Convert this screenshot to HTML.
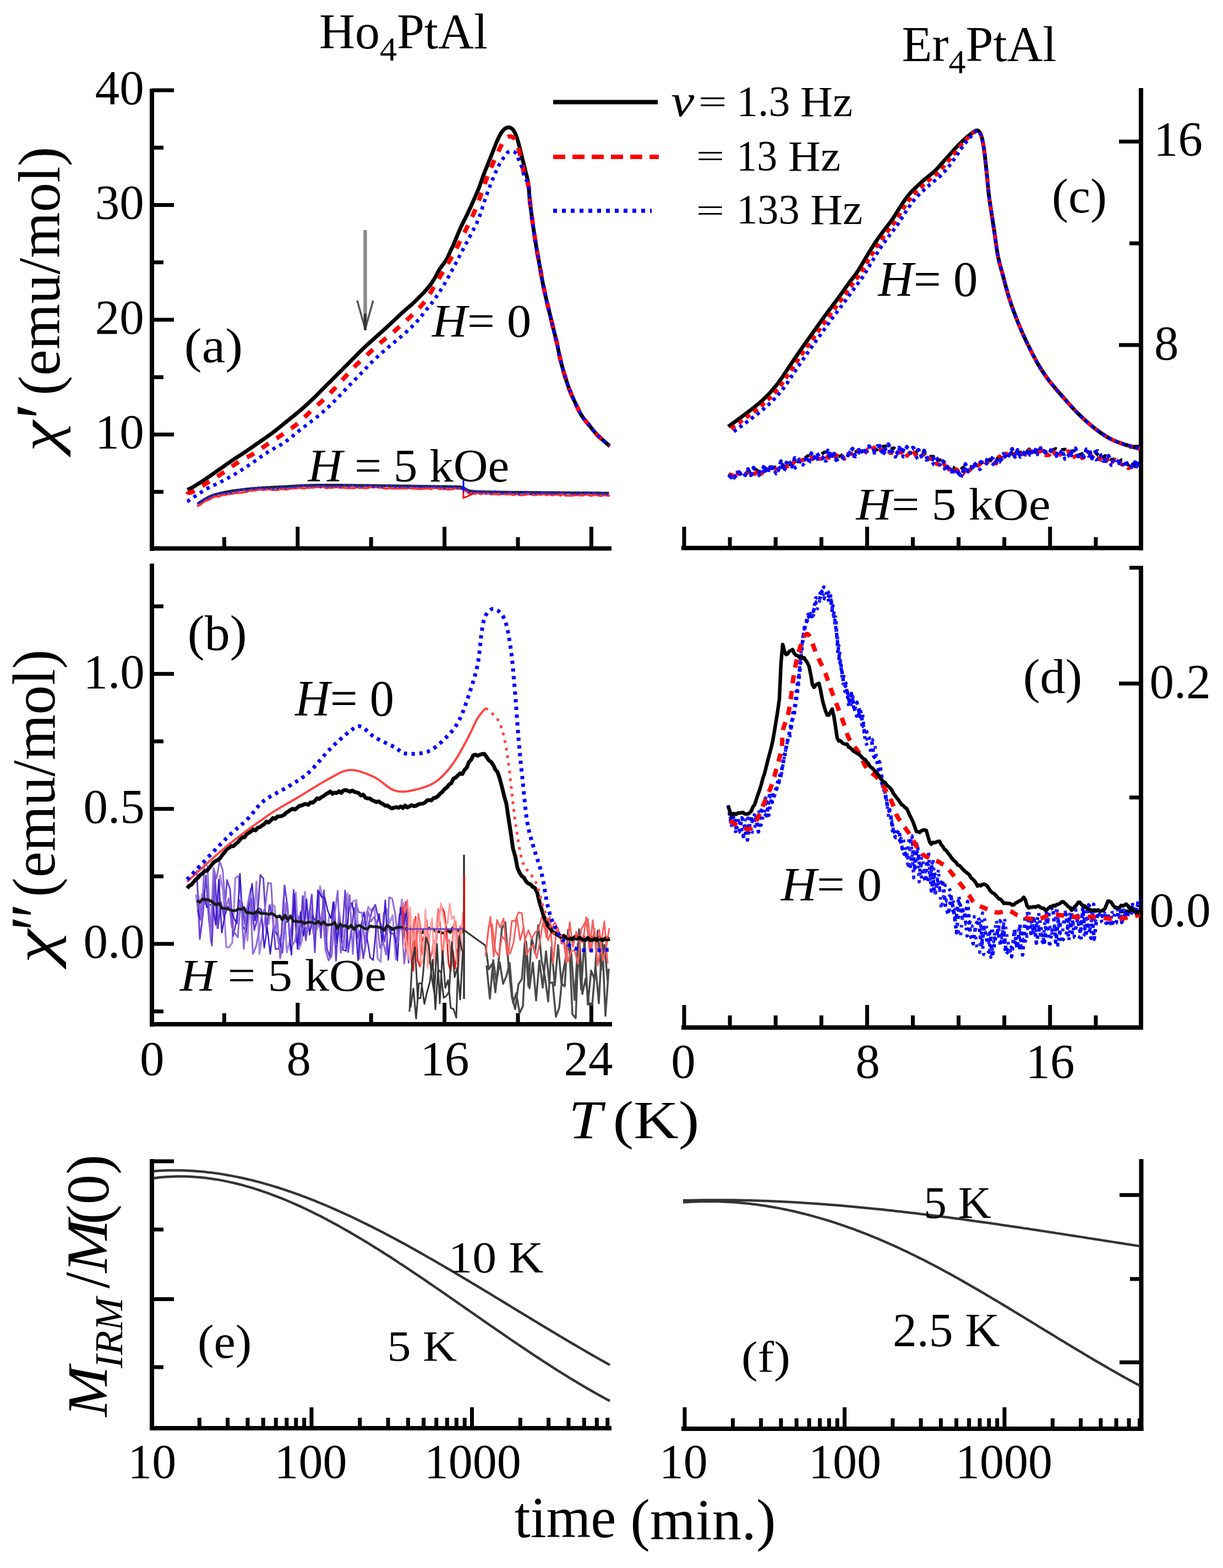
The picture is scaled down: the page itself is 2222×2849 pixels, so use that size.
<!DOCTYPE html>
<html><head><meta charset="utf-8"><style>html,body{margin:0;padding:0;background:#fff;}svg{display:block;}</style></head>
<body><svg xmlns="http://www.w3.org/2000/svg" width="2222" height="2849" viewBox="0 0 2222 2849" font-family="Liberation Serif, Times New Roman, serif"><rect x="272.0" y="161.0" width="8.0" height="840.0" fill="#000"/>
<rect x="272.0" y="992.5" width="839.0" height="8.0" fill="#000"/>
<rect x="276.0" y="786.0" width="40.0" height="7.0" fill="#000"/>
<rect x="276.0" y="577.5" width="40.0" height="7.0" fill="#000"/>
<rect x="276.0" y="369.0" width="40.0" height="7.0" fill="#000"/>
<rect x="276.0" y="160.5" width="40.0" height="7.0" fill="#000"/>
<rect x="276.0" y="890.2" width="21.0" height="7.0" fill="#000"/>
<rect x="276.0" y="681.8" width="21.0" height="7.0" fill="#000"/>
<rect x="276.0" y="473.2" width="21.0" height="7.0" fill="#000"/>
<rect x="276.0" y="264.8" width="21.0" height="7.0" fill="#000"/>
<rect x="537.3" y="957.0" width="7.0" height="39.0" fill="#000"/>
<rect x="804.1" y="957.0" width="7.0" height="39.0" fill="#000"/>
<rect x="1070.9" y="957.0" width="7.0" height="39.0" fill="#000"/>
<rect x="403.9" y="976.0" width="7.0" height="20.0" fill="#000"/>
<rect x="670.7" y="976.0" width="7.0" height="20.0" fill="#000"/>
<rect x="937.5" y="976.0" width="7.0" height="20.0" fill="#000"/>
<rect x="272.0" y="1024.0" width="8.0" height="841.5" fill="#000"/>
<rect x="272.0" y="1857.0" width="840.0" height="8.0" fill="#000"/>
<rect x="276.0" y="1711.5" width="40.0" height="7.0" fill="#000"/>
<rect x="276.0" y="1466.2" width="40.0" height="7.0" fill="#000"/>
<rect x="276.0" y="1220.9" width="40.0" height="7.0" fill="#000"/>
<rect x="276.0" y="1834.2" width="21.0" height="7.0" fill="#000"/>
<rect x="276.0" y="1588.8" width="21.0" height="7.0" fill="#000"/>
<rect x="276.0" y="1343.5" width="21.0" height="7.0" fill="#000"/>
<rect x="276.0" y="1098.2" width="21.0" height="7.0" fill="#000"/>
<rect x="537.3" y="1822.0" width="7.0" height="39.0" fill="#000"/>
<rect x="804.1" y="1822.0" width="7.0" height="39.0" fill="#000"/>
<rect x="1070.9" y="1822.0" width="7.0" height="39.0" fill="#000"/>
<rect x="403.9" y="1841.0" width="7.0" height="20.0" fill="#000"/>
<rect x="670.7" y="1841.0" width="7.0" height="20.0" fill="#000"/>
<rect x="937.5" y="1841.0" width="7.0" height="20.0" fill="#000"/>
<rect x="2069.0" y="160.0" width="8.0" height="840.0" fill="#000"/>
<rect x="1238.0" y="991.7" width="839.0" height="8.0" fill="#000"/>
<rect x="2033.0" y="623.4" width="40.0" height="7.0" fill="#000"/>
<rect x="2033.0" y="253.7" width="40.0" height="7.0" fill="#000"/>
<rect x="2052.0" y="808.3" width="21.0" height="7.0" fill="#000"/>
<rect x="2052.0" y="438.6" width="21.0" height="7.0" fill="#000"/>
<rect x="1239.5" y="957.0" width="7.0" height="39.0" fill="#000"/>
<rect x="1571.9" y="957.0" width="7.0" height="39.0" fill="#000"/>
<rect x="1904.3" y="957.0" width="7.0" height="39.0" fill="#000"/>
<rect x="1322.6" y="976.0" width="7.0" height="20.0" fill="#000"/>
<rect x="1405.7" y="976.0" width="7.0" height="20.0" fill="#000"/>
<rect x="1488.8" y="976.0" width="7.0" height="20.0" fill="#000"/>
<rect x="1655.0" y="976.0" width="7.0" height="20.0" fill="#000"/>
<rect x="1738.1" y="976.0" width="7.0" height="20.0" fill="#000"/>
<rect x="1821.2" y="976.0" width="7.0" height="20.0" fill="#000"/>
<rect x="1987.4" y="976.0" width="7.0" height="20.0" fill="#000"/>
<rect x="2069.0" y="1028.0" width="8.0" height="843.0" fill="#000"/>
<rect x="1238.0" y="1863.0" width="839.0" height="8.0" fill="#000"/>
<rect x="2052.0" y="1028.0" width="21.0" height="7.0" fill="#000"/>
<rect x="2033.0" y="1652.5" width="40.0" height="7.0" fill="#000"/>
<rect x="2033.0" y="1238.5" width="40.0" height="7.0" fill="#000"/>
<rect x="2052.0" y="1445.5" width="21.0" height="7.0" fill="#000"/>
<rect x="1239.5" y="1826.0" width="7.0" height="41.0" fill="#000"/>
<rect x="1571.9" y="1826.0" width="7.0" height="41.0" fill="#000"/>
<rect x="1904.3" y="1826.0" width="7.0" height="41.0" fill="#000"/>
<rect x="1322.6" y="1845.0" width="7.0" height="22.0" fill="#000"/>
<rect x="1405.7" y="1845.0" width="7.0" height="22.0" fill="#000"/>
<rect x="1488.8" y="1845.0" width="7.0" height="22.0" fill="#000"/>
<rect x="1655.0" y="1845.0" width="7.0" height="22.0" fill="#000"/>
<rect x="1738.1" y="1845.0" width="7.0" height="22.0" fill="#000"/>
<rect x="1821.2" y="1845.0" width="7.0" height="22.0" fill="#000"/>
<rect x="1987.4" y="1845.0" width="7.0" height="22.0" fill="#000"/>
<rect x="272.0" y="2106.0" width="8.0" height="493.0" fill="#000"/>
<rect x="272.0" y="2591.0" width="839.0" height="8.0" fill="#000"/>
<rect x="276.0" y="2106.5" width="40.0" height="7.0" fill="#000"/>
<rect x="276.0" y="2357.0" width="40.0" height="7.0" fill="#000"/>
<rect x="276.0" y="2230.5" width="21.0" height="7.0" fill="#000"/>
<rect x="276.0" y="2480.5" width="21.0" height="7.0" fill="#000"/>
<rect x="358.8" y="2576.0" width="7.0" height="19.0" fill="#000"/>
<rect x="410.1" y="2576.0" width="7.0" height="19.0" fill="#000"/>
<rect x="446.5" y="2576.0" width="7.0" height="19.0" fill="#000"/>
<rect x="474.7" y="2576.0" width="7.0" height="19.0" fill="#000"/>
<rect x="497.8" y="2576.0" width="7.0" height="19.0" fill="#000"/>
<rect x="517.3" y="2576.0" width="7.0" height="19.0" fill="#000"/>
<rect x="534.3" y="2576.0" width="7.0" height="19.0" fill="#000"/>
<rect x="549.2" y="2576.0" width="7.0" height="19.0" fill="#000"/>
<rect x="562.5" y="2557.0" width="7.0" height="38.0" fill="#000"/>
<rect x="650.3" y="2576.0" width="7.0" height="19.0" fill="#000"/>
<rect x="701.6" y="2576.0" width="7.0" height="19.0" fill="#000"/>
<rect x="738.0" y="2576.0" width="7.0" height="19.0" fill="#000"/>
<rect x="766.2" y="2576.0" width="7.0" height="19.0" fill="#000"/>
<rect x="789.3" y="2576.0" width="7.0" height="19.0" fill="#000"/>
<rect x="808.8" y="2576.0" width="7.0" height="19.0" fill="#000"/>
<rect x="825.8" y="2576.0" width="7.0" height="19.0" fill="#000"/>
<rect x="840.7" y="2576.0" width="7.0" height="19.0" fill="#000"/>
<rect x="854.0" y="2557.0" width="7.0" height="38.0" fill="#000"/>
<rect x="941.8" y="2576.0" width="7.0" height="19.0" fill="#000"/>
<rect x="993.1" y="2576.0" width="7.0" height="19.0" fill="#000"/>
<rect x="1029.5" y="2576.0" width="7.0" height="19.0" fill="#000"/>
<rect x="1057.7" y="2576.0" width="7.0" height="19.0" fill="#000"/>
<rect x="1080.8" y="2576.0" width="7.0" height="19.0" fill="#000"/>
<rect x="1100.3" y="2576.0" width="7.0" height="19.0" fill="#000"/>
<rect x="2069.5" y="2106.0" width="8.0" height="494.0" fill="#000"/>
<rect x="1238.0" y="2592.0" width="839.5" height="8.0" fill="#000"/>
<rect x="2034.0" y="2167.8" width="39.0" height="7.0" fill="#000"/>
<rect x="2034.0" y="2471.8" width="39.0" height="7.0" fill="#000"/>
<rect x="2053.0" y="2320.4" width="20.0" height="7.0" fill="#000"/>
<rect x="1240.5" y="2557.0" width="7.0" height="39.0" fill="#000"/>
<rect x="1327.9" y="2577.0" width="7.0" height="19.0" fill="#000"/>
<rect x="1379.1" y="2577.0" width="7.0" height="19.0" fill="#000"/>
<rect x="1415.4" y="2577.0" width="7.0" height="19.0" fill="#000"/>
<rect x="1443.6" y="2577.0" width="7.0" height="19.0" fill="#000"/>
<rect x="1466.6" y="2577.0" width="7.0" height="19.0" fill="#000"/>
<rect x="1486.0" y="2577.0" width="7.0" height="19.0" fill="#000"/>
<rect x="1502.8" y="2577.0" width="7.0" height="19.0" fill="#000"/>
<rect x="1517.7" y="2577.0" width="7.0" height="19.0" fill="#000"/>
<rect x="1531.0" y="2557.0" width="7.0" height="39.0" fill="#000"/>
<rect x="1618.4" y="2577.0" width="7.0" height="19.0" fill="#000"/>
<rect x="1669.6" y="2577.0" width="7.0" height="19.0" fill="#000"/>
<rect x="1705.9" y="2577.0" width="7.0" height="19.0" fill="#000"/>
<rect x="1734.1" y="2577.0" width="7.0" height="19.0" fill="#000"/>
<rect x="1757.1" y="2577.0" width="7.0" height="19.0" fill="#000"/>
<rect x="1776.5" y="2577.0" width="7.0" height="19.0" fill="#000"/>
<rect x="1793.3" y="2577.0" width="7.0" height="19.0" fill="#000"/>
<rect x="1808.2" y="2577.0" width="7.0" height="19.0" fill="#000"/>
<rect x="1821.5" y="2557.0" width="7.0" height="39.0" fill="#000"/>
<rect x="1908.9" y="2577.0" width="7.0" height="19.0" fill="#000"/>
<rect x="1960.1" y="2577.0" width="7.0" height="19.0" fill="#000"/>
<rect x="1996.4" y="2577.0" width="7.0" height="19.0" fill="#000"/>
<rect x="2024.6" y="2577.0" width="7.0" height="19.0" fill="#000"/>
<rect x="2047.6" y="2577.0" width="7.0" height="19.0" fill="#000"/>
<rect x="2067.0" y="2577.0" width="7.0" height="19.0" fill="#000"/>
<path d="M340.6,890.0 L342.4,889.1 L344.2,888.3 L346.0,887.4 L347.8,886.4 L349.5,885.5 L351.3,884.5 L353.0,883.5 L354.7,882.5 L356.4,881.4 L358.1,880.4 L359.8,879.3 L361.5,878.2 L363.2,877.2 L364.8,876.1 L366.5,875.0 L368.2,873.9 L369.9,872.8 L371.5,871.7 L373.2,870.5 L374.8,869.4 L376.5,868.3 L378.2,867.2 L379.8,866.1 L381.5,864.9 L383.1,863.8 L384.8,862.7 L386.4,861.5 L388.0,860.4 L389.7,859.2 L391.3,858.1 L392.9,856.9 L394.6,855.8 L396.2,854.6 L397.8,853.5 L399.5,852.3 L401.1,851.2 L402.8,850.0 L404.4,848.9 L406.0,847.7 L407.6,846.5 L409.3,845.4 L410.9,844.2 L412.5,843.1 L414.2,841.9 L415.8,840.8 L417.5,839.6 L419.1,838.5 L420.7,837.4 L422.4,836.2 L424.1,835.1 L425.7,834.0 L427.4,832.9 L429.1,831.8 L430.7,830.7 L432.4,829.6 L434.1,828.5 L435.8,827.5 L437.5,826.4 L439.1,825.3 L440.8,824.2 L442.5,823.1 L444.2,822.0 L445.8,820.9 L447.5,819.8 L449.1,818.7 L450.8,817.5 L452.4,816.4 L454.1,815.3 L455.7,814.1 L457.4,813.0 L459.0,811.8 L460.6,810.7 L462.3,809.5 L463.9,808.4 L465.5,807.2 L467.2,806.0 L468.8,804.9 L470.4,803.7 L472.1,802.6 L473.7,801.5 L475.4,800.3 L477.0,799.2 L478.7,798.1 L480.3,796.9 L482.0,795.8 L483.6,794.7 L485.3,793.5 L486.9,792.4 L488.5,791.2 L490.1,790.1 L491.8,788.9 L493.4,787.7 L495.0,786.5 L496.6,785.3 L498.2,784.1 L499.7,782.9 L501.3,781.6 L502.9,780.4 L504.4,779.1 L506.0,777.9 L507.6,776.6 L509.1,775.4 L510.7,774.1 L512.2,772.8 L513.8,771.6 L515.3,770.3 L516.9,769.0 L518.4,767.8 L520.0,766.5 L521.5,765.3 L523.1,764.0 L524.7,762.8 L526.2,761.5 L527.8,760.3 L529.3,759.0 L530.9,757.8 L532.5,756.5 L534.0,755.3 L535.6,754.0 L537.1,752.7 L538.6,751.4 L540.2,750.2 L541.7,748.9 L543.2,747.6 L544.8,746.3 L546.3,745.0 L547.8,743.7 L549.3,742.4 L550.8,741.0 L552.3,739.7 L553.8,738.4 L555.3,737.0 L556.8,735.7 L558.2,734.4 L559.7,733.0 L561.2,731.6 L562.6,730.3 L564.1,728.9 L565.6,727.5 L567.0,726.2 L568.4,724.8 L569.9,723.4 L571.3,722.0 L572.7,720.6 L574.2,719.2 L575.6,717.8 L577.0,716.4 L578.4,714.9 L579.8,713.5 L581.2,712.1 L582.6,710.7 L584.0,709.2 L585.4,707.8 L586.8,706.4 L588.2,705.0 L589.7,703.6 L591.1,702.1 L592.5,700.7 L593.9,699.3 L595.3,697.9 L596.7,696.5 L598.1,695.1 L599.6,693.7 L601.0,692.3 L602.4,690.9 L603.8,689.4 L605.2,688.0 L606.7,686.6 L608.1,685.2 L609.5,683.8 L610.9,682.4 L612.3,681.0 L613.7,679.6 L615.1,678.1 L616.6,676.7 L618.0,675.3 L619.4,673.9 L620.8,672.5 L622.2,671.1 L623.6,669.6 L625.0,668.2 L626.4,666.8 L627.9,665.4 L629.3,664.0 L630.7,662.6 L632.1,661.1 L633.5,659.7 L634.9,658.3 L636.3,656.9 L637.7,655.5 L639.1,654.0 L640.5,652.6 L641.9,651.2 L643.4,649.8 L644.8,648.4 L646.2,646.9 L647.6,645.5 L649.0,644.1 L650.4,642.7 L651.8,641.3 L653.2,639.8 L654.6,638.4 L656.1,637.0 L657.5,635.6 L658.9,634.2 L660.4,632.9 L661.8,631.5 L663.3,630.1 L664.7,628.7 L666.2,627.4 L667.7,626.0 L669.2,624.7 L670.7,623.4 L672.1,622.0 L673.6,620.7 L675.1,619.4 L676.6,618.0 L678.1,616.7 L679.6,615.4 L681.1,614.0 L682.6,612.7 L684.1,611.4 L685.6,610.0 L687.1,608.7 L688.5,607.4 L690.0,606.0 L691.5,604.7 L693.0,603.3 L694.5,602.0 L696.0,600.7 L697.4,599.3 L698.9,598.0 L700.4,596.6 L701.9,595.3 L703.3,593.9 L704.8,592.6 L706.3,591.2 L707.8,589.8 L709.2,588.5 L710.7,587.1 L712.1,585.8 L713.6,584.4 L715.1,583.0 L716.5,581.7 L718.0,580.3 L719.4,578.9 L720.9,577.5 L722.3,576.1 L723.8,574.8 L725.2,573.4 L726.7,572.0 L728.1,570.6 L729.6,569.3 L731.1,567.9 L732.6,566.6 L734.0,565.3 L735.6,563.9 L737.1,562.6 L738.6,561.3 L740.1,560.1 L741.7,558.8 L743.2,557.5 L744.7,556.2 L746.2,554.9 L747.7,553.5 L749.2,552.2 L750.6,550.8 L752.1,549.4 L753.5,548.1 L754.9,546.7 L756.4,545.2 L757.8,543.8 L759.2,542.4 L760.6,541.0 L762.0,539.5 L763.4,538.1 L764.8,536.7 L766.2,535.3 L767.6,533.8 L769.0,532.4 L770.4,531.0 L771.8,529.5 L773.1,528.1 L774.5,526.6 L775.8,525.1 L777.0,523.5 L778.3,522.0 L779.5,520.4 L780.7,518.8 L781.9,517.2 L783.1,515.6 L784.3,514.0 L785.4,512.3 L786.5,510.7 L787.6,509.0 L788.7,507.3 L789.7,505.6 L790.7,503.9 L791.6,502.1 L792.6,500.3 L793.5,498.5 L794.4,496.8 L795.3,495.0 L796.2,493.2 L797.2,491.5 L798.3,489.8 L799.4,488.1 L800.5,486.5 L801.7,484.9 L802.9,483.3 L804.1,481.7 L805.3,480.1 L806.5,478.5 L807.6,476.9 L808.8,475.2 L809.9,473.6 L811.0,471.9 L812.0,470.2 L812.9,468.4 L813.8,466.6 L814.6,464.8 L815.4,463.0 L816.2,461.2 L817.0,459.3 L817.8,457.5 L818.6,455.7 L819.5,453.9 L820.3,452.1 L821.2,450.3 L822.1,448.5 L823.0,446.7 L823.8,444.8 L824.6,443.0 L825.4,441.2 L826.1,439.3 L826.9,437.5 L827.6,435.6 L828.4,433.8 L829.1,431.9 L829.9,430.1 L830.6,428.2 L831.4,426.4 L832.2,424.5 L833.0,422.7 L833.8,420.8 L834.5,419.0 L835.4,417.2 L836.2,415.4 L837.0,413.5 L837.8,411.7 L838.7,409.9 L839.6,408.1 L840.4,406.3 L841.3,404.5 L842.2,402.7 L843.1,401.0 L844.0,399.2 L845.0,397.4 L845.8,395.6 L846.7,393.8 L847.6,392.0 L848.5,390.2 L849.4,388.4 L850.2,386.6 L851.1,384.8 L851.9,383.0 L852.7,381.2 L853.6,379.4 L854.4,377.5 L855.2,375.7 L856.1,373.9 L856.9,372.1 L857.7,370.2 L858.5,368.4 L859.3,366.6 L860.1,364.8 L861.0,362.9 L861.8,361.1 L862.6,359.3 L863.4,357.4 L864.2,355.6 L865.0,353.8 L865.8,351.9 L866.6,350.1 L867.3,348.3 L868.1,346.4 L868.9,344.6 L869.6,342.7 L870.4,340.9 L871.1,339.0 L871.8,337.1 L872.4,335.2 L873.1,333.3 L873.8,331.5 L874.4,329.6 L875.1,327.7 L875.7,325.8 L876.4,323.9 L877.0,322.0 L877.7,320.1 L878.4,318.2 L879.1,316.4 L879.8,314.5 L880.6,312.6 L881.3,310.8 L882.0,308.9 L882.8,307.1 L883.5,305.2 L884.3,303.4 L885.0,301.5 L885.8,299.7 L886.5,297.8 L887.3,295.9 L888.0,294.1 L888.8,292.2 L889.5,290.4 L890.2,288.5 L891.0,286.7 L891.7,284.8 L892.5,283.0 L893.2,281.1 L894.0,279.2 L894.7,277.4 L895.4,275.5 L896.2,273.7 L896.9,271.8 L897.6,269.9 L898.4,268.1 L899.1,266.2 L899.8,264.3 L900.5,262.5 L901.3,260.6 L902.0,258.8 L902.8,256.9 L903.6,255.1 L904.4,253.3 L905.3,251.5 L906.1,249.7 L907.0,247.9 L907.9,246.1 L908.9,244.3 L909.9,242.6 L911.0,240.9 L912.1,239.3 L913.3,237.7 L914.7,236.3 L916.1,234.9 L917.7,233.7 L919.4,232.6 L921.2,231.8 L923.0,231.4 L924.9,231.4 L926.8,231.9 L928.6,232.7 L930.1,233.8 L931.6,235.2 L932.8,236.7 L933.9,238.4 L934.9,240.1 L935.8,241.9 L936.6,243.7 L937.4,245.6 L938.1,247.4 L938.8,249.3 L939.5,251.2 L940.1,253.1 L940.6,255.0 L941.2,256.9 L941.7,258.9 L942.2,260.8 L942.7,262.8 L943.2,264.7 L943.7,266.6 L944.2,268.6 L944.7,270.5 L945.2,272.4 L945.6,274.4 L946.1,276.3 L946.6,278.3 L947.1,280.2 L947.6,282.1 L948.0,284.1 L948.5,286.0 L949.0,288.0 L949.5,289.9 L950.0,291.8 L950.5,293.8 L951.0,295.7 L951.5,297.7 L952.0,299.6 L952.4,301.5 L952.9,303.5 L953.4,305.4 L953.9,307.4 L954.4,309.3 L954.8,311.3 L955.3,313.2 L955.8,315.1 L956.3,317.1 L956.8,319.0 L957.3,320.9 L957.8,322.9 L958.2,324.8 L958.6,326.8 L959.0,328.8 L959.4,330.7 L959.7,332.7 L959.9,334.7 L960.2,336.7 L960.4,338.7 L960.6,340.6 L960.8,342.6 L961.0,344.6 L961.1,346.6 L961.3,348.6 L961.4,350.6 L961.5,352.6 L961.7,354.6 L961.9,356.6 L962.0,358.6 L962.2,360.6 L962.4,362.6 L962.6,364.6 L962.8,366.5 L963.1,368.5 L963.3,370.5 L963.5,372.5 L963.8,374.5 L964.0,376.5 L964.3,378.5 L964.5,380.4 L964.8,382.4 L965.0,384.4 L965.3,386.4 L965.6,388.4 L965.8,390.4 L966.1,392.3 L966.3,394.3 L966.6,396.3 L966.9,398.3 L967.1,400.3 L967.4,402.2 L967.7,404.2 L967.9,406.2 L968.2,408.2 L968.5,410.2 L968.8,412.2 L969.1,414.1 L969.3,416.1 L969.6,418.1 L969.9,420.1 L970.2,422.1 L970.5,424.0 L970.8,426.0 L971.1,428.0 L971.4,430.0 L971.7,431.9 L972.0,433.9 L972.3,435.9 L972.6,437.9 L972.9,439.8 L973.3,441.8 L973.6,443.8 L973.9,445.8 L974.2,447.7 L974.6,449.7 L974.9,451.7 L975.2,453.7 L975.6,455.6 L975.9,457.6 L976.3,459.6 L976.6,461.5 L977.0,463.5 L977.3,465.5 L977.7,467.4 L978.0,469.4 L978.4,471.4 L978.8,473.3 L979.1,475.3 L979.5,477.3 L979.8,479.2 L980.2,481.2 L980.6,483.2 L980.9,485.1 L981.3,487.1 L981.6,489.1 L981.9,491.1 L982.3,493.0 L982.6,495.0 L983.0,497.0 L983.3,498.9 L983.7,500.9 L984.0,502.9 L984.3,504.8 L984.7,506.8 L985.1,508.8 L985.4,510.7 L985.8,512.7 L986.2,514.7 L986.6,516.6 L987.0,518.6 L987.4,520.6 L987.8,522.5 L988.2,524.5 L988.6,526.4 L989.0,528.4 L989.5,530.3 L989.9,532.3 L990.3,534.2 L990.8,536.2 L991.2,538.1 L991.7,540.1 L992.1,542.0 L992.6,544.0 L993.0,545.9 L993.5,547.9 L993.9,549.8 L994.4,551.8 L994.9,553.7 L995.3,555.7 L995.8,557.6 L996.3,559.6 L996.8,561.5 L997.2,563.4 L997.7,565.4 L998.2,567.3 L998.7,569.3 L999.1,571.2 L999.6,573.1 L1000.1,575.1 L1000.6,577.0 L1001.0,579.0 L1001.5,580.9 L1001.9,582.9 L1002.4,584.8 L1002.9,586.8 L1003.3,588.7 L1003.8,590.7 L1004.3,592.6 L1004.7,594.5 L1005.2,596.5 L1005.7,598.4 L1006.1,600.4 L1006.6,602.3 L1007.1,604.3 L1007.6,606.2 L1008.1,608.1 L1008.6,610.1 L1009.1,612.0 L1009.5,614.0 L1010.0,615.9 L1010.5,617.8 L1011.0,619.8 L1011.4,621.7 L1011.9,623.7 L1012.3,625.6 L1012.7,627.6 L1013.1,629.5 L1013.5,631.5 L1013.9,633.5 L1014.3,635.4 L1014.7,637.4 L1015.1,639.4 L1015.5,641.3 L1015.9,643.3 L1016.3,645.2 L1016.7,647.2 L1017.2,649.1 L1017.6,651.1 L1018.1,653.0 L1018.6,655.0 L1019.0,656.9 L1019.5,658.8 L1020.0,660.8 L1020.5,662.7 L1021.0,664.7 L1021.6,666.6 L1022.1,668.5 L1022.6,670.4 L1023.2,672.4 L1023.7,674.3 L1024.3,676.2 L1024.8,678.1 L1025.4,680.0 L1026.0,682.0 L1026.6,683.9 L1027.1,685.8 L1027.7,687.7 L1028.4,689.6 L1029.0,691.5 L1029.6,693.4 L1030.2,695.3 L1030.8,697.2 L1031.5,699.1 L1032.1,701.0 L1032.8,702.9 L1033.5,704.8 L1034.2,706.6 L1034.9,708.5 L1035.6,710.4 L1036.3,712.2 L1037.1,714.1 L1037.9,715.9 L1038.6,717.8 L1039.4,719.6 L1040.3,721.4 L1041.1,723.2 L1041.9,725.1 L1042.7,726.9 L1043.6,728.7 L1044.4,730.5 L1045.3,732.3 L1046.1,734.1 L1047.0,735.9 L1047.8,737.7 L1048.7,739.6 L1049.6,741.4 L1050.4,743.2 L1051.3,745.0 L1052.2,746.7 L1053.1,748.5 L1054.0,750.3 L1055.0,752.0 L1056.0,753.8 L1057.1,755.5 L1058.2,757.1 L1059.3,758.8 L1060.5,760.4 L1061.7,762.0 L1062.9,763.5 L1064.2,765.1 L1065.5,766.6 L1066.8,768.1 L1068.0,769.7 L1069.3,771.2 L1070.6,772.8 L1071.8,774.3 L1073.1,775.9 L1074.3,777.5 L1075.5,779.0 L1076.8,780.6 L1078.0,782.2 L1079.3,783.7 L1080.6,785.3 L1081.9,786.8 L1083.2,788.3 L1084.6,789.7 L1086.0,791.1 L1087.4,792.5 L1088.9,793.9 L1090.3,795.2 L1091.8,796.6 L1093.3,797.9 L1094.8,799.2 L1096.3,800.6 L1097.8,801.9 L1099.3,803.2 L1100.8,804.5 L1102.3,805.8 L1103.8,807.1 L1105.3,808.3 L1106.8,809.4 L1108.0,810.0" fill="none" stroke="#000" stroke-width="7" stroke-linejoin="round" />
<path d="M340.0,893.0 L341.2,894.6 L342.8,895.2 L344.6,895.2 L346.4,894.9 L348.1,894.3 L349.9,893.6 L351.6,892.8 L353.4,891.9 L355.1,890.9 L356.8,889.9 L358.5,888.8 L360.2,887.8 L361.9,886.7 L363.6,885.6 L365.3,884.5 L366.9,883.4 L368.6,882.3 L370.3,881.2 L372.0,880.2 L373.7,879.1 L375.3,878.0 L377.0,876.9 L378.7,875.9 L380.4,874.8 L382.1,873.8 L383.8,872.7 L385.5,871.6 L387.2,870.6 L388.9,869.5 L390.6,868.5 L392.3,867.4 L394.0,866.3 L395.7,865.3 L397.4,864.2 L399.0,863.1 L400.7,862.0 L402.4,860.9 L404.0,859.8 L405.7,858.7 L407.3,857.5 L409.0,856.4 L410.6,855.2 L412.2,854.0 L413.8,852.9 L415.5,851.7 L417.1,850.5 L418.7,849.3 L420.3,848.2 L422.0,847.0 L423.6,845.9 L425.2,844.7 L426.9,843.6 L428.5,842.5 L430.2,841.4 L431.9,840.3 L433.6,839.3 L435.3,838.2 L437.0,837.2 L438.8,836.3 L440.5,835.3 L442.3,834.4 L444.1,833.4 L445.8,832.5 L447.6,831.6 L449.4,830.6 L451.2,829.7 L452.9,828.8 L454.7,827.8 L456.4,826.8 L458.2,825.8 L459.9,824.8 L461.6,823.8 L463.3,822.7 L465.0,821.6 L466.6,820.5 L468.3,819.4 L469.9,818.3 L471.6,817.2 L473.2,816.0 L474.9,814.9 L476.5,813.7 L478.1,812.6 L479.8,811.4 L481.4,810.3 L483.1,809.1 L484.7,808.0 L486.4,806.9 L488.0,805.8 L489.7,804.7 L491.4,803.6 L493.0,802.5 L494.7,801.4 L496.4,800.3 L498.1,799.2 L499.7,798.1 L501.4,797.0 L503.1,796.0 L504.8,794.9 L506.5,793.8 L508.1,792.7 L509.8,791.6 L511.5,790.5 L513.2,789.4 L514.8,788.3 L516.5,787.2 L518.1,786.0 L519.8,784.9 L521.4,783.8 L523.1,782.7 L524.7,781.5 L526.4,780.4 L528.0,779.2 L529.7,778.1 L531.3,776.9 L532.9,775.7 L534.5,774.5 L536.1,773.3 L537.7,772.1 L539.2,770.8 L540.8,769.6 L542.3,768.3 L543.8,767.0 L545.3,765.7 L546.8,764.3 L548.2,763.0 L549.7,761.6 L551.1,760.2 L552.6,758.8 L554.0,757.4 L555.4,756.0 L556.8,754.6 L558.3,753.2 L559.7,751.8 L561.1,750.4 L562.6,749.0 L564.0,747.6 L565.5,746.2 L566.9,744.9 L568.4,743.5 L569.9,742.2 L571.4,740.9 L572.9,739.5 L574.4,738.2 L575.9,736.9 L577.4,735.6 L578.9,734.3 L580.4,733.0 L581.9,731.6 L583.4,730.3 L584.9,729.0 L586.4,727.6 L587.9,726.3 L589.3,724.9 L590.8,723.5 L592.2,722.1 L593.6,720.7 L595.0,719.3 L596.5,717.9 L597.8,716.5 L599.2,715.0 L600.6,713.6 L602.0,712.2 L603.4,710.7 L604.7,709.2 L606.1,707.8 L607.5,706.3 L608.8,704.9 L610.2,703.4 L611.6,701.9 L612.9,700.4 L614.3,699.0 L615.6,697.5 L617.0,696.0 L618.3,694.5 L619.6,693.0 L621.0,691.6 L622.3,690.1 L623.6,688.6 L624.9,687.1 L626.3,685.6 L627.6,684.1 L628.9,682.6 L630.2,681.1 L631.6,679.6 L632.9,678.1 L634.2,676.6 L635.6,675.1 L636.9,673.6 L638.3,672.2 L639.7,670.7 L641.1,669.3 L642.5,667.9 L643.9,666.4 L645.3,665.0 L646.7,663.6 L648.2,662.2 L649.6,660.9 L651.1,659.5 L652.5,658.1 L654.0,656.7 L655.4,655.4 L656.9,654.0 L658.4,652.7 L659.8,651.3 L661.3,649.9 L662.8,648.6 L664.2,647.2 L665.7,645.9 L667.2,644.5 L668.7,643.2 L670.1,641.8 L671.6,640.5 L673.1,639.1 L674.6,637.8 L676.1,636.4 L677.5,635.1 L679.0,633.8 L680.5,632.4 L682.0,631.1 L683.5,629.8 L685.0,628.4 L686.5,627.1 L688.0,625.8 L689.5,624.4 L691.0,623.1 L692.5,621.8 L694.0,620.5 L695.5,619.2 L697.0,617.9 L698.5,616.6 L700.1,615.3 L701.6,614.0 L703.1,612.7 L704.7,611.4 L706.2,610.2 L707.7,608.9 L709.3,607.6 L710.8,606.3 L712.3,605.0 L713.9,603.8 L715.4,602.5 L716.9,601.2 L718.4,599.9 L720.0,598.6 L721.5,597.2 L723.0,595.9 L724.5,594.6 L726.0,593.3 L727.5,592.0 L729.0,590.7 L730.5,589.3 L732.0,588.0 L733.5,586.7 L735.0,585.4 L736.5,584.0 L738.0,582.7 L739.4,581.3 L740.9,580.0 L742.4,578.6 L743.8,577.2 L745.3,575.9 L746.7,574.5 L748.2,573.1 L749.6,571.7 L751.1,570.3 L752.5,568.9 L753.9,567.5 L755.3,566.1 L756.8,564.7 L758.2,563.3 L759.6,561.9 L760.9,560.4 L762.3,559.0 L763.7,557.5 L765.0,556.0 L766.3,554.5 L767.6,553.0 L768.9,551.5 L770.1,549.9 L771.4,548.3 L772.5,546.7 L773.7,545.1 L774.8,543.4 L776.0,541.8 L777.0,540.1 L778.1,538.4 L779.2,536.7 L780.2,535.0 L781.2,533.3 L782.3,531.6 L783.3,529.8 L784.3,528.1 L785.3,526.4 L786.3,524.7 L787.3,522.9 L788.3,521.2 L789.3,519.5 L790.4,517.8 L791.4,516.1 L792.4,514.3 L793.5,512.6 L794.5,510.9 L795.5,509.2 L796.6,507.5 L797.6,505.8 L798.6,504.1 L799.7,502.4 L800.7,500.6 L801.7,498.9 L802.8,497.2 L803.8,495.5 L804.8,493.8 L805.8,492.1 L806.9,490.4 L807.9,488.6 L808.9,486.9 L809.9,485.2 L811.0,483.5 L812.0,481.8 L813.0,480.1 L814.1,478.3 L815.1,476.6 L816.1,474.9 L817.1,473.2 L818.2,471.5 L819.2,469.8 L820.2,468.0 L821.2,466.3 L822.2,464.6 L823.2,462.8 L824.2,461.1 L825.1,459.3 L826.1,457.6 L827.0,455.8 L828.0,454.0 L828.9,452.3 L829.8,450.5 L830.7,448.7 L831.6,446.9 L832.5,445.1 L833.4,443.3 L834.2,441.5 L835.1,439.7 L836.0,437.9 L836.9,436.1 L837.8,434.4 L838.6,432.6 L839.5,430.8 L840.4,429.0 L841.3,427.2 L842.2,425.4 L843.1,423.6 L844.1,421.8 L845.0,420.1 L845.9,418.3 L846.8,416.5 L847.7,414.7 L848.6,412.9 L849.5,411.2 L850.4,409.4 L851.3,407.6 L852.2,405.8 L853.1,404.0 L853.9,402.2 L854.8,400.4 L855.7,398.6 L856.5,396.8 L857.3,394.9 L858.2,393.1 L859.0,391.3 L859.8,389.5 L860.6,387.6 L861.4,385.8 L862.2,384.0 L862.9,382.1 L863.7,380.3 L864.5,378.4 L865.2,376.6 L866.0,374.7 L866.7,372.9 L867.4,371.0 L868.1,369.1 L868.9,367.3 L869.6,365.4 L870.3,363.5 L870.9,361.6 L871.6,359.7 L872.3,357.9 L872.9,356.0 L873.6,354.1 L874.2,352.2 L874.9,350.3 L875.5,348.4 L876.2,346.5 L876.8,344.6 L877.5,342.7 L878.1,340.8 L878.8,339.0 L879.5,337.1 L880.2,335.2 L880.9,333.3 L881.6,331.4 L882.3,329.6 L883.0,327.7 L883.7,325.8 L884.4,324.0 L885.2,322.1 L885.9,320.3 L886.7,318.4 L887.4,316.6 L888.2,314.7 L888.9,312.8 L889.7,311.0 L890.4,309.1 L891.2,307.3 L892.0,305.5 L892.7,303.6 L893.5,301.8 L894.3,299.9 L895.1,298.1 L895.9,296.3 L896.7,294.4 L897.5,292.6 L898.3,290.8 L899.1,288.9 L899.9,287.1 L900.7,285.3 L901.5,283.5 L902.4,281.6 L903.2,279.8 L904.0,278.0 L904.9,276.2 L905.7,274.4 L906.6,272.6 L907.5,270.8 L908.4,269.0 L909.2,267.2 L910.1,265.4 L911.0,263.6 L912.0,261.8 L912.9,260.1 L913.9,258.3 L914.9,256.6 L916.0,254.9 L917.1,253.3 L918.4,251.8 L919.8,250.4 L921.4,249.3 L923.1,248.5 L925.0,248.0 L927.0,248.0 L928.9,248.3 L930.7,249.0 L932.5,249.9 L934.0,251.1 L935.3,252.5 L936.5,254.1 L937.4,255.9 L938.3,257.7 L939.0,259.5 L939.6,261.4 L940.2,263.4 L940.7,265.3 L941.3,267.2 L941.8,269.1 L942.3,271.1 L942.8,273.0 L943.4,274.9 L943.9,276.9 L944.3,278.8 L944.8,280.7 L945.3,282.7 L945.7,284.6 L946.2,286.6 L946.6,288.5 L947.1,290.5 L947.5,292.4 L947.9,294.4 L948.4,296.3 L948.8,298.3 L949.2,300.3 L949.6,302.2 L949.9,304.2 L950.3,306.2 L950.6,308.1 L951.0,310.1 L951.4,312.1 L951.7,314.0 L952.1,316.0 L952.4,318.0 L952.8,319.9 L953.2,321.9 L953.6,323.9 L954.0,325.8 L954.5,327.7 L955.2,329.4 L956.1,330.8 L957.4,331.6 L958.6,332.3 L959.5,333.5 L959.6,335.7 L960.1,337.4 L960.4,339.2 L960.7,341.2 L960.9,343.1 L961.0,345.1 L961.2,347.1 L961.3,349.1 L961.4,351.1 L961.6,353.1 L961.7,355.1 L961.9,357.1 L962.1,359.1 L962.3,361.0 L962.5,363.0 L962.7,365.0 L962.9,367.0 L963.1,369.0 L963.4,371.0 L963.6,373.0 L963.8,375.0 L964.1,376.9 L964.3,378.9 L964.6,380.9 L964.8,382.9 L965.1,384.9 L965.4,386.9 L965.6,388.8 L965.9,390.8 L966.1,392.8 L966.4,394.8 L966.7,396.8 L966.9,398.8 L967.2,400.7 L967.5,402.7 L967.7,404.7 L968.0,406.7 L968.3,408.7 L968.6,410.6 L968.8,412.6 L969.1,414.6 L969.4,416.6 L969.7,418.6 L970.0,420.5 L970.3,422.5 L970.6,424.5 L970.9,426.5 L971.2,428.5 L971.5,430.4 L971.8,432.4 L972.1,434.4 L972.4,436.4 L972.7,438.3 L973.0,440.3 L973.3,442.3 L973.7,444.3 L974.0,446.2 L974.3,448.2 L974.6,450.2 L975.0,452.2 L975.3,454.1 L975.6,456.1 L976.0,458.1 L976.3,460.0 L976.7,462.0 L977.0,464.0 L977.4,465.9 L977.8,467.9 L978.1,469.9 L978.5,471.8 L978.8,473.8 L979.2,475.8 L979.6,477.7 L979.9,479.7 L980.3,481.7 L980.6,483.6 L981.0,485.6 L981.3,487.6 L981.7,489.6 L982.0,491.5 L982.4,493.5 L982.7,495.5 L983.0,497.4 L983.4,499.4 L983.7,501.4 L984.1,503.3 L984.4,505.3 L984.8,507.3 L985.1,509.2 L985.5,511.2 L985.9,513.2 L986.3,515.1 L986.7,517.1 L987.1,519.1 L987.5,521.0 L987.9,523.0 L988.3,524.9 L988.7,526.9 L989.1,528.8 L989.6,530.8 L990.0,532.7 L990.4,534.7 L990.9,536.7 L991.3,538.6 L991.8,540.6 L992.2,542.5 L992.7,544.4 L993.1,546.4 L993.6,548.3 L994.0,550.3 L994.5,552.2 L995.0,554.2 L995.4,556.1 L995.9,558.1 L996.4,560.0 L996.9,562.0 L997.3,563.9 L997.8,565.8 L998.3,567.8 L998.8,569.7 L999.2,571.7 L999.7,573.6 L1000.2,575.6 L1000.7,577.5 L1001.1,579.4 L1001.6,581.4 L1002.1,583.3 L1002.5,585.3 L1003.0,587.2 L1003.4,589.2 L1003.9,591.1 L1004.4,593.1 L1004.8,595.0 L1005.3,597.0 L1005.8,598.9 L1006.2,600.8 L1006.7,602.8 L1007.2,604.7 L1007.7,606.7 L1008.2,608.6 L1008.7,610.5 L1009.2,612.5 L1009.7,614.4 L1010.1,616.4 L1010.6,618.3 L1011.1,620.2 L1011.6,622.2 L1012.0,624.1 L1012.4,626.1 L1012.8,628.0 L1013.2,630.0 L1013.6,632.0 L1014.0,633.9 L1014.4,635.9 L1014.8,637.9 L1015.2,639.8 L1015.6,641.8 L1016.0,643.7 L1016.4,645.7 L1016.8,647.6 L1017.3,649.6 L1017.7,651.5 L1018.2,653.5 L1018.7,655.4 L1019.2,657.4 L1019.7,659.3 L1020.1,661.2 L1020.7,663.2 L1021.2,665.1 L1021.7,667.0 L1022.2,669.0 L1022.8,670.9 L1023.3,672.8 L1023.8,674.7 L1024.4,676.7 L1025.0,678.6 L1025.5,680.5 L1026.1,682.4 L1026.7,684.3 L1027.3,686.2 L1027.9,688.1 L1028.5,690.0 L1029.1,692.0 L1029.7,693.9 L1030.4,695.8 L1031.0,697.6 L1031.6,699.5 L1032.3,701.4 L1033.0,703.3 L1033.6,705.2 L1034.3,707.1 L1035.0,708.9 L1035.8,710.8 L1036.5,712.7 L1037.3,714.5 L1038.0,716.4 L1038.8,718.2 L1039.6,720.0 L1040.5,721.9 L1041.3,723.7 L1042.1,725.5 L1042.9,727.3 L1043.8,729.1 L1044.6,730.9 L1045.5,732.7 L1046.3,734.6 L1047.2,736.4 L1048.0,738.2 L1048.9,740.0 L1049.8,741.8 L1050.6,743.6 L1051.5,745.4 L1052.4,747.2 L1053.3,748.9 L1054.3,750.7 L1055.2,752.4 L1056.3,754.2 L1057.3,755.9 L1058.4,757.5 L1059.6,759.1 L1060.8,760.8 L1062.0,762.3 L1063.2,763.9 L1064.5,765.4 L1065.8,767.0 L1067.1,768.5 L1068.3,770.0 L1069.6,771.6 L1070.9,773.1 L1072.1,774.7 L1073.4,776.3 L1074.6,777.8 L1075.8,779.4 L1077.1,781.0 L1078.3,782.5 L1079.6,784.1 L1080.9,785.6 L1082.2,787.1 L1083.5,788.6 L1084.9,790.0 L1086.3,791.5 L1087.8,792.9 L1089.2,794.2 L1090.7,795.6 L1092.2,796.9 L1093.7,798.2 L1095.2,799.5 L1096.7,800.9 L1098.2,802.2 L1099.7,803.5 L1101.1,804.8 L1102.6,806.1 L1104.1,807.3 L1105.6,808.5 L1107.0,809.6 L1108.0,810.0" fill="none" stroke="#f00" stroke-width="8" stroke-dasharray="15 17" stroke-linejoin="round" />
<path d="M340.0,911.0 L340.9,910.7 L342.5,909.7 L344.0,908.7 L345.6,907.6 L347.3,906.5 L348.9,905.4 L350.6,904.3 L352.2,903.2 L353.8,902.1 L355.5,900.9 L357.2,899.8 L358.8,898.7 L360.5,897.6 L362.1,896.5 L363.8,895.4 L365.5,894.3 L367.2,893.2 L368.9,892.1 L370.6,891.1 L372.3,890.1 L374.0,889.1 L375.8,888.1 L377.5,887.2 L379.3,886.2 L381.1,885.3 L382.9,884.4 L384.7,883.5 L386.5,882.7 L388.3,881.8 L390.1,880.9 L391.9,880.1 L393.7,879.2 L395.5,878.3 L397.3,877.4 L399.1,876.5 L400.8,875.6 L402.6,874.7 L404.4,873.8 L406.2,872.9 L407.9,871.9 L409.7,871.0 L411.5,870.1 L413.2,869.1 L415.0,868.2 L416.7,867.2 L418.5,866.2 L420.2,865.3 L422.0,864.3 L423.7,863.3 L425.4,862.3 L427.2,861.3 L428.9,860.3 L430.6,859.2 L432.3,858.2 L434.0,857.1 L435.7,856.1 L437.4,855.0 L439.1,853.9 L440.8,852.8 L442.4,851.8 L444.1,850.7 L445.8,849.6 L447.4,848.5 L449.1,847.3 L450.8,846.2 L452.4,845.1 L454.1,844.0 L455.7,842.9 L457.4,841.7 L459.0,840.6 L460.7,839.5 L462.3,838.3 L464.0,837.2 L465.6,836.0 L467.2,834.8 L468.8,833.7 L470.5,832.5 L472.1,831.3 L473.7,830.2 L475.3,829.0 L477.0,827.9 L478.6,826.7 L480.3,825.6 L481.9,824.5 L483.6,823.4 L485.3,822.3 L487.0,821.2 L488.7,820.2 L490.4,819.2 L492.1,818.2 L493.9,817.2 L495.6,816.2 L497.4,815.3 L499.1,814.3 L500.9,813.4 L502.7,812.4 L504.4,811.5 L506.2,810.5 L507.9,809.5 L509.6,808.5 L511.3,807.5 L513.0,806.4 L514.7,805.3 L516.4,804.2 L518.0,803.1 L519.6,801.9 L521.2,800.7 L522.8,799.5 L524.4,798.3 L526.0,797.0 L527.5,795.8 L529.1,794.5 L530.6,793.3 L532.2,792.0 L533.7,790.7 L535.3,789.4 L536.8,788.2 L538.3,786.9 L539.9,785.6 L541.4,784.4 L543.0,783.1 L544.5,781.8 L546.1,780.6 L547.7,779.4 L549.3,778.1 L550.9,776.9 L552.4,775.7 L554.0,774.5 L555.6,773.3 L557.2,772.1 L558.8,770.8 L560.4,769.6 L562.0,768.4 L563.6,767.2 L565.1,766.0 L566.7,764.7 L568.3,763.5 L569.9,762.3 L571.5,761.1 L573.0,759.8 L574.6,758.6 L576.2,757.4 L577.7,756.1 L579.3,754.8 L580.8,753.6 L582.4,752.3 L583.9,751.0 L585.4,749.7 L586.9,748.4 L588.4,747.0 L589.9,745.7 L591.4,744.4 L592.8,743.0 L594.3,741.6 L595.8,740.3 L597.2,738.9 L598.7,737.5 L600.1,736.1 L601.5,734.7 L603.0,733.3 L604.4,731.9 L605.8,730.5 L607.2,729.1 L608.7,727.7 L610.1,726.3 L611.5,724.9 L612.9,723.4 L614.2,722.0 L615.6,720.5 L617.0,719.1 L618.4,717.6 L619.7,716.2 L621.1,714.7 L622.5,713.2 L623.8,711.8 L625.2,710.3 L626.5,708.8 L627.9,707.4 L629.3,705.9 L630.6,704.5 L632.0,703.0 L633.4,701.6 L634.8,700.1 L636.2,698.7 L637.6,697.3 L639.0,695.8 L640.4,694.4 L641.8,693.0 L643.2,691.5 L644.6,690.1 L646.0,688.7 L647.4,687.2 L648.8,685.8 L650.2,684.4 L651.6,683.0 L653.0,681.5 L654.3,680.1 L655.7,678.7 L657.1,677.2 L658.5,675.8 L659.9,674.3 L661.3,672.9 L662.7,671.4 L664.0,670.0 L665.4,668.5 L666.8,667.1 L668.2,665.6 L669.6,664.2 L670.9,662.8 L672.3,661.3 L673.7,659.9 L675.1,658.5 L676.5,657.0 L678.0,655.6 L679.4,654.2 L680.8,652.9 L682.3,651.5 L683.7,650.1 L685.2,648.7 L686.7,647.4 L688.2,646.0 L689.6,644.7 L691.1,643.4 L692.6,642.1 L694.1,640.7 L695.7,639.4 L697.2,638.1 L698.7,636.8 L700.2,635.5 L701.7,634.2 L703.2,632.9 L704.7,631.6 L706.3,630.3 L707.8,629.0 L709.3,627.7 L710.9,626.4 L712.4,625.2 L713.9,623.9 L715.5,622.6 L717.0,621.3 L718.6,620.1 L720.1,618.8 L721.6,617.5 L723.2,616.2 L724.7,614.9 L726.2,613.6 L727.7,612.3 L729.3,611.0 L730.8,609.7 L732.3,608.4 L733.8,607.1 L735.2,605.7 L736.7,604.4 L738.2,603.0 L739.7,601.7 L741.2,600.3 L742.6,599.0 L744.1,597.6 L745.5,596.2 L747.0,594.9 L748.4,593.5 L749.9,592.1 L751.3,590.7 L752.7,589.2 L754.1,587.8 L755.5,586.4 L756.8,584.9 L758.1,583.4 L759.5,581.9 L760.8,580.4 L762.0,578.8 L763.3,577.3 L764.5,575.7 L765.7,574.1 L767.0,572.5 L768.2,571.0 L769.4,569.4 L770.6,567.8 L771.9,566.2 L773.1,564.7 L774.4,563.1 L775.6,561.6 L776.9,560.0 L778.2,558.5 L779.4,556.9 L780.7,555.4 L781.9,553.8 L783.2,552.2 L784.4,550.7 L785.6,549.1 L786.8,547.5 L788.0,545.9 L789.2,544.2 L790.4,542.6 L791.5,541.0 L792.6,539.3 L793.8,537.7 L794.9,536.0 L796.0,534.4 L797.1,532.7 L798.2,531.0 L799.3,529.3 L800.3,527.6 L801.4,525.9 L802.5,524.3 L803.5,522.6 L804.6,520.8 L805.6,519.1 L806.6,517.4 L807.6,515.7 L808.7,514.0 L809.7,512.2 L810.7,510.5 L811.6,508.8 L812.6,507.0 L813.6,505.3 L814.5,503.5 L815.5,501.8 L816.5,500.0 L817.4,498.3 L818.4,496.5 L819.3,494.7 L820.3,493.0 L821.2,491.2 L822.1,489.4 L823.1,487.7 L824.0,485.9 L825.0,484.2 L825.9,482.4 L826.9,480.6 L827.8,478.8 L828.7,477.1 L829.6,475.3 L830.6,473.5 L831.5,471.8 L832.4,470.0 L833.4,468.2 L834.3,466.4 L835.2,464.7 L836.1,462.9 L837.1,461.1 L838.0,459.4 L838.9,457.6 L839.9,455.8 L840.8,454.1 L841.7,452.3 L842.7,450.5 L843.6,448.8 L844.6,447.0 L845.5,445.2 L846.4,443.5 L847.4,441.7 L848.3,439.9 L849.2,438.2 L850.2,436.4 L851.1,434.6 L852.0,432.8 L853.0,431.1 L853.9,429.3 L854.8,427.5 L855.7,425.8 L856.7,424.0 L857.6,422.2 L858.5,420.4 L859.5,418.7 L860.4,416.9 L861.3,415.1 L862.2,413.4 L863.1,411.6 L864.0,409.8 L864.9,408.0 L865.8,406.2 L866.6,404.4 L867.4,402.5 L868.2,400.7 L869.0,398.9 L869.7,397.0 L870.4,395.1 L871.1,393.3 L871.8,391.4 L872.5,389.5 L873.1,387.6 L873.7,385.7 L874.3,383.8 L874.9,381.9 L875.5,380.0 L876.1,378.1 L876.7,376.2 L877.3,374.3 L877.9,372.4 L878.6,370.4 L879.2,368.5 L879.8,366.7 L880.5,364.8 L881.1,362.9 L881.8,361.0 L882.4,359.1 L883.1,357.2 L883.8,355.3 L884.5,353.4 L885.1,351.6 L885.8,349.7 L886.5,347.8 L887.2,345.9 L887.9,344.1 L888.6,342.2 L889.3,340.3 L890.1,338.5 L890.8,336.6 L891.5,334.7 L892.2,332.9 L893.0,331.0 L893.7,329.2 L894.5,327.3 L895.2,325.4 L896.0,323.6 L896.7,321.7 L897.5,319.9 L898.3,318.0 L899.0,316.2 L899.8,314.4 L900.6,312.5 L901.4,310.7 L902.2,308.9 L903.1,307.1 L903.9,305.2 L904.8,303.4 L905.7,301.7 L906.6,299.9 L907.6,298.2 L908.6,296.4 L909.7,294.7 L910.8,293.0 L911.9,291.4 L913.0,289.7 L914.1,288.0 L915.1,286.4 L916.2,284.7 L917.3,283.0 L918.3,281.3 L919.5,279.7 L920.8,278.2 L922.3,276.9 L923.9,275.8 L925.7,275.1 L927.6,274.7 L929.6,274.7 L931.5,274.9 L933.4,275.5 L935.1,276.4 L936.6,277.7 L937.8,279.2 L938.8,280.9 L939.7,282.7 L940.4,284.5 L941.1,286.4 L941.8,288.3 L942.4,290.2 L943.1,292.0 L943.8,293.9 L944.6,295.8 L945.4,297.6 L946.2,299.4 L947.0,301.2 L947.8,303.1 L948.5,304.9 L949.2,306.8 L949.7,308.7 L950.2,310.7 L950.6,312.6 L951.0,314.6 L951.3,316.6 L951.7,318.5 L952.1,320.5 L952.6,322.4 L953.4,324.2 L954.5,325.8 L955.8,327.2 L957.2,328.7 L958.3,330.2 L959.2,332.0 L959.8,333.8 L959.9,335.9 L960.3,337.8 L960.6,339.8 L960.8,341.7 L961.0,343.7 L961.2,345.7 L961.3,347.7 L961.4,349.7 L961.5,351.7 L961.7,353.7 L961.8,355.7 L962.0,357.7 L962.1,359.7 L962.3,361.7 L962.5,363.7 L962.7,365.7 L963.0,367.6 L963.2,369.6 L963.4,371.6 L963.7,373.6 L963.9,375.6 L964.2,377.6 L964.4,379.6 L964.7,381.5 L964.9,383.5 L965.2,385.5 L965.4,387.5 L965.7,389.5 L966.0,391.5 L966.2,393.4 L966.5,395.4 L966.7,397.4 L967.0,399.4 L967.3,401.4 L967.6,403.3 L967.8,405.3 L968.1,407.3 L968.4,409.3 L968.7,411.3 L968.9,413.3 L969.2,415.2 L969.5,417.2 L969.8,419.2 L970.1,421.2 L970.4,423.1 L970.7,425.1 L971.0,427.1 L971.3,429.1 L971.6,431.1 L971.9,433.0 L972.2,435.0 L972.5,437.0 L972.8,439.0 L973.1,440.9 L973.4,442.9 L973.8,444.9 L974.1,446.9 L974.4,448.8 L974.7,450.8 L975.1,452.8 L975.4,454.7 L975.8,456.7 L976.1,458.7 L976.4,460.7 L976.8,462.6 L977.2,464.6 L977.5,466.6 L977.9,468.5 L978.2,470.5 L978.6,472.5 L979.0,474.4 L979.3,476.4 L979.7,478.4 L980.0,480.3 L980.4,482.3 L980.7,484.3 L981.1,486.2 L981.4,488.2 L981.8,490.2 L982.1,492.1 L982.5,494.1 L982.8,496.1 L983.2,498.1 L983.5,500.0 L983.8,502.0 L984.2,504.0 L984.5,505.9 L984.9,507.9 L985.3,509.9 L985.6,511.8 L986.0,513.8 L986.4,515.8 L986.8,517.7 L987.2,519.7 L987.6,521.6 L988.0,523.6 L988.4,525.6 L988.9,527.5 L989.3,529.5 L989.7,531.4 L990.1,533.4 L990.6,535.3 L991.0,537.3 L991.5,539.2 L991.9,541.2 L992.4,543.1 L992.8,545.1 L993.3,547.0 L993.7,549.0 L994.2,550.9 L994.7,552.9 L995.1,554.8 L995.6,556.7 L996.1,558.7 L996.5,560.6 L997.0,562.6 L997.5,564.5 L998.0,566.5 L998.4,568.4 L998.9,570.3 L999.4,572.3 L999.9,574.2 L1000.3,576.2 L1000.8,578.1 L1001.3,580.1 L1001.7,582.0 L1002.2,583.9 L1002.7,585.9 L1003.1,587.8 L1003.6,589.8 L1004.0,591.7 L1004.5,593.7 L1005.0,595.6 L1005.4,597.6 L1005.9,599.5 L1006.4,601.5 L1006.9,603.4 L1007.4,605.3 L1007.8,607.3 L1008.3,609.2 L1008.8,611.2 L1009.3,613.1 L1009.8,615.0 L1010.3,617.0 L1010.8,618.9 L1011.2,620.9 L1011.7,622.8 L1012.1,624.8 L1012.6,626.7 L1013.0,628.7 L1013.4,630.6 L1013.7,632.6 L1014.1,634.6 L1014.5,636.5 L1014.9,638.5 L1015.3,640.4 L1015.7,642.4 L1016.1,644.4 L1016.5,646.3 L1017.0,648.3 L1017.4,650.2 L1017.9,652.2 L1018.4,654.1 L1018.8,656.0 L1019.3,658.0 L1019.8,659.9 L1020.3,661.9 L1020.8,663.8 L1021.3,665.7 L1021.9,667.7 L1022.4,669.6 L1022.9,671.5 L1023.5,673.4 L1024.0,675.4 L1024.6,677.3 L1025.1,679.2 L1025.7,681.1 L1026.3,683.0 L1026.9,684.9 L1027.5,686.8 L1028.1,688.7 L1028.7,690.7 L1029.3,692.6 L1029.9,694.5 L1030.6,696.4 L1031.2,698.2 L1031.9,700.1 L1032.5,702.0 L1033.2,703.9 L1033.9,705.8 L1034.6,707.7 L1035.3,709.5 L1036.0,711.4 L1036.8,713.3 L1037.5,715.1 L1038.3,716.9 L1039.1,718.8 L1039.9,720.6 L1040.7,722.4 L1041.5,724.3 L1042.4,726.1 L1043.2,727.9 L1044.1,729.7 L1044.9,731.5 L1045.8,733.3 L1046.6,735.1 L1047.5,736.9 L1048.3,738.7 L1049.2,740.6 L1050.0,742.4 L1050.9,744.2 L1051.8,746.0 L1052.7,747.7 L1053.6,749.5 L1054.6,751.3 L1055.6,753.0 L1056.6,754.7 L1057.7,756.4 L1058.8,758.0 L1059.9,759.7 L1061.1,761.3 L1062.4,762.8 L1063.6,764.4 L1064.9,765.9 L1066.2,767.5 L1067.5,769.0 L1068.7,770.5 L1070.0,772.1 L1071.3,773.6 L1072.5,775.2 L1073.8,776.8 L1075.0,778.3 L1076.2,779.9 L1077.5,781.5 L1078.7,783.0 L1080.0,784.6 L1081.3,786.1 L1082.6,787.6 L1084.0,789.1 L1085.3,790.5 L1086.8,791.9 L1088.2,793.3 L1089.7,794.6 L1091.2,796.0 L1092.7,797.3 L1094.2,798.6 L1095.7,800.0 L1097.1,801.3 L1098.6,802.6 L1100.1,803.9 L1101.6,805.2 L1103.1,806.5 L1104.6,807.7 L1106.0,808.8 L1107.4,809.7 L1108.0,810.0" fill="none" stroke="#00f" stroke-width="6.5" stroke-dasharray="6 8" stroke-linejoin="round" />
<path d="M360.0,914.7 L360.9,914.1 L362.1,913.3 L363.4,912.4 L364.9,911.5 L366.5,910.5 L368.1,909.5 L369.8,908.4 L371.5,907.4 L373.2,906.4 L374.9,905.4 L376.7,904.4 L378.4,903.5 L380.2,902.6 L382.1,901.8 L383.9,901.1 L385.8,900.4 L387.6,899.7 L389.5,899.1 L391.5,898.5 L393.4,898.0 L395.3,897.4 L397.2,896.9 L399.2,896.5 L401.1,896.0 L403.1,895.5 L405.0,895.1 L407.0,894.7 L408.9,894.3 L410.9,893.9 L412.9,893.5 L414.8,893.1 L416.8,892.8 L418.8,892.4 L420.7,892.1 L422.7,891.8 L424.7,891.5 L426.7,891.2 L428.6,891.0 L430.6,890.7 L432.6,890.4 L434.6,890.2 L436.6,890.0 L438.6,889.7 L440.6,889.5 L442.5,889.3 L444.5,889.1 L446.5,888.8 L448.5,888.6 L450.5,888.4 L452.5,888.2 L454.5,888.0 L456.5,887.8 L458.5,887.6 L460.4,887.4 L462.4,887.2 L464.4,887.1 L466.4,886.9 L468.4,886.8 L470.4,886.6 L472.4,886.5 L474.4,886.4 L476.4,886.2 L478.4,886.1 L480.4,886.0 L482.4,885.9 L484.4,885.8 L486.4,885.7 L488.4,885.6 L490.4,885.5 L492.4,885.4 L494.4,885.3 L496.4,885.2 L498.4,885.1 L500.4,885.0 L502.4,884.9 L504.4,884.8 L506.4,884.7 L508.4,884.6 L510.4,884.5 L512.4,884.4 L514.4,884.3 L516.3,884.2 L518.3,884.1 L520.3,884.0 L522.3,883.9 L524.3,883.7 L526.3,883.6 L528.3,883.5 L530.3,883.4 L532.3,883.3 L534.3,883.2 L536.3,883.0 L538.3,882.9 L540.3,882.8 L542.3,882.7 L544.3,882.6 L546.3,882.5 L548.3,882.4 L550.3,882.3 L552.3,882.2 L554.3,882.1 L556.3,882.0 L558.3,882.0 L560.3,881.9 L562.3,881.9 L564.3,881.8 L566.3,881.7 L568.3,881.7 L570.3,881.7 L572.3,881.6 L574.3,881.6 L576.3,881.6 L578.3,881.5 L580.3,881.5 L582.3,881.5 L584.3,881.5 L586.3,881.5 L588.3,881.5 L590.3,881.5 L592.3,881.5 L594.3,881.5 L596.3,881.5 L598.3,881.5 L600.3,881.5 L602.3,881.5 L604.3,881.5 L606.3,881.5 L608.3,881.5 L610.3,881.6 L612.3,881.6 L614.3,881.6 L616.3,881.6 L618.3,881.6 L620.3,881.6 L622.3,881.6 L624.3,881.7 L626.3,881.7 L628.3,881.7 L630.3,881.7 L632.3,881.7 L634.3,881.8 L636.3,881.8 L638.3,881.8 L640.3,881.8 L642.3,881.8 L644.3,881.9 L646.3,881.9 L648.3,881.9 L650.3,881.9 L652.3,881.9 L654.3,882.0 L656.3,882.0 L658.3,882.0 L660.3,882.0 L662.3,882.0 L664.3,882.1 L666.3,882.1 L668.3,882.1 L670.3,882.1 L672.3,882.2 L674.3,882.2 L676.3,882.2 L678.3,882.2 L680.3,882.3 L682.3,882.3 L684.3,882.3 L686.3,882.3 L688.3,882.4 L690.3,882.4 L692.3,882.4 L694.3,882.4 L696.3,882.5 L698.3,882.5 L700.3,882.5 L702.3,882.5 L704.3,882.6 L706.3,882.6 L708.3,882.6 L710.3,882.6 L712.3,882.7 L714.3,882.7 L716.3,882.7 L718.3,882.7 L720.3,882.8 L722.3,882.8 L724.3,882.8 L726.3,882.9 L728.3,882.9 L730.3,882.9 L732.3,882.9 L734.3,883.0 L736.3,883.0 L738.3,883.0 L740.3,883.1 L742.3,883.1 L744.3,883.1 L746.3,883.1 L748.3,883.2 L750.3,883.2 L752.3,883.2 L754.3,883.3 L756.3,883.3 L758.3,883.3 L760.3,883.4 L762.3,883.4 L764.3,883.4 L766.3,883.4 L768.3,883.5 L770.3,883.5 L772.3,883.5 L774.3,883.6 L776.3,883.6 L778.3,883.6 L780.3,883.7 L782.3,883.7 L784.3,883.7 L786.3,883.8 L788.3,883.8 L790.3,883.8 L792.3,883.9 L794.3,883.9 L796.3,883.9 L798.3,884.0 L800.3,884.0 L802.3,884.0 L804.3,884.0 L806.3,884.1 L808.3,884.1 L810.3,884.1 L812.3,884.1 L814.3,884.1 L816.3,884.1 L818.3,884.1 L820.3,884.2 L822.3,884.2 L824.3,884.2 L826.3,884.2 L828.3,884.2 L830.3,884.3 L832.2,884.4 L834.2,884.5 L836.1,884.8 L838.0,885.1 L839.7,885.5 L841.4,886.1 L843.0,886.9 L844.4,887.7 L845.9,888.6 L847.3,889.5 L848.8,890.3 L850.4,891.1 L852.2,891.6 L854.0,892.1 L855.8,892.4 L857.8,892.6 L859.8,892.8 L861.7,893.0 L863.7,893.1 L865.7,893.2 L867.7,893.3 L869.7,893.4 L871.7,893.4 L873.7,893.5 L875.7,893.5 L877.7,893.6 L879.7,893.6 L881.7,893.7 L883.7,893.7 L885.7,893.7 L887.7,893.8 L889.7,893.8 L891.7,893.8 L893.7,893.9 L895.7,893.9 L897.7,894.0 L899.7,894.0 L901.7,894.0 L903.7,894.1 L905.7,894.1 L907.7,894.1 L909.7,894.2 L911.7,894.2 L913.7,894.2 L915.7,894.2 L917.7,894.3 L919.7,894.3 L921.7,894.3 L923.7,894.3 L925.7,894.4 L927.7,894.4 L929.7,894.4 L931.7,894.4 L933.7,894.4 L935.7,894.5 L937.7,894.5 L939.7,894.5 L941.7,894.5 L943.7,894.5 L945.7,894.6 L947.7,894.6 L949.7,894.6 L951.7,894.6 L953.7,894.6 L955.7,894.6 L957.7,894.7 L959.7,894.7 L961.7,894.7 L963.7,894.7 L965.7,894.7 L967.7,894.7 L969.7,894.7 L971.7,894.8 L973.7,894.8 L975.7,894.8 L977.7,894.8 L979.7,894.8 L981.7,894.8 L983.7,894.9 L985.7,894.9 L987.7,894.9 L989.7,894.9 L991.7,894.9 L993.7,894.9 L995.7,895.0 L997.7,895.0 L999.7,895.0 L1001.7,895.0 L1003.7,895.0 L1005.7,895.1 L1007.7,895.1 L1009.7,895.1 L1011.7,895.1 L1013.7,895.1 L1015.7,895.1 L1017.7,895.2 L1019.7,895.2 L1021.7,895.2 L1023.7,895.2 L1025.7,895.2 L1027.7,895.3 L1029.7,895.3 L1031.7,895.3 L1033.7,895.3 L1035.7,895.3 L1037.7,895.4 L1039.7,895.4 L1041.7,895.4 L1043.7,895.4 L1045.7,895.4 L1047.7,895.4 L1049.7,895.5 L1051.7,895.5 L1053.7,895.5 L1055.7,895.5 L1057.7,895.5 L1059.7,895.6 L1061.7,895.6 L1063.7,895.6 L1065.7,895.6 L1067.7,895.6 L1069.7,895.6 L1071.7,895.7 L1073.7,895.7 L1075.7,895.7 L1077.7,895.7 L1079.7,895.7 L1081.7,895.8 L1083.7,895.8 L1085.7,895.8 L1087.7,895.8 L1089.7,895.8 L1091.7,895.9 L1093.7,895.9 L1095.7,895.9 L1097.6,895.9 L1099.5,895.9 L1101.3,895.9 L1102.9,896.0 L1104.3,896.0 L1105.5,896.0 L1106.4,896.0" fill="none" stroke="#222" stroke-width="5" stroke-linejoin="round" />
<path d="M358.0,920.0 L363.0,917.7 L368.0,913.7 L373.0,910.2 L378.0,908.7 L383.0,905.9 L388.0,903.1 L393.0,902.0 L398.0,902.2 L403.0,899.2 L408.0,899.6 L413.0,897.8 L418.0,897.5 L423.0,896.7 L428.0,896.0 L433.0,895.6 L438.0,895.2 L443.0,894.2 L448.0,893.7 L453.0,891.3 L458.0,891.7 L463.0,891.1 L468.0,890.0 L473.0,889.3 L478.0,890.3 L483.0,889.5 L488.0,888.5 L493.0,889.9 L498.0,890.1 L503.0,890.4 L508.0,889.1 L513.0,888.4 L518.0,889.4 L523.0,888.9 L528.0,887.3 L533.0,887.6 L538.0,887.2 L543.0,885.9 L548.0,886.7 L553.0,887.7 L558.0,885.9 L563.0,886.2 L568.0,886.0 L573.0,885.2 L578.0,884.7 L583.0,885.5 L588.0,884.5 L593.0,887.0 L598.0,886.0 L603.0,886.2 L608.0,885.6 L613.0,885.0 L618.0,886.2 L623.0,885.7 L628.0,886.6 L633.0,886.7 L638.0,886.7 L643.0,887.0 L648.0,885.4 L653.0,886.5 L658.0,886.2 L663.0,886.9 L668.0,886.5 L673.0,885.1 L678.0,885.4 L683.0,885.0 L688.0,885.9 L693.0,885.8 L698.0,887.2 L703.0,887.9 L708.0,886.6 L713.0,887.5 L718.0,887.7 L723.0,887.6 L728.0,887.2 L733.0,887.5 L738.0,887.8 L743.0,886.0 L748.0,887.7 L753.0,887.6 L758.0,888.2 L763.0,888.5 L768.0,887.9 L773.0,887.7 L778.0,886.8 L783.0,888.8 L788.0,886.5 L793.0,886.7 L798.0,888.2 L803.0,888.5 L808.0,888.2 L813.0,889.3 L818.0,889.3 L823.0,888.5 L828.0,887.4 L833.0,887.9 L838.0,888.0 L843.0,888.9 L848.0,893.0 L853.0,897.0 L858.0,894.8 L863.0,897.5 L868.0,895.5 L873.0,897.8 L878.0,896.0 L883.0,897.2 L888.0,896.3 L893.0,898.3 L898.0,897.6 L903.0,898.0 L908.0,898.6 L913.0,897.1 L918.0,898.1 L923.0,898.3 L928.0,897.8 L933.0,899.6 L938.0,897.2 L943.0,899.2 L948.0,899.7 L953.0,899.1 L958.0,898.3 L963.0,897.6 L968.0,899.2 L973.0,899.5 L978.0,898.2 L983.0,898.8 L988.0,897.7 L993.0,899.6 L998.0,898.2 L1003.0,899.9 L1008.0,899.0 L1013.0,898.3 L1018.0,900.5 L1023.0,897.8 L1028.0,900.6 L1033.0,900.6 L1038.0,900.4 L1043.0,899.9 L1048.0,899.2 L1053.0,900.0 L1058.0,900.2 L1063.0,898.8 L1068.0,898.6 L1073.0,900.8 L1078.0,899.7 L1083.0,899.0 L1088.0,900.4 L1093.0,900.9 L1098.0,899.6 L1103.0,900.4 L1108.0,900.8" fill="none" stroke="#f33" stroke-width="4" stroke-linejoin="round" />
<path d="M358.0,915.2 L363.0,913.7 L368.0,910.2 L373.0,906.1 L378.0,904.7 L383.0,901.9 L388.0,898.7 L393.0,897.4 L398.0,896.8 L403.0,896.0 L408.0,895.4 L413.0,896.1 L418.0,895.4 L423.0,893.6 L428.0,892.4 L433.0,891.7 L438.0,889.7 L443.0,889.0 L448.0,891.0 L453.0,889.0 L458.0,886.8 L463.0,888.5 L468.0,886.6 L473.0,886.2 L478.0,887.6 L483.0,887.1 L488.0,886.9 L493.0,887.5 L498.0,888.0 L503.0,887.2 L508.0,887.4 L513.0,884.3 L518.0,886.5 L523.0,886.4 L528.0,885.3 L533.0,885.0 L538.0,884.9 L543.0,883.2 L548.0,881.7 L553.0,881.8 L558.0,883.4 L563.0,883.6 L568.0,882.7 L573.0,883.0 L578.0,881.4 L583.0,884.7 L588.0,881.5 L593.0,883.9 L598.0,883.6 L603.0,883.6 L608.0,884.0 L613.0,882.8 L618.0,884.2 L623.0,881.4 L628.0,881.1 L633.0,883.6 L638.0,881.6 L643.0,882.0 L648.0,883.7 L653.0,883.6 L658.0,884.4 L663.0,882.2 L668.0,883.2 L673.0,881.7 L678.0,885.1 L683.0,884.2 L688.0,883.8 L693.0,884.5 L698.0,883.6 L703.0,882.8 L708.0,882.1 L713.0,882.1 L718.0,885.1 L723.0,884.0 L728.0,885.0 L733.0,884.1 L738.0,884.2 L743.0,885.8 L748.0,882.7 L753.0,884.7 L758.0,883.4 L763.0,885.6 L768.0,882.6 L773.0,885.5 L778.0,883.3 L783.0,884.1 L788.0,884.5 L793.0,885.5 L798.0,883.3 L803.0,886.7 L808.0,886.7 L813.0,886.5 L818.0,883.9 L823.0,884.8 L828.0,885.7 L833.0,886.9 L838.0,887.6 L843.0,887.5 L848.0,891.8 L853.0,894.2 L858.0,894.5 L863.0,892.2 L868.0,893.7 L873.0,893.3 L878.0,895.3 L883.0,894.2 L888.0,894.4 L893.0,896.3 L898.0,893.0 L903.0,894.2 L908.0,893.8 L913.0,896.7 L918.0,896.9 L923.0,893.6 L928.0,894.8 L933.0,894.6 L938.0,897.2 L943.0,897.4 L948.0,897.4 L953.0,894.0 L958.0,893.8 L963.0,897.6 L968.0,896.4 L973.0,896.6 L978.0,895.8 L983.0,897.0 L988.0,895.2 L993.0,897.3 L998.0,894.9 L1003.0,897.2 L1008.0,896.6 L1013.0,896.4 L1018.0,894.5 L1023.0,895.2 L1028.0,897.4 L1033.0,894.4 L1038.0,896.9 L1043.0,896.9 L1048.0,897.4 L1053.0,894.8 L1058.0,896.3 L1063.0,896.7 L1068.0,895.3 L1073.0,894.8 L1078.0,895.8 L1083.0,896.6 L1088.0,897.9 L1093.0,896.7 L1098.0,897.7 L1103.0,897.9 L1108.0,898.0" fill="none" stroke="#22f" stroke-width="4" stroke-dasharray="5 3" stroke-linejoin="round" />
<path d="M842.0,873.0 L842.0,895.0" fill="none" stroke="#00f" stroke-width="3" stroke-linejoin="round" />
<path d="M842.0,893.0 L842.0,905.0 L860.0,897.0" fill="none" stroke="#f00" stroke-width="3" stroke-linejoin="round" />
<path d="M1323.2,775.1 L1324.8,773.9 L1326.4,772.8 L1328.1,771.6 L1329.7,770.4 L1331.3,769.2 L1332.9,768.1 L1334.5,766.9 L1336.1,765.7 L1337.8,764.5 L1339.4,763.3 L1341.0,762.1 L1342.6,760.9 L1344.2,759.8 L1345.8,758.6 L1347.4,757.4 L1349.0,756.2 L1350.6,755.0 L1352.2,753.8 L1353.8,752.6 L1355.4,751.4 L1357.0,750.2 L1358.6,749.0 L1360.2,747.8 L1361.8,746.6 L1363.4,745.4 L1365.0,744.2 L1366.6,742.9 L1368.1,741.7 L1369.7,740.5 L1371.3,739.2 L1372.8,738.0 L1374.4,736.7 L1375.9,735.4 L1377.5,734.1 L1379.0,732.9 L1380.5,731.5 L1382.0,730.2 L1383.5,728.9 L1385.0,727.6 L1386.5,726.2 L1387.9,724.8 L1389.4,723.4 L1390.8,722.0 L1392.2,720.6 L1393.6,719.2 L1395.0,717.8 L1396.4,716.3 L1397.7,714.9 L1399.1,713.4 L1400.5,711.9 L1401.8,710.4 L1403.1,709.0 L1404.4,707.4 L1405.7,705.9 L1407.0,704.4 L1408.3,702.9 L1409.6,701.3 L1410.8,699.7 L1412.0,698.2 L1413.3,696.6 L1414.5,695.0 L1415.6,693.4 L1416.8,691.8 L1418.0,690.1 L1419.1,688.5 L1420.3,686.8 L1421.4,685.2 L1422.5,683.5 L1423.6,681.9 L1424.7,680.2 L1425.8,678.5 L1426.9,676.9 L1428.0,675.2 L1429.1,673.5 L1430.2,671.9 L1431.3,670.2 L1432.4,668.5 L1433.6,666.9 L1434.7,665.2 L1435.8,663.5 L1436.9,661.9 L1438.0,660.2 L1439.2,658.6 L1440.3,656.9 L1441.4,655.3 L1442.5,653.6 L1443.6,652.0 L1444.8,650.3 L1445.9,648.6 L1447.0,647.0 L1448.1,645.3 L1449.3,643.7 L1450.4,642.0 L1451.5,640.4 L1452.6,638.7 L1453.8,637.1 L1454.9,635.4 L1456.1,633.8 L1457.2,632.2 L1458.3,630.5 L1459.5,628.9 L1460.6,627.2 L1461.8,625.6 L1463.0,624.0 L1464.1,622.3 L1465.3,620.7 L1466.4,619.1 L1467.6,617.5 L1468.8,615.8 L1469.9,614.2 L1471.1,612.6 L1472.2,611.0 L1473.4,609.3 L1474.6,607.7 L1475.7,606.1 L1476.9,604.4 L1478.1,602.8 L1479.2,601.2 L1480.4,599.6 L1481.5,597.9 L1482.7,596.3 L1483.9,594.7 L1485.0,593.0 L1486.2,591.4 L1487.3,589.8 L1488.5,588.1 L1489.6,586.5 L1490.8,584.9 L1492.0,583.3 L1493.1,581.6 L1494.3,580.0 L1495.5,578.4 L1496.6,576.8 L1497.8,575.1 L1499.0,573.5 L1500.2,571.9 L1501.3,570.3 L1502.5,568.7 L1503.7,567.1 L1504.9,565.5 L1506.1,563.9 L1507.3,562.3 L1508.5,560.7 L1509.8,559.1 L1511.0,557.5 L1512.2,555.9 L1513.4,554.3 L1514.6,552.7 L1515.8,551.1 L1517.0,549.5 L1518.2,548.0 L1519.4,546.4 L1520.6,544.7 L1521.8,543.1 L1523.0,541.5 L1524.2,539.9 L1525.3,538.3 L1526.5,536.7 L1527.7,535.0 L1528.8,533.4 L1530.0,531.8 L1531.2,530.2 L1532.3,528.5 L1533.5,526.9 L1534.6,525.3 L1535.8,523.6 L1536.9,522.0 L1538.1,520.4 L1539.2,518.7 L1540.4,517.1 L1541.6,515.5 L1542.7,513.8 L1543.9,512.2 L1545.1,510.6 L1546.3,509.0 L1547.5,507.5 L1548.8,505.9 L1550.0,504.3 L1551.2,502.7 L1552.5,501.2 L1553.7,499.6 L1554.9,498.0 L1556.0,496.3 L1557.2,494.7 L1558.3,493.0 L1559.3,491.3 L1560.4,489.6 L1561.4,487.9 L1562.5,486.2 L1563.5,484.5 L1564.5,482.8 L1565.6,481.1 L1566.6,479.4 L1567.6,477.6 L1568.6,475.9 L1569.6,474.2 L1570.6,472.5 L1571.7,470.7 L1572.7,469.0 L1573.7,467.3 L1574.7,465.6 L1575.8,463.9 L1576.8,462.2 L1577.8,460.5 L1578.9,458.8 L1579.9,457.0 L1581.0,455.3 L1582.0,453.6 L1583.1,451.9 L1584.1,450.2 L1585.2,448.5 L1586.3,446.9 L1587.3,445.2 L1588.4,443.5 L1589.5,441.8 L1590.6,440.1 L1591.7,438.5 L1592.9,436.8 L1594.0,435.2 L1595.1,433.5 L1596.3,431.9 L1597.5,430.3 L1598.6,428.7 L1599.8,427.0 L1601.0,425.4 L1602.2,423.8 L1603.4,422.2 L1604.6,420.6 L1605.8,419.0 L1607.0,417.4 L1608.2,415.8 L1609.4,414.2 L1610.6,412.7 L1611.8,411.1 L1613.1,409.5 L1614.3,407.9 L1615.5,406.3 L1616.7,404.8 L1617.9,403.2 L1619.1,401.5 L1620.3,399.9 L1621.4,398.3 L1622.5,396.6 L1623.6,394.9 L1624.7,393.3 L1625.8,391.6 L1626.9,389.9 L1627.9,388.2 L1628.9,386.5 L1630.0,384.8 L1631.0,383.1 L1632.1,381.4 L1633.1,379.7 L1634.2,378.0 L1635.3,376.3 L1636.4,374.6 L1637.5,372.9 L1638.6,371.3 L1639.7,369.6 L1640.8,368.0 L1642.0,366.3 L1643.1,364.7 L1644.2,363.0 L1645.4,361.4 L1646.6,359.8 L1647.8,358.2 L1649.0,356.6 L1650.2,355.0 L1651.5,353.5 L1652.8,352.0 L1654.1,350.5 L1655.4,349.0 L1656.8,347.5 L1658.2,346.1 L1659.6,344.7 L1661.1,343.3 L1662.5,341.9 L1664.0,340.5 L1665.4,339.2 L1666.9,337.8 L1668.3,336.4 L1669.8,335.1 L1671.3,333.7 L1672.8,332.4 L1674.2,331.0 L1675.7,329.7 L1677.2,328.4 L1678.7,327.0 L1680.2,325.7 L1681.8,324.4 L1683.3,323.2 L1684.9,321.9 L1686.4,320.7 L1688.0,319.4 L1689.6,318.2 L1691.1,317.0 L1692.7,315.7 L1694.2,314.5 L1695.8,313.1 L1697.2,311.8 L1698.7,310.4 L1700.1,309.0 L1701.5,307.6 L1702.9,306.1 L1704.2,304.7 L1705.5,303.2 L1706.9,301.7 L1708.2,300.2 L1709.5,298.7 L1710.8,297.2 L1712.2,295.7 L1713.5,294.2 L1714.8,292.7 L1716.2,291.2 L1717.5,289.7 L1718.9,288.3 L1720.2,286.8 L1721.6,285.3 L1722.9,283.8 L1724.2,282.3 L1725.6,280.9 L1726.9,279.4 L1728.3,277.9 L1729.6,276.4 L1731.0,274.9 L1732.3,273.4 L1733.6,271.9 L1735.0,270.4 L1736.3,269.0 L1737.6,267.5 L1739.0,266.0 L1740.4,264.6 L1741.7,263.1 L1743.1,261.7 L1744.6,260.3 L1746.0,258.9 L1747.4,257.5 L1748.9,256.1 L1750.4,254.8 L1751.9,253.4 L1753.4,252.1 L1754.9,250.8 L1756.4,249.5 L1757.9,248.2 L1759.5,246.9 L1761.0,245.6 L1762.5,244.4 L1764.1,243.2 L1765.7,242.0 L1767.3,240.8 L1769.0,239.7 L1770.6,238.6 L1772.4,237.6 L1774.1,237.0 L1775.8,237.0 L1777.4,237.7 L1778.8,238.9 L1780.0,240.5 L1781.0,242.2 L1781.8,244.0 L1782.6,245.9 L1783.2,247.8 L1783.8,249.7 L1784.3,251.6 L1784.7,253.6 L1785.1,255.5 L1785.5,257.5 L1785.9,259.4 L1786.2,261.4 L1786.6,263.4 L1786.9,265.4 L1787.2,267.3 L1787.5,269.3 L1787.8,271.3 L1788.1,273.3 L1788.4,275.2 L1788.6,277.2 L1788.9,279.2 L1789.1,281.2 L1789.4,283.2 L1789.6,285.2 L1789.8,287.2 L1790.0,289.1 L1790.2,291.1 L1790.5,293.1 L1790.7,295.1 L1790.9,297.1 L1791.1,299.1 L1791.3,301.1 L1791.5,303.1 L1791.7,305.1 L1791.9,307.0 L1792.1,309.0 L1792.3,311.0 L1792.5,313.0 L1792.7,315.0 L1792.9,317.0 L1793.1,319.0 L1793.3,321.0 L1793.5,323.0 L1793.7,325.0 L1793.9,327.0 L1794.1,328.9 L1794.3,330.9 L1794.5,332.9 L1794.7,334.9 L1794.9,336.9 L1795.1,338.9 L1795.2,340.9 L1795.4,342.9 L1795.6,344.9 L1795.8,346.9 L1796.0,348.8 L1796.2,350.8 L1796.5,352.8 L1796.7,354.8 L1796.9,356.8 L1797.2,358.8 L1797.4,360.8 L1797.7,362.7 L1798.0,364.7 L1798.3,366.7 L1798.6,368.7 L1798.9,370.7 L1799.2,372.6 L1799.5,374.6 L1799.8,376.6 L1800.1,378.6 L1800.4,380.5 L1800.7,382.5 L1801.0,384.5 L1801.3,386.5 L1801.6,388.5 L1801.9,390.4 L1802.2,392.4 L1802.5,394.4 L1802.8,396.4 L1803.1,398.3 L1803.4,400.3 L1803.7,402.3 L1804.0,404.3 L1804.3,406.2 L1804.6,408.2 L1804.9,410.2 L1805.2,412.2 L1805.5,414.2 L1805.8,416.1 L1806.1,418.1 L1806.4,420.1 L1806.7,422.1 L1807.0,424.0 L1807.3,426.0 L1807.6,428.0 L1807.9,430.0 L1808.1,432.0 L1808.4,433.9 L1808.7,435.9 L1809.0,437.9 L1809.2,439.9 L1809.5,441.9 L1809.8,443.8 L1810.1,445.8 L1810.4,447.8 L1810.6,449.8 L1810.9,451.8 L1811.2,453.7 L1811.5,455.7 L1811.8,457.7 L1812.2,459.7 L1812.5,461.6 L1812.9,463.6 L1813.2,465.6 L1813.6,467.5 L1814.0,469.5 L1814.4,471.5 L1814.9,473.4 L1815.3,475.4 L1815.8,477.3 L1816.3,479.2 L1816.8,481.2 L1817.3,483.1 L1817.8,485.0 L1818.4,486.9 L1818.9,488.9 L1819.5,490.8 L1820.0,492.7 L1820.6,494.6 L1821.1,496.6 L1821.6,498.5 L1822.2,500.4 L1822.7,502.4 L1823.2,504.3 L1823.7,506.2 L1824.2,508.2 L1824.7,510.1 L1825.2,512.0 L1825.7,514.0 L1826.2,515.9 L1826.7,517.8 L1827.2,519.8 L1827.7,521.7 L1828.3,523.6 L1828.8,525.6 L1829.3,527.5 L1829.9,529.4 L1830.4,531.3 L1831.0,533.3 L1831.5,535.2 L1832.1,537.1 L1832.7,539.0 L1833.3,540.9 L1833.9,542.8 L1834.5,544.7 L1835.1,546.6 L1835.8,548.5 L1836.4,550.4 L1837.0,552.3 L1837.7,554.2 L1838.3,556.1 L1839.0,558.0 L1839.7,559.9 L1840.3,561.8 L1841.0,563.6 L1841.7,565.5 L1842.4,567.4 L1843.1,569.3 L1843.8,571.1 L1844.5,573.0 L1845.2,574.9 L1845.9,576.8 L1846.6,578.6 L1847.4,580.5 L1848.1,582.3 L1848.8,584.2 L1849.6,586.1 L1850.4,587.9 L1851.1,589.8 L1851.9,591.6 L1852.7,593.4 L1853.4,595.3 L1854.2,597.1 L1855.0,599.0 L1855.8,600.8 L1856.6,602.6 L1857.4,604.5 L1858.2,606.3 L1859.0,608.1 L1859.9,609.9 L1860.7,611.8 L1861.5,613.6 L1862.4,615.4 L1863.2,617.2 L1864.1,619.0 L1864.9,620.8 L1865.8,622.6 L1866.6,624.4 L1867.5,626.2 L1868.4,628.0 L1869.3,629.8 L1870.2,631.6 L1871.1,633.4 L1872.0,635.2 L1872.9,637.0 L1873.8,638.8 L1874.7,640.5 L1875.6,642.3 L1876.5,644.1 L1877.4,645.9 L1878.3,647.7 L1879.3,649.4 L1880.2,651.2 L1881.1,652.9 L1882.1,654.7 L1883.1,656.5 L1884.0,658.2 L1885.0,659.9 L1886.0,661.7 L1887.0,663.4 L1888.1,665.1 L1889.1,666.8 L1890.1,668.5 L1891.2,670.2 L1892.3,671.9 L1893.4,673.6 L1894.5,675.3 L1895.6,676.9 L1896.7,678.6 L1897.8,680.2 L1898.9,681.9 L1900.1,683.5 L1901.3,685.1 L1902.4,686.8 L1903.6,688.4 L1904.8,690.0 L1906.0,691.6 L1907.2,693.2 L1908.5,694.7 L1909.7,696.3 L1911.0,697.9 L1912.2,699.4 L1913.5,701.0 L1914.8,702.5 L1916.1,704.0 L1917.4,705.6 L1918.7,707.1 L1920.0,708.6 L1921.3,710.1 L1922.6,711.6 L1923.9,713.1 L1925.2,714.6 L1926.6,716.1 L1927.9,717.6 L1929.2,719.1 L1930.6,720.6 L1931.9,722.1 L1933.2,723.6 L1934.5,725.1 L1935.9,726.6 L1937.2,728.1 L1938.5,729.6 L1939.8,731.1 L1941.2,732.6 L1942.5,734.1 L1943.8,735.5 L1945.2,737.0 L1946.5,738.5 L1947.8,740.0 L1949.2,741.5 L1950.5,742.9 L1951.9,744.4 L1953.3,745.9 L1954.7,747.3 L1956.1,748.7 L1957.5,750.2 L1958.9,751.6 L1960.3,753.0 L1961.7,754.4 L1963.2,755.7 L1964.6,757.1 L1966.1,758.5 L1967.6,759.9 L1969.0,761.2 L1970.5,762.6 L1972.0,763.9 L1973.5,765.3 L1975.0,766.6 L1976.5,767.9 L1978.0,769.2 L1979.5,770.5 L1981.0,771.8 L1982.5,773.1 L1984.1,774.4 L1985.6,775.7 L1987.2,776.9 L1988.7,778.2 L1990.3,779.4 L1991.9,780.6 L1993.5,781.8 L1995.1,783.0 L1996.7,784.2 L1998.4,785.3 L2000.0,786.5 L2001.6,787.6 L2003.3,788.7 L2005.0,789.8 L2006.6,790.9 L2008.3,792.0 L2010.0,793.1 L2011.7,794.1 L2013.5,795.1 L2015.2,796.1 L2017.0,797.0 L2018.7,797.9 L2020.5,798.8 L2022.3,799.7 L2024.1,800.5 L2026.0,801.4 L2027.8,802.1 L2029.7,802.9 L2031.5,803.6 L2033.4,804.3 L2035.3,805.0 L2037.2,805.6 L2039.1,806.3 L2041.0,806.9 L2042.9,807.5 L2044.8,808.1 L2046.7,808.6 L2048.6,809.2 L2050.5,809.8 L2052.5,810.3 L2054.4,810.9 L2056.3,811.4 L2058.2,811.9 L2060.2,812.5 L2062.1,813.0 L2064.0,813.5 L2065.9,814.0 L2067.8,814.6 L2069.6,815.1 L2071.0,815.5" fill="none" stroke="#000" stroke-width="7" stroke-linejoin="round" />
<path d="M1328.2,779.1 L1329.8,777.9 L1331.4,776.8 L1333.1,775.6 L1334.7,774.4 L1336.3,773.2 L1337.9,772.1 L1339.5,770.9 L1341.1,769.7 L1342.8,768.5 L1344.4,767.3 L1346.0,766.1 L1347.6,764.9 L1349.2,763.8 L1350.8,762.6 L1352.4,761.4 L1354.0,760.2 L1355.6,759.0 L1357.2,757.8 L1358.8,756.6 L1360.4,755.4 L1362.0,754.2 L1363.6,753.0 L1365.2,751.8 L1366.8,750.6 L1368.4,749.4 L1370.0,748.2 L1371.6,746.9 L1373.1,745.7 L1374.7,744.5 L1376.3,743.2 L1377.8,742.0 L1379.4,740.7 L1380.9,739.4 L1382.5,738.1 L1384.0,736.9 L1385.5,735.5 L1387.0,734.2 L1388.5,732.9 L1390.0,731.6 L1391.5,730.2 L1392.9,728.8 L1394.4,727.4 L1395.8,726.0 L1397.2,724.6 L1398.6,723.2 L1400.0,721.8 L1401.4,720.3 L1402.7,718.9 L1404.1,717.4 L1405.5,715.9 L1406.8,714.4 L1408.1,713.0 L1409.4,711.4 L1410.7,709.9 L1412.0,708.4 L1413.3,706.9 L1414.6,705.3 L1415.8,703.7 L1417.0,702.2 L1418.3,700.6 L1419.5,699.0 L1420.6,697.4 L1421.8,695.8 L1423.0,694.1 L1424.1,692.5 L1425.3,690.8 L1426.4,689.2 L1427.5,687.5 L1428.6,685.9 L1429.7,684.2 L1430.8,682.5 L1431.9,680.9 L1433.0,679.2 L1434.1,677.5 L1435.2,675.9 L1436.3,674.2 L1437.4,672.5 L1438.6,670.9 L1439.7,669.2 L1440.8,667.5 L1441.9,665.9 L1443.0,664.2 L1444.2,662.6 L1445.3,660.9 L1446.4,659.3 L1447.5,657.6 L1448.6,656.0 L1449.8,654.3 L1450.9,652.6 L1452.0,651.0 L1453.1,649.3 L1454.3,647.7 L1455.4,646.0 L1456.5,644.4 L1457.6,642.7 L1458.8,641.1 L1459.9,639.4 L1461.1,637.8 L1462.2,636.2 L1463.3,634.5 L1464.5,632.9 L1465.6,631.2 L1466.8,629.6 L1468.0,628.0 L1469.1,626.3 L1470.3,624.7 L1471.4,623.1 L1472.6,621.5 L1473.8,619.8 L1474.9,618.2 L1476.1,616.6 L1477.2,615.0 L1478.4,613.3 L1479.6,611.7 L1480.7,610.1 L1481.9,608.4 L1483.1,606.8 L1484.2,605.2 L1485.4,603.6 L1486.5,601.9 L1487.7,600.3 L1488.9,598.7 L1490.0,597.0 L1491.2,595.4 L1492.3,593.8 L1493.5,592.1 L1494.6,590.5 L1495.8,588.9 L1497.0,587.3 L1498.1,585.6 L1499.3,584.0 L1500.5,582.4 L1501.6,580.8 L1502.8,579.1 L1504.0,577.5 L1505.2,575.9 L1506.3,574.3 L1507.5,572.7 L1508.7,571.1 L1509.9,569.5 L1511.1,567.9 L1512.3,566.3 L1513.5,564.7 L1514.8,563.1 L1516.0,561.5 L1517.2,559.9 L1518.4,558.3 L1519.6,556.7 L1520.8,555.1 L1522.0,553.5 L1523.2,552.0 L1524.4,550.4 L1525.6,548.7 L1526.8,547.1 L1528.0,545.5 L1529.2,543.9 L1530.3,542.3 L1531.5,540.7 L1532.7,539.0 L1533.8,537.4 L1535.0,535.8 L1536.2,534.2 L1537.3,532.5 L1538.5,530.9 L1539.6,529.3 L1540.8,527.6 L1541.9,526.0 L1543.1,524.4 L1544.2,522.7 L1545.4,521.1 L1546.6,519.5 L1547.7,517.8 L1548.9,516.2 L1550.1,514.6 L1551.3,513.0 L1552.5,511.5 L1553.8,509.9 L1555.0,508.3 L1556.2,506.7 L1557.5,505.2 L1558.7,503.6 L1559.9,502.0 L1561.0,500.3 L1562.2,498.7 L1563.3,497.0 L1564.3,495.3 L1565.4,493.6 L1566.4,491.9 L1567.5,490.2 L1568.5,488.5 L1569.5,486.8 L1570.6,485.1 L1571.6,483.4 L1572.6,481.6 L1573.6,479.9 L1574.6,478.2 L1575.6,476.5 L1576.7,474.7 L1577.7,473.0 L1578.7,471.3 L1579.7,469.6 L1580.8,467.9 L1581.8,466.2 L1582.8,464.5 L1583.9,462.8 L1584.9,461.0 L1586.0,459.3 L1587.0,457.6 L1588.1,455.9 L1589.1,454.2 L1590.2,452.5 L1591.3,450.9 L1592.3,449.2 L1593.4,447.5 L1594.5,445.8 L1595.6,444.1 L1596.7,442.5 L1597.9,440.8 L1599.0,439.2 L1600.1,437.5 L1601.3,435.9 L1602.5,434.3 L1603.6,432.7 L1604.8,431.0 L1606.0,429.4 L1607.2,427.8 L1608.4,426.2 L1609.6,424.6 L1610.8,423.0 L1612.0,421.4 L1613.2,419.8 L1614.4,418.2 L1615.6,416.7 L1616.8,415.1 L1618.1,413.5 L1619.3,411.9 L1620.5,410.3 L1621.7,408.8 L1622.9,407.2 L1624.1,405.5 L1625.3,403.9 L1626.4,402.3 L1627.5,400.6 L1628.6,398.9 L1629.7,397.3 L1630.8,395.6 L1631.9,393.9 L1632.9,392.2 L1633.9,390.5 L1635.0,388.8 L1636.0,387.1 L1637.1,385.4 L1638.1,383.7 L1639.2,382.0 L1640.3,380.3 L1641.4,378.6 L1642.5,376.9 L1643.6,375.3 L1644.7,373.6 L1645.8,372.0 L1647.0,370.3 L1648.1,368.7 L1649.2,367.0 L1650.4,365.4 L1651.6,363.8 L1652.8,362.2 L1654.0,360.6 L1655.2,359.0 L1656.5,357.5 L1657.8,356.0 L1659.1,354.5 L1660.4,353.0 L1661.8,351.5 L1663.2,350.1 L1664.6,348.7 L1666.1,347.3 L1667.5,345.9 L1669.0,344.5 L1670.4,343.2 L1671.9,341.8 L1673.3,340.4 L1674.8,339.1 L1676.3,337.7 L1677.8,336.4 L1679.2,335.0 L1680.7,333.7 L1682.2,332.4 L1683.7,331.0 L1685.2,329.7 L1686.8,328.4 L1688.3,327.2 L1689.9,325.9 L1691.4,324.7 L1693.0,323.4 L1694.6,322.2 L1696.1,321.0 L1697.7,319.7 L1699.2,318.5 L1700.8,317.1 L1702.2,315.8 L1703.7,314.4 L1705.1,313.0 L1706.5,311.6 L1707.9,310.2 L1709.2,308.7 L1710.6,307.2 L1711.9,305.7 L1713.2,304.2 L1714.5,302.7 L1715.8,301.2 L1717.1,299.7 L1718.4,298.1 L1719.7,296.6 L1721.0,295.1 L1722.3,293.5 L1723.6,292.0 L1724.8,290.5 L1726.1,288.9 L1727.4,287.3 L1728.6,285.8 L1729.9,284.2 L1731.1,282.7 L1732.4,281.1 L1733.6,279.5 L1734.8,278.0 L1736.1,276.4 L1737.3,274.8 L1738.5,273.2 L1739.7,271.6 L1741.0,270.1 L1742.2,268.5 L1743.5,266.9 L1744.7,265.4 L1746.0,263.9 L1747.3,262.4 L1748.6,260.9 L1750.0,259.4 L1751.3,257.9 L1752.7,256.4 L1754.1,255.0 L1755.5,253.5 L1756.9,252.1 L1758.3,250.7 L1759.7,249.3 L1761.1,247.9 L1762.6,246.5 L1764.0,245.1 L1765.5,243.8 L1767.0,242.4 L1768.5,241.1 L1770.0,239.9 L1771.6,238.7 L1773.3,237.7 L1774.9,237.1 L1776.6,237.3 L1778.1,238.2 L1779.3,239.6 L1780.4,241.2 L1781.4,243.0 L1782.2,244.8 L1782.9,246.7 L1783.5,248.6 L1784.0,250.5 L1784.5,252.5 L1784.9,254.4 L1785.3,256.4 L1785.7,258.3 L1786.0,260.3 L1786.4,262.3 L1786.7,264.3 L1787.0,266.2 L1787.4,268.2 L1787.7,270.2 L1788.0,272.2 L1788.2,274.1 L1788.5,276.1 L1788.8,278.1 L1789.0,280.1 L1789.2,282.1 L1789.5,284.1 L1789.7,286.1 L1789.9,288.0 L1790.1,290.0 L1790.3,292.0 L1790.6,294.0 L1790.8,296.0 L1791.0,298.0 L1791.2,300.0 L1791.4,302.0 L1791.6,303.9 L1791.8,305.9 L1792.0,307.9 L1792.2,309.9 L1792.4,311.9 L1792.6,313.9 L1792.8,315.9 L1793.0,317.9 L1793.2,319.9 L1793.4,321.9 L1793.6,323.8 L1793.8,325.8 L1794.0,327.8 L1794.2,329.8 L1794.4,331.8 L1794.6,333.8 L1794.8,335.8 L1794.9,337.8 L1795.1,339.8 L1795.3,341.8 L1795.5,343.8 L1795.7,345.7 L1795.9,347.7 L1796.1,349.7 L1796.3,351.7 L1796.6,353.7 L1796.8,355.7 L1797.0,357.7 L1797.3,359.7 L1797.6,361.6 L1797.8,363.6 L1798.1,365.6 L1798.4,367.6 L1798.7,369.6 L1799.0,371.5 L1799.3,373.5 L1799.6,375.5 L1799.9,377.5 L1800.2,379.4 L1800.5,381.4 L1800.8,383.4 L1801.1,385.4 L1801.4,387.4 L1801.7,389.3 L1802.0,391.3 L1802.3,393.3 L1802.6,395.3 L1802.9,397.2 L1803.2,399.2 L1803.5,401.2 L1803.8,403.2 L1804.1,405.1 L1804.4,407.1 L1804.7,409.1 L1805.0,411.1 L1805.3,413.1 L1805.6,415.0 L1805.9,417.0 L1806.2,419.0 L1806.5,421.0 L1806.8,422.9 L1807.1,424.9 L1807.4,426.9 L1807.7,428.9 L1808.0,430.9 L1808.3,432.8 L1808.5,434.8 L1808.8,436.8 L1809.1,438.8 L1809.4,440.8 L1809.6,442.7 L1809.9,444.7 L1810.2,446.7 L1810.5,448.7 L1810.8,450.7 L1811.1,452.6 L1811.4,454.6 L1811.7,456.6 L1812.0,458.6 L1812.3,460.5 L1812.7,462.5 L1813.0,464.5 L1813.4,466.4 L1813.8,468.4 L1814.2,470.4 L1814.6,472.3 L1815.1,474.3 L1815.5,476.2 L1816.0,478.1 L1816.5,480.1 L1817.0,482.0 L1817.5,483.9 L1818.1,485.9 L1818.6,487.8 L1819.2,489.7 L1819.7,491.6 L1820.3,493.6 L1820.8,495.5 L1821.3,497.4 L1821.9,499.3 L1822.4,501.3 L1822.9,503.2 L1823.4,505.1 L1823.9,507.1 L1824.4,509.0 L1824.9,511.0 L1825.4,512.9 L1825.9,514.8 L1826.4,516.8 L1826.9,518.7 L1827.4,520.6 L1828.0,522.6 L1828.5,524.5 L1829.0,526.4 L1829.6,528.3 L1830.1,530.3 L1830.7,532.2 L1831.2,534.1 L1831.8,536.0 L1832.4,537.9 L1833.0,539.8 L1833.6,541.8 L1834.2,543.7 L1834.8,545.6 L1835.4,547.5 L1836.1,549.4 L1836.7,551.3 L1837.3,553.2 L1838.0,555.0 L1838.6,556.9 L1839.3,558.8 L1840.0,560.7 L1840.6,562.6 L1841.3,564.5 L1842.0,566.4 L1842.7,568.2 L1843.4,570.1 L1844.1,572.0 L1844.8,573.8 L1845.5,575.7 L1846.2,577.6 L1847.0,579.4 L1847.7,581.3 L1848.4,583.2 L1849.2,585.0 L1849.9,586.9 L1850.7,588.7 L1851.5,590.6 L1852.2,592.4 L1853.0,594.3 L1853.8,596.1 L1854.6,597.9 L1855.4,599.8 L1856.2,601.6 L1857.0,603.4 L1857.8,605.3 L1858.6,607.1 L1859.4,608.9 L1860.2,610.7 L1861.1,612.6 L1861.9,614.4 L1862.7,616.2 L1863.6,618.0 L1864.4,619.8 L1865.3,621.6 L1866.2,623.4 L1867.0,625.2 L1867.9,627.0 L1868.8,628.8 L1869.7,630.6 L1870.6,632.4 L1871.5,634.2 L1872.4,636.0 L1873.3,637.8 L1874.2,639.5 L1875.1,641.3 L1876.0,643.1 L1876.9,644.9 L1877.8,646.7 L1878.7,648.4 L1879.7,650.2 L1880.6,652.0 L1881.6,653.7 L1882.5,655.5 L1883.5,657.2 L1884.5,659.0 L1885.5,660.7 L1886.5,662.4 L1887.5,664.2 L1888.5,665.9 L1889.6,667.6 L1890.6,669.3 L1891.7,671.0 L1892.8,672.7 L1893.8,674.3 L1894.9,676.0 L1896.0,677.7 L1897.2,679.3 L1898.3,681.0 L1899.5,682.6 L1900.6,684.2 L1901.8,685.9 L1903.0,687.5 L1904.2,689.1 L1905.4,690.7 L1906.6,692.3 L1907.8,693.9 L1909.0,695.4 L1910.3,697.0 L1911.5,698.5 L1912.8,700.1 L1914.1,701.6 L1915.3,703.2 L1916.6,704.7 L1917.9,706.2 L1919.2,707.7 L1920.5,709.2 L1921.9,710.8 L1923.2,712.3 L1924.5,713.8 L1925.8,715.3 L1927.2,716.8 L1928.5,718.3 L1929.8,719.7 L1931.1,721.2 L1932.5,722.7 L1933.8,724.2 L1935.1,725.7 L1936.5,727.2 L1937.8,728.7 L1939.1,730.2 L1940.4,731.7 L1941.8,733.2 L1943.1,734.7 L1944.4,736.2 L1945.7,737.7 L1947.1,739.2 L1948.4,740.7 L1949.8,742.1 L1951.1,743.6 L1952.5,745.0 L1953.9,746.5 L1955.3,747.9 L1956.7,749.4 L1958.1,750.8 L1959.5,752.2 L1960.9,753.6 L1962.4,755.0 L1963.8,756.4 L1965.3,757.7 L1966.7,759.1 L1968.2,760.5 L1969.7,761.8 L1971.2,763.2 L1972.6,764.5 L1974.1,765.8 L1975.6,767.2 L1977.1,768.5 L1978.6,769.8 L1980.1,771.1 L1981.7,772.4 L1983.2,773.7 L1984.7,775.0 L1986.3,776.2 L1987.9,777.5 L1989.4,778.7 L1991.0,779.9 L1992.6,781.1 L1994.2,782.3 L1995.8,783.5 L1997.5,784.7 L1999.1,785.8 L2000.7,787.0 L2002.4,788.1 L2004.0,789.2 L2005.7,790.3 L2007.4,791.4 L2009.1,792.5 L2010.8,793.5 L2012.5,794.5 L2014.2,795.5 L2016.0,796.5 L2017.8,797.4 L2019.5,798.3 L2021.3,799.2 L2023.1,800.1 L2024.9,800.9 L2026.8,801.7 L2028.6,802.5 L2030.5,803.2 L2032.3,803.9 L2034.2,804.6 L2036.1,805.3 L2038.0,805.9 L2039.9,806.5 L2041.8,807.1 L2043.7,807.7 L2045.6,808.3 L2047.5,808.9 L2049.5,809.4 L2051.4,810.0 L2053.3,810.5 L2055.2,811.1 L2057.2,811.6 L2059.1,812.2 L2061.0,812.7 L2062.9,813.2 L2064.8,813.7 L2066.7,814.3 L2068.5,814.8 L2070.1,815.2 L2071.0,815.5" fill="none" stroke="#f00" stroke-width="7" stroke-dasharray="9 8" stroke-linejoin="round" />
<path d="M1333.2,784.1 L1334.8,782.9 L1336.4,781.8 L1338.1,780.6 L1339.7,779.4 L1341.3,778.2 L1342.9,777.1 L1344.5,775.9 L1346.1,774.7 L1347.8,773.5 L1349.4,772.3 L1351.0,771.1 L1352.6,769.9 L1354.2,768.8 L1355.8,767.6 L1357.4,766.4 L1359.0,765.2 L1360.6,764.0 L1362.2,762.8 L1363.8,761.6 L1365.4,760.4 L1367.0,759.2 L1368.6,758.0 L1370.2,756.8 L1371.8,755.6 L1373.4,754.4 L1375.0,753.2 L1376.6,751.9 L1378.1,750.7 L1379.7,749.5 L1381.3,748.2 L1382.8,747.0 L1384.4,745.7 L1385.9,744.4 L1387.5,743.1 L1389.0,741.9 L1390.5,740.5 L1392.0,739.2 L1393.5,737.9 L1395.0,736.6 L1396.5,735.2 L1397.9,733.8 L1399.4,732.4 L1400.8,731.0 L1402.2,729.6 L1403.6,728.2 L1405.0,726.8 L1406.4,725.3 L1407.7,723.9 L1409.1,722.4 L1410.5,720.9 L1411.8,719.4 L1413.1,718.0 L1414.4,716.4 L1415.7,714.9 L1417.0,713.4 L1418.3,711.9 L1419.6,710.3 L1420.8,708.7 L1422.0,707.2 L1423.3,705.6 L1424.5,704.0 L1425.6,702.4 L1426.8,700.8 L1428.0,699.1 L1429.1,697.5 L1430.3,695.8 L1431.4,694.2 L1432.5,692.5 L1433.6,690.9 L1434.7,689.2 L1435.8,687.5 L1436.9,685.9 L1438.0,684.2 L1439.1,682.5 L1440.2,680.9 L1441.3,679.2 L1442.4,677.5 L1443.6,675.9 L1444.7,674.2 L1445.8,672.5 L1446.9,670.9 L1448.0,669.2 L1449.2,667.6 L1450.3,665.9 L1451.4,664.3 L1452.5,662.6 L1453.6,661.0 L1454.8,659.3 L1455.9,657.6 L1457.0,656.0 L1458.1,654.3 L1459.3,652.7 L1460.4,651.0 L1461.5,649.4 L1462.6,647.7 L1463.8,646.1 L1464.9,644.4 L1466.1,642.8 L1467.2,641.2 L1468.3,639.5 L1469.5,637.9 L1470.6,636.2 L1471.8,634.6 L1473.0,633.0 L1474.1,631.3 L1475.3,629.7 L1476.4,628.1 L1477.6,626.5 L1478.8,624.8 L1479.9,623.2 L1481.1,621.6 L1482.2,620.0 L1483.4,618.3 L1484.6,616.7 L1485.7,615.1 L1486.9,613.4 L1488.1,611.8 L1489.2,610.2 L1490.4,608.6 L1491.5,606.9 L1492.7,605.3 L1493.9,603.7 L1495.0,602.0 L1496.2,600.4 L1497.3,598.8 L1498.5,597.1 L1499.6,595.5 L1500.8,593.9 L1502.0,592.3 L1503.1,590.6 L1504.3,589.0 L1505.5,587.4 L1506.6,585.8 L1507.8,584.1 L1509.0,582.5 L1510.2,580.9 L1511.3,579.3 L1512.5,577.7 L1513.7,576.1 L1514.9,574.5 L1516.1,572.9 L1517.3,571.3 L1518.5,569.7 L1519.8,568.1 L1521.0,566.5 L1522.2,564.9 L1523.4,563.3 L1524.6,561.7 L1525.8,560.1 L1527.0,558.5 L1528.2,557.0 L1529.4,555.4 L1530.6,553.7 L1531.8,552.1 L1533.0,550.5 L1534.2,548.9 L1535.3,547.3 L1536.5,545.7 L1537.7,544.0 L1538.8,542.4 L1540.0,540.8 L1541.2,539.2 L1542.3,537.5 L1543.5,535.9 L1544.6,534.3 L1545.8,532.6 L1546.9,531.0 L1548.1,529.4 L1549.2,527.7 L1550.4,526.1 L1551.6,524.5 L1552.7,522.8 L1553.9,521.2 L1555.1,519.6 L1556.3,518.0 L1557.5,516.5 L1558.8,514.9 L1560.0,513.3 L1561.2,511.7 L1562.5,510.2 L1563.7,508.6 L1564.9,507.0 L1566.0,505.3 L1567.2,503.7 L1568.3,502.0 L1569.3,500.3 L1570.4,498.6 L1571.4,496.9 L1572.5,495.2 L1573.5,493.5 L1574.5,491.8 L1575.6,490.1 L1576.6,488.4 L1577.6,486.6 L1578.6,484.9 L1579.6,483.2 L1580.6,481.5 L1581.7,479.7 L1582.7,478.0 L1583.7,476.3 L1584.7,474.6 L1585.8,472.9 L1586.8,471.2 L1587.8,469.5 L1588.9,467.8 L1589.9,466.0 L1591.0,464.3 L1592.0,462.6 L1593.1,460.9 L1594.1,459.2 L1595.2,457.5 L1596.3,455.9 L1597.3,454.2 L1598.4,452.5 L1599.5,450.8 L1600.6,449.1 L1601.7,447.5 L1602.9,445.8 L1604.0,444.2 L1605.1,442.5 L1606.3,440.9 L1607.5,439.3 L1608.6,437.7 L1609.8,436.0 L1611.0,434.4 L1612.2,432.8 L1613.4,431.2 L1614.6,429.6 L1615.8,428.0 L1617.0,426.4 L1618.2,424.8 L1619.4,423.2 L1620.6,421.7 L1621.8,420.1 L1623.1,418.5 L1624.3,416.9 L1625.5,415.3 L1626.7,413.8 L1627.9,412.2 L1629.1,410.5 L1630.3,408.9 L1631.4,407.3 L1632.5,405.6 L1633.6,403.9 L1634.7,402.3 L1635.8,400.6 L1636.9,398.9 L1637.9,397.2 L1638.9,395.5 L1640.0,393.8 L1641.0,392.1 L1642.1,390.4 L1643.1,388.7 L1644.2,387.0 L1645.3,385.3 L1646.4,383.6 L1647.5,381.9 L1648.6,380.3 L1649.7,378.6 L1650.8,377.0 L1652.0,375.3 L1653.1,373.7 L1654.2,372.0 L1655.4,370.4 L1656.6,368.8 L1657.8,367.2 L1659.0,365.6 L1660.2,364.0 L1661.5,362.5 L1662.8,361.0 L1664.1,359.5 L1665.4,358.0 L1666.8,356.5 L1668.2,355.1 L1669.6,353.7 L1671.1,352.3 L1672.5,350.9 L1674.0,349.5 L1675.4,348.2 L1676.9,346.8 L1678.3,345.4 L1679.8,344.1 L1681.3,342.7 L1682.8,341.4 L1684.2,340.0 L1685.7,338.7 L1687.2,337.4 L1688.7,336.0 L1690.2,334.7 L1691.8,333.4 L1693.3,332.2 L1694.9,330.9 L1696.4,329.7 L1698.0,328.4 L1699.6,327.2 L1701.1,326.0 L1702.7,324.7 L1704.2,323.5 L1705.8,322.2 L1707.2,320.8 L1708.7,319.5 L1710.1,318.1 L1711.5,316.6 L1712.9,315.2 L1714.3,313.7 L1715.6,312.3 L1717.0,310.8 L1718.3,309.3 L1719.6,307.7 L1720.9,306.2 L1722.1,304.7 L1723.4,303.1 L1724.6,301.5 L1725.8,299.9 L1727.0,298.3 L1728.2,296.7 L1729.4,295.1 L1730.6,293.5 L1731.7,291.9 L1732.9,290.2 L1734.0,288.6 L1735.2,287.0 L1736.3,285.3 L1737.4,283.7 L1738.5,282.0 L1739.7,280.3 L1740.8,278.7 L1741.9,277.0 L1743.0,275.3 L1744.1,273.7 L1745.2,272.0 L1746.3,270.3 L1747.4,268.7 L1748.6,267.1 L1749.7,265.4 L1750.9,263.8 L1752.1,262.2 L1753.4,260.6 L1754.6,259.1 L1755.8,257.5 L1757.1,255.9 L1758.3,254.4 L1759.6,252.8 L1760.9,251.3 L1762.2,249.8 L1763.5,248.3 L1764.8,246.7 L1766.1,245.3 L1767.5,243.8 L1768.8,242.3 L1770.3,240.9 L1771.7,239.5 L1773.2,238.3 L1774.7,237.5 L1776.3,237.3 L1777.8,238.0 L1779.1,239.4 L1780.2,241.0 L1781.2,242.7 L1782.0,244.5 L1782.7,246.4 L1783.4,248.3 L1783.9,250.2 L1784.4,252.1 L1784.8,254.1 L1785.2,256.0 L1785.6,258.0 L1786.0,260.0 L1786.3,261.9 L1786.7,263.9 L1787.0,265.9 L1787.3,267.9 L1787.6,269.8 L1787.9,271.8 L1788.2,273.8 L1788.5,275.8 L1788.7,277.8 L1789.0,279.7 L1789.2,281.7 L1789.4,283.7 L1789.7,285.7 L1789.9,287.7 L1790.1,289.7 L1790.3,291.7 L1790.5,293.7 L1790.7,295.6 L1790.9,297.6 L1791.2,299.6 L1791.4,301.6 L1791.6,303.6 L1791.8,305.6 L1792.0,307.6 L1792.2,309.6 L1792.4,311.6 L1792.6,313.6 L1792.8,315.5 L1793.0,317.5 L1793.2,319.5 L1793.4,321.5 L1793.6,323.5 L1793.8,325.5 L1794.0,327.5 L1794.2,329.5 L1794.3,331.5 L1794.5,333.5 L1794.7,335.4 L1794.9,337.4 L1795.1,339.4 L1795.3,341.4 L1795.5,343.4 L1795.7,345.4 L1795.9,347.4 L1796.1,349.4 L1796.3,351.4 L1796.5,353.4 L1796.8,355.3 L1797.0,357.3 L1797.3,359.3 L1797.5,361.3 L1797.8,363.3 L1798.1,365.3 L1798.3,367.2 L1798.6,369.2 L1798.9,371.2 L1799.2,373.2 L1799.5,375.1 L1799.8,377.1 L1800.1,379.1 L1800.5,381.1 L1800.8,383.1 L1801.1,385.0 L1801.4,387.0 L1801.7,389.0 L1802.0,391.0 L1802.3,392.9 L1802.6,394.9 L1802.9,396.9 L1803.2,398.9 L1803.5,400.8 L1803.8,402.8 L1804.1,404.8 L1804.4,406.8 L1804.7,408.8 L1805.0,410.7 L1805.3,412.7 L1805.6,414.7 L1805.9,416.7 L1806.2,418.6 L1806.5,420.6 L1806.8,422.6 L1807.1,424.6 L1807.4,426.6 L1807.7,428.5 L1807.9,430.5 L1808.2,432.5 L1808.5,434.5 L1808.8,436.5 L1809.0,438.4 L1809.3,440.4 L1809.6,442.4 L1809.9,444.4 L1810.1,446.4 L1810.4,448.3 L1810.7,450.3 L1811.0,452.3 L1811.3,454.3 L1811.6,456.3 L1811.9,458.2 L1812.3,460.2 L1812.6,462.2 L1812.9,464.1 L1813.3,466.1 L1813.7,468.1 L1814.1,470.0 L1814.5,472.0 L1815.0,473.9 L1815.4,475.9 L1815.9,477.8 L1816.4,479.7 L1816.9,481.7 L1817.4,483.6 L1818.0,485.5 L1818.5,487.5 L1819.1,489.4 L1819.6,491.3 L1820.2,493.2 L1820.7,495.2 L1821.3,497.1 L1821.8,499.0 L1822.3,500.9 L1822.8,502.9 L1823.3,504.8 L1823.8,506.7 L1824.3,508.7 L1824.8,510.6 L1825.3,512.6 L1825.8,514.5 L1826.3,516.4 L1826.8,518.4 L1827.4,520.3 L1827.9,522.2 L1828.4,524.2 L1828.9,526.1 L1829.5,528.0 L1830.0,529.9 L1830.6,531.9 L1831.1,533.8 L1831.7,535.7 L1832.3,537.6 L1832.9,539.5 L1833.5,541.4 L1834.1,543.3 L1834.7,545.2 L1835.3,547.1 L1835.9,549.0 L1836.6,550.9 L1837.2,552.8 L1837.9,554.7 L1838.5,556.6 L1839.2,558.5 L1839.8,560.4 L1840.5,562.3 L1841.2,564.1 L1841.9,566.0 L1842.6,567.9 L1843.3,569.8 L1844.0,571.6 L1844.7,573.5 L1845.4,575.4 L1846.1,577.3 L1846.8,579.1 L1847.6,581.0 L1848.3,582.8 L1849.0,584.7 L1849.8,586.5 L1850.6,588.4 L1851.3,590.2 L1852.1,592.1 L1852.9,593.9 L1853.6,595.8 L1854.4,597.6 L1855.2,599.5 L1856.0,601.3 L1856.8,603.1 L1857.6,605.0 L1858.4,606.8 L1859.3,608.6 L1860.1,610.4 L1860.9,612.2 L1861.8,614.1 L1862.6,615.9 L1863.4,617.7 L1864.3,619.5 L1865.2,621.3 L1866.0,623.1 L1866.9,624.9 L1867.8,626.7 L1868.6,628.5 L1869.5,630.3 L1870.4,632.1 L1871.3,633.9 L1872.2,635.7 L1873.1,637.5 L1874.0,639.2 L1874.9,641.0 L1875.8,642.8 L1876.7,644.6 L1877.7,646.4 L1878.6,648.1 L1879.5,649.9 L1880.5,651.7 L1881.4,653.4 L1882.4,655.2 L1883.3,656.9 L1884.3,658.7 L1885.3,660.4 L1886.3,662.1 L1887.3,663.9 L1888.3,665.6 L1889.4,667.3 L1890.4,669.0 L1891.5,670.7 L1892.6,672.4 L1893.6,674.0 L1894.7,675.7 L1895.9,677.4 L1897.0,679.0 L1898.1,680.7 L1899.3,682.3 L1900.4,684.0 L1901.6,685.6 L1902.8,687.2 L1903.9,688.8 L1905.1,690.4 L1906.4,692.0 L1907.6,693.6 L1908.8,695.2 L1910.1,696.7 L1911.3,698.3 L1912.6,699.8 L1913.8,701.4 L1915.1,702.9 L1916.4,704.4 L1917.7,706.0 L1919.0,707.5 L1920.3,709.0 L1921.6,710.5 L1922.9,712.0 L1924.3,713.5 L1925.6,715.0 L1926.9,716.5 L1928.2,718.0 L1929.6,719.5 L1930.9,721.0 L1932.2,722.5 L1933.6,724.0 L1934.9,725.5 L1936.2,727.0 L1937.5,728.5 L1938.9,730.0 L1940.2,731.5 L1941.5,733.0 L1942.9,734.5 L1944.2,735.9 L1945.5,737.4 L1946.9,738.9 L1948.2,740.4 L1949.6,741.9 L1950.9,743.3 L1952.3,744.8 L1953.7,746.2 L1955.0,747.7 L1956.4,749.1 L1957.9,750.5 L1959.3,751.9 L1960.7,753.3 L1962.1,754.7 L1963.6,756.1 L1965.0,757.5 L1966.5,758.9 L1968.0,760.2 L1969.4,761.6 L1970.9,762.9 L1972.4,764.3 L1973.9,765.6 L1975.4,766.9 L1976.9,768.3 L1978.4,769.6 L1979.9,770.9 L1981.4,772.2 L1982.9,773.5 L1984.5,774.7 L1986.0,776.0 L1987.6,777.2 L1989.2,778.5 L1990.7,779.7 L1992.3,780.9 L1993.9,782.1 L1995.6,783.3 L1997.2,784.5 L1998.8,785.6 L2000.4,786.8 L2002.1,787.9 L2003.7,789.0 L2005.4,790.1 L2007.1,791.2 L2008.8,792.3 L2010.5,793.3 L2012.2,794.3 L2013.9,795.3 L2015.7,796.3 L2017.4,797.3 L2019.2,798.2 L2021.0,799.1 L2022.8,799.9 L2024.6,800.8 L2026.5,801.6 L2028.3,802.3 L2030.2,803.1 L2032.0,803.8 L2033.9,804.5 L2035.8,805.2 L2037.7,805.8 L2039.6,806.4 L2041.5,807.0 L2043.4,807.6 L2045.3,808.2 L2047.2,808.8 L2049.1,809.3 L2051.1,809.9 L2053.0,810.5 L2054.9,811.0 L2056.8,811.5 L2058.8,812.1 L2060.7,812.6 L2062.6,813.1 L2064.5,813.7 L2066.4,814.2 L2068.2,814.7 L2069.9,815.2 L2071.0,815.5" fill="none" stroke="#00f" stroke-width="6.5" stroke-dasharray="6 7" stroke-linejoin="round" />
<path d="M1324.0,860.7 L1330.0,866.4 L1336.0,863.0 L1342.0,858.8 L1348.0,859.5 L1354.0,859.2 L1360.0,856.4 L1366.0,852.9 L1372.0,852.5 L1378.0,856.4 L1384.0,857.0 L1390.0,856.1 L1396.0,847.8 L1402.0,851.1 L1408.0,848.7 L1414.0,849.7 L1420.0,849.1 L1426.0,841.3 L1432.0,843.0 L1438.0,844.6 L1444.0,837.1 L1450.0,838.9 L1456.0,837.1 L1462.0,832.6 L1468.0,828.2 L1474.0,832.9 L1480.0,831.9 L1486.0,832.0 L1492.0,825.2 L1498.0,821.7 L1504.0,829.6 L1510.0,828.5 L1516.0,827.6 L1522.0,829.9 L1528.0,828.1 L1534.0,823.6 L1540.0,827.8 L1546.0,821.4 L1552.0,822.6 L1558.0,819.1 L1564.0,816.2 L1570.0,819.0 L1576.0,819.9 L1582.0,819.0 L1588.0,818.4 L1594.0,816.8 L1600.0,811.1 L1606.0,811.3 L1612.0,810.1 L1618.0,815.8 L1624.0,814.0 L1630.0,818.1 L1636.0,821.9 L1642.0,819.8 L1648.0,818.8 L1654.0,824.0 L1660.0,816.5 L1666.0,826.9 L1672.0,824.0 L1678.0,822.5 L1684.0,830.3 L1690.0,829.4 L1696.0,829.6 L1702.0,838.2 L1708.0,835.6 L1714.0,844.7 L1720.0,848.0 L1726.0,846.1 L1732.0,849.0 L1738.0,855.3 L1744.0,854.0 L1750.0,849.3 L1756.0,849.7 L1762.0,847.6 L1768.0,848.2 L1774.0,845.5 L1780.0,841.7 L1786.0,840.0 L1792.0,839.7 L1798.0,834.7 L1804.0,839.0 L1810.0,837.2 L1816.0,826.9 L1822.0,827.7 L1828.0,827.5 L1834.0,818.5 L1840.0,825.0 L1846.0,819.0 L1852.0,822.3 L1858.0,820.7 L1864.0,822.3 L1870.0,816.2 L1876.0,821.2 L1882.0,821.5 L1888.0,819.4 L1894.0,816.5 L1900.0,821.5 L1906.0,820.3 L1912.0,817.8 L1918.0,815.3 L1924.0,818.4 L1930.0,817.0 L1936.0,816.6 L1942.0,819.2 L1948.0,819.6 L1954.0,818.8 L1960.0,827.0 L1966.0,824.6 L1972.0,827.2 L1978.0,821.2 L1984.0,826.9 L1990.0,822.4 L1996.0,827.1 L2002.0,832.8 L2008.0,828.1 L2014.0,832.5 L2020.0,835.7 L2026.0,832.8 L2032.0,839.5 L2038.0,835.5 L2044.0,838.0 L2050.0,845.1 L2056.0,838.1 L2062.0,847.7 L2068.0,842.4" fill="none" stroke="#000" stroke-width="6" stroke-dasharray="9 9" stroke-linejoin="round" />
<path d="M1324.0,861.7 L1330.0,863.0 L1336.0,867.2 L1342.0,859.0 L1348.0,857.1 L1354.0,861.7 L1360.0,857.4 L1366.0,861.0 L1372.0,860.9 L1378.0,853.3 L1384.0,860.6 L1390.0,852.3 L1396.0,852.6 L1402.0,848.0 L1408.0,852.3 L1414.0,852.3 L1420.0,854.0 L1426.0,847.7 L1432.0,847.3 L1438.0,845.6 L1444.0,837.6 L1450.0,838.7 L1456.0,836.2 L1462.0,835.0 L1468.0,834.2 L1474.0,831.1 L1480.0,838.7 L1486.0,833.5 L1492.0,833.8 L1498.0,828.6 L1504.0,831.7 L1510.0,832.2 L1516.0,833.3 L1522.0,824.4 L1528.0,826.8 L1534.0,833.7 L1540.0,825.0 L1546.0,824.7 L1552.0,824.3 L1558.0,820.6 L1564.0,819.6 L1570.0,826.0 L1576.0,816.6 L1582.0,818.9 L1588.0,813.1 L1594.0,820.0 L1600.0,817.6 L1606.0,817.1 L1612.0,818.8 L1618.0,823.4 L1624.0,822.3 L1630.0,820.7 L1636.0,822.6 L1642.0,820.8 L1648.0,828.3 L1654.0,821.2 L1660.0,821.4 L1666.0,830.9 L1672.0,829.6 L1678.0,825.5 L1684.0,832.0 L1690.0,833.6 L1696.0,833.0 L1702.0,843.1 L1708.0,845.5 L1714.0,839.8 L1720.0,854.1 L1726.0,852.1 L1732.0,858.1 L1738.0,852.9 L1744.0,858.6 L1750.0,860.5 L1756.0,850.5 L1762.0,854.4 L1768.0,846.7 L1774.0,848.1 L1780.0,843.8 L1786.0,838.1 L1792.0,841.7 L1798.0,836.7 L1804.0,840.9 L1810.0,842.3 L1816.0,829.3 L1822.0,833.4 L1828.0,823.9 L1834.0,828.2 L1840.0,830.1 L1846.0,822.4 L1852.0,824.7 L1858.0,824.4 L1864.0,826.1 L1870.0,818.5 L1876.0,820.7 L1882.0,818.9 L1888.0,820.6 L1894.0,819.0 L1900.0,827.2 L1906.0,826.9 L1912.0,817.6 L1918.0,827.5 L1924.0,829.0 L1930.0,820.3 L1936.0,821.2 L1942.0,819.8 L1948.0,831.3 L1954.0,829.3 L1960.0,825.4 L1966.0,832.6 L1972.0,829.7 L1978.0,825.0 L1984.0,829.1 L1990.0,832.7 L1996.0,832.4 L2002.0,837.2 L2008.0,840.1 L2014.0,832.4 L2020.0,839.9 L2026.0,834.8 L2032.0,837.9 L2038.0,844.0 L2044.0,845.2 L2050.0,850.8 L2056.0,848.7 L2062.0,845.5 L2068.0,844.9" fill="none" stroke="#f00" stroke-width="7" stroke-dasharray="10 8" stroke-linejoin="round" />
<path d="M1324.0,867.9 L1329.0,862.8 L1334.0,867.8 L1339.0,861.5 L1344.0,859.3 L1349.0,865.9 L1354.0,863.2 L1359.0,852.3 L1364.0,863.4 L1369.0,849.8 L1374.0,856.5 L1379.0,857.9 L1384.0,856.6 L1389.0,845.6 L1394.0,860.2 L1399.0,847.0 L1404.0,849.6 L1409.0,854.1 L1414.0,854.3 L1419.0,838.2 L1424.0,849.7 L1429.0,840.5 L1434.0,846.1 L1439.0,847.8 L1444.0,832.0 L1449.0,836.2 L1454.0,838.9 L1459.0,836.5 L1464.0,834.0 L1469.0,840.8 L1474.0,823.4 L1479.0,832.5 L1484.0,822.9 L1489.0,831.6 L1494.0,833.1 L1499.0,827.6 L1504.0,818.7 L1509.0,834.3 L1514.0,820.2 L1519.0,835.8 L1524.0,833.9 L1529.0,830.3 L1534.0,833.2 L1539.0,830.6 L1544.0,821.3 L1549.0,815.1 L1554.0,829.3 L1559.0,823.7 L1564.0,815.1 L1569.0,825.8 L1574.0,814.6 L1579.0,810.6 L1584.0,819.2 L1589.0,818.6 L1594.0,810.5 L1599.0,810.4 L1604.0,824.3 L1609.0,814.7 L1614.0,807.2 L1619.0,818.2 L1624.0,824.2 L1629.0,825.3 L1634.0,813.4 L1639.0,823.0 L1644.0,810.1 L1649.0,813.3 L1654.0,815.7 L1659.0,813.3 L1664.0,820.0 L1669.0,817.5 L1674.0,829.0 L1679.0,818.8 L1684.0,832.1 L1689.0,832.6 L1694.0,835.1 L1699.0,828.2 L1704.0,835.7 L1709.0,835.3 L1714.0,838.5 L1719.0,844.1 L1724.0,852.6 L1729.0,856.9 L1734.0,856.8 L1739.0,856.1 L1744.0,862.7 L1749.0,859.1 L1754.0,843.1 L1759.0,856.8 L1764.0,855.0 L1769.0,840.7 L1774.0,845.3 L1779.0,841.3 L1784.0,838.6 L1789.0,834.4 L1794.0,836.4 L1799.0,830.4 L1804.0,833.8 L1809.0,840.1 L1814.0,831.5 L1819.0,835.2 L1824.0,826.7 L1829.0,833.7 L1834.0,826.0 L1839.0,815.7 L1844.0,830.2 L1849.0,817.6 L1854.0,830.1 L1859.0,825.6 L1864.0,816.8 L1869.0,827.9 L1874.0,815.5 L1879.0,825.4 L1884.0,812.1 L1889.0,814.8 L1894.0,814.2 L1899.0,822.5 L1904.0,817.2 L1909.0,819.1 L1914.0,822.9 L1919.0,823.7 L1924.0,826.6 L1929.0,824.2 L1934.0,825.1 L1939.0,822.7 L1944.0,830.3 L1949.0,815.0 L1954.0,814.7 L1959.0,829.2 L1964.0,825.9 L1969.0,830.3 L1974.0,816.3 L1979.0,817.1 L1984.0,832.9 L1989.0,821.9 L1994.0,819.5 L1999.0,825.6 L2004.0,837.2 L2009.0,837.4 L2014.0,828.2 L2019.0,836.4 L2024.0,838.1 L2029.0,842.6 L2034.0,840.8 L2039.0,842.8 L2044.0,842.8 L2049.0,841.3 L2054.0,842.7 L2059.0,849.1 L2064.0,835.5 L2069.0,849.2" fill="none" stroke="#00f" stroke-width="7" stroke-dasharray="7 6" stroke-linejoin="round" />
<path d="M1326.0,869.8 L1333.0,861.9 L1340.0,857.8 L1347.0,856.1 L1354.0,863.9 L1361.0,866.4 L1368.0,860.5 L1375.0,858.4 L1382.0,866.9 L1389.0,851.7 L1396.0,849.3 L1403.0,847.4 L1410.0,860.9 L1417.0,848.9 L1424.0,857.0 L1431.0,843.8 L1438.0,838.6 L1445.0,850.5 L1452.0,834.3 L1459.0,844.8 L1466.0,835.4 L1473.0,839.2 L1480.0,836.2 L1487.0,833.2 L1494.0,835.9 L1501.0,837.8 L1508.0,823.8 L1515.0,827.0 L1522.0,836.6 L1529.0,832.1 L1536.0,827.4 L1543.0,821.6 L1550.0,833.3 L1557.0,817.9 L1564.0,816.3 L1571.0,816.2 L1578.0,824.1 L1585.0,822.7 L1592.0,823.1 L1599.0,811.6 L1606.0,823.9 L1613.0,815.1 L1620.0,827.2 L1627.0,830.3 L1634.0,814.9 L1641.0,830.0 L1648.0,825.7 L1655.0,822.4 L1662.0,825.9 L1669.0,837.0 L1676.0,826.6 L1683.0,836.0 L1690.0,834.2 L1697.0,844.8 L1704.0,848.4 L1711.0,841.3 L1718.0,855.4 L1725.0,857.3 L1732.0,849.2 L1739.0,858.2 L1746.0,867.3 L1753.0,852.1 L1760.0,855.0 L1767.0,848.2 L1774.0,855.6 L1781.0,852.6 L1788.0,846.4 L1795.0,840.2 L1802.0,845.9 L1809.0,839.1 L1816.0,839.9 L1823.0,823.9 L1830.0,830.3 L1837.0,822.3 L1844.0,819.6 L1851.0,825.6 L1858.0,829.3 L1865.0,819.3 L1872.0,827.5 L1879.0,827.7 L1886.0,825.2 L1893.0,826.3 L1900.0,815.4 L1907.0,817.8 L1914.0,817.5 L1921.0,832.1 L1928.0,820.0 L1935.0,834.6 L1942.0,833.0 L1949.0,823.5 L1956.0,823.8 L1963.0,833.8 L1970.0,823.0 L1977.0,828.5 L1984.0,829.6 L1991.0,835.4 L1998.0,833.8 L2005.0,835.0 L2012.0,833.6 L2019.0,845.5 L2026.0,843.9 L2033.0,835.0 L2040.0,843.8 L2047.0,842.9 L2054.0,846.8 L2061.0,854.1 L2068.0,843.4" fill="none" stroke="#11f" stroke-width="6" stroke-dasharray="6 10" stroke-linejoin="round" />
<path d="M356.0,1625.3 L361.5,1669.1 L367.0,1624.4 L372.5,1642.4 L378.0,1630.8 L383.5,1711.4 L389.0,1613.5 L394.5,1686.1 L400.0,1590.6 L405.5,1619.7 L411.0,1721.1 L416.5,1720.9 L422.0,1713.0 L427.5,1595.5 L433.0,1591.4 L438.5,1636.1 L444.0,1664.4 L449.5,1708.9 L455.0,1615.7 L460.5,1679.5 L466.0,1601.8 L471.5,1732.9 L477.0,1695.5 L482.5,1664.7 L488.0,1678.7 L493.5,1642.7 L499.0,1647.2 L504.5,1707.6 L510.0,1727.2 L515.5,1633.3 L521.0,1730.6 L526.5,1710.2 L532.0,1670.9 L537.5,1621.5 L543.0,1725.1 L548.5,1710.1 L554.0,1620.6 L559.5,1688.6 L565.0,1649.0 L570.5,1697.6 L576.0,1686.6 L581.5,1610.3 L587.0,1636.2 L592.5,1709.2 L598.0,1664.8 L603.5,1666.9 L609.0,1696.8 L614.5,1678.2 L620.0,1708.6 L625.5,1721.9 L631.0,1623.3 L636.5,1650.5 L642.0,1637.1 L647.5,1635.7 L653.0,1742.2 L658.5,1690.6 L664.0,1666.1 L669.5,1647.9 L675.0,1655.8 L680.5,1651.2 L686.0,1741.3 L691.5,1747.6 L697.0,1659.7 L702.5,1651.9 L708.0,1676.8 L713.5,1663.1 L719.0,1743.1 L724.5,1698.5 L730.0,1634.4 L735.5,1669.0 L741.0,1707.7" fill="none" stroke="#a688e0" stroke-width="3.5" stroke-linejoin="round" />
<path d="M357.5,1581.5 L363.0,1706.3 L368.5,1663.4 L374.0,1590.6 L379.5,1670.6 L385.0,1718.0 L390.5,1590.4 L396.0,1686.7 L401.5,1639.0 L407.0,1667.3 L412.5,1599.0 L418.0,1616.0 L423.5,1700.8 L429.0,1676.6 L434.5,1634.9 L440.0,1640.8 L445.5,1681.0 L451.0,1650.1 L456.5,1633.0 L462.0,1690.2 L467.5,1669.8 L473.0,1589.8 L478.5,1596.2 L484.0,1692.1 L489.5,1644.6 L495.0,1663.0 L500.5,1724.4 L506.0,1723.8 L511.5,1696.6 L517.0,1608.7 L522.5,1648.1 L528.0,1726.2 L533.5,1616.7 L539.0,1712.3 L544.5,1715.3 L550.0,1628.1 L555.5,1708.5 L561.0,1667.8 L566.5,1625.3 L572.0,1730.4 L577.5,1617.2 L583.0,1704.1 L588.5,1617.8 L594.0,1723.6 L599.5,1739.4 L605.0,1640.5 L610.5,1745.6 L616.0,1657.3 L621.5,1702.4 L627.0,1618.1 L632.5,1729.9 L638.0,1692.6 L643.5,1650.1 L649.0,1705.2 L654.5,1689.6 L660.0,1741.3 L665.5,1708.7 L671.0,1674.1 L676.5,1652.1 L682.0,1643.9 L687.5,1668.7 L693.0,1682.2 L698.5,1710.7 L704.0,1673.2 L709.5,1696.2 L715.0,1696.2 L720.5,1712.1 L726.0,1661.1 L731.5,1686.9 L737.0,1639.1 L742.5,1750.2" fill="none" stroke="#6a3fd0" stroke-width="3" stroke-linejoin="round" />
<path d="M359.0,1653.4 L364.5,1670.9 L370.0,1616.8 L375.5,1648.7 L381.0,1643.9 L386.5,1643.4 L392.0,1680.3 L397.5,1597.9 L403.0,1694.7 L408.5,1663.1 L414.0,1646.8 L419.5,1652.8 L425.0,1668.7 L430.5,1677.8 L436.0,1587.2 L441.5,1683.0 L447.0,1693.7 L452.5,1640.2 L458.0,1605.6 L463.5,1672.6 L469.0,1649.9 L474.5,1652.5 L480.0,1722.3 L485.5,1685.5 L491.0,1733.4 L496.5,1686.0 L502.0,1695.7 L507.5,1705.1 L513.0,1731.0 L518.5,1675.2 L524.0,1674.9 L529.5,1735.3 L535.0,1624.7 L540.5,1724.5 L546.0,1657.0 L551.5,1700.5 L557.0,1634.1 L562.5,1698.5 L568.0,1664.2 L573.5,1674.0 L579.0,1619.3 L584.5,1629.9 L590.0,1630.8 L595.5,1654.6 L601.0,1668.5 L606.5,1638.5 L612.0,1713.8 L617.5,1677.0 L623.0,1725.9 L628.5,1727.8 L634.0,1647.4 L639.5,1640.7 L645.0,1669.9 L650.5,1744.9 L656.0,1681.3 L661.5,1657.3 L667.0,1705.1 L672.5,1739.7 L678.0,1744.7 L683.5,1684.6 L689.0,1660.4 L694.5,1716.7 L700.0,1635.7 L705.5,1744.3 L711.0,1684.4 L716.5,1688.7 L722.0,1745.4 L727.5,1648.7 L733.0,1686.9 L738.5,1650.7 L744.0,1702.8" fill="none" stroke="#3a1ccc" stroke-width="2.5" stroke-linejoin="round" />
<path d="M360.5,1626.7 L366.0,1674.9 L371.5,1565.8 L377.0,1574.8 L382.5,1704.0 L388.0,1577.4 L393.5,1596.1 L399.0,1565.1 L404.5,1580.3 L410.0,1649.5 L415.5,1632.3 L421.0,1684.1 L426.5,1695.4 L432.0,1703.1 L437.5,1631.6 L443.0,1724.1 L448.5,1651.2 L454.0,1622.3 L459.5,1733.5 L465.0,1720.3 L470.5,1692.7 L476.0,1659.2 L481.5,1651.2 L487.0,1604.1 L492.5,1605.3 L498.0,1697.5 L503.5,1666.2 L509.0,1741.4 L514.5,1709.9 L520.0,1639.8 L525.5,1685.2 L531.0,1718.1 L536.5,1708.5 L542.0,1665.1 L547.5,1694.7 L553.0,1680.5 L558.5,1692.4 L564.0,1659.7 L569.5,1696.8 L575.0,1673.8 L580.5,1685.2 L586.0,1654.6 L591.5,1726.8 L597.0,1745.1 L602.5,1737.1 L608.0,1662.3 L613.5,1618.6 L619.0,1731.2 L624.5,1706.4 L630.0,1660.7 L635.5,1626.6 L641.0,1733.5 L646.5,1640.7 L652.0,1657.7 L657.5,1658.0 L663.0,1716.8 L668.5,1655.1 L674.0,1674.3 L679.5,1666.0 L685.0,1678.0 L690.5,1722.2 L696.0,1711.1 L701.5,1734.6 L707.0,1630.6 L712.5,1632.7 L718.0,1660.2 L723.5,1712.5 L729.0,1663.8 L734.5,1750.9 L740.0,1698.9" fill="none" stroke="#8a64d8" stroke-width="3" stroke-linejoin="round" />
<path d="M358.0,1636.2 L363.0,1639.5 L368.0,1633.3 L373.0,1634.6 L378.0,1634.7 L383.0,1637.0 L388.0,1640.9 L393.0,1644.3 L398.0,1641.6 L403.0,1650.1 L408.0,1650.6 L413.0,1651.1 L418.0,1653.0 L423.0,1654.7 L428.0,1654.5 L433.0,1651.4 L438.0,1652.3 L443.0,1649.4 L448.0,1658.5 L453.0,1658.1 L458.0,1659.6 L463.0,1659.6 L468.0,1654.5 L473.0,1659.5 L478.0,1659.7 L483.0,1659.8 L488.0,1661.8 L493.0,1659.6 L498.0,1662.0 L503.0,1666.3 L508.0,1664.0 L513.0,1671.3 L518.0,1662.6 L523.0,1671.7 L528.0,1664.4 L533.0,1673.7 L538.0,1673.7 L543.0,1675.1 L548.0,1674.3 L553.0,1678.1 L558.0,1676.0 L563.0,1675.5 L568.0,1676.0 L573.0,1678.4 L578.0,1674.0 L583.0,1679.5 L588.0,1674.8 L593.0,1680.6 L598.0,1680.2 L603.0,1679.5 L608.0,1675.7 L613.0,1686.9 L618.0,1679.0 L623.0,1682.9 L628.0,1681.7 L633.0,1686.5 L638.0,1680.8 L643.0,1688.8 L648.0,1683.2 L653.0,1681.5 L658.0,1684.3 L663.0,1687.5 L668.0,1687.2 L673.0,1682.5 L678.0,1684.0 L683.0,1683.6 L688.0,1684.7 L693.0,1685.7 L698.0,1690.4 L703.0,1681.7 L708.0,1684.3 L713.0,1689.0 L718.0,1686.2 L723.0,1684.8 L728.0,1684.8 L733.0,1686.5 L738.0,1688.7 L743.0,1685.5 L748.0,1689.3 L753.0,1695.9 L758.0,1690.4 L763.0,1693.6 L768.0,1694.7 L773.0,1685.5 L778.0,1687.0 L783.0,1685.8 L788.0,1688.5 L793.0,1693.6 L798.0,1692.6 L803.0,1695.2 L808.0,1695.0 L813.0,1690.9 L818.0,1694.1 L823.0,1685.4 L828.0,1690.4 L833.0,1690.4 L838.0,1695.5 L843.0,1685.0" fill="none" stroke="#1a1a1a" stroke-width="5" stroke-linejoin="round" />
<path d="M731.0,1647.4 L735.0,1704.3 L739.0,1729.3 L743.0,1660.2 L747.0,1744.7 L751.0,1763.8 L755.0,1666.0 L759.0,1745.4 L763.0,1756.2 L767.0,1708.5 L771.0,1700.6 L775.0,1722.3 L779.0,1749.9 L783.0,1734.7 L787.0,1723.6 L791.0,1742.6 L795.0,1665.8 L799.0,1656.6 L803.0,1648.6 L807.0,1657.1 L811.0,1687.5 L815.0,1751.6 L819.0,1764.3 L823.0,1727.5 L827.0,1759.7 L831.0,1723.5 L835.0,1727.3 L839.0,1684.6 L843.0,1666.0" fill="none" stroke="#f02020" stroke-width="3" stroke-linejoin="round" />
<path d="M732.0,1639.0 L736.0,1658.3 L740.0,1635.6 L744.0,1708.5 L748.0,1752.7 L752.0,1670.8 L756.0,1732.6 L760.0,1660.3 L764.0,1683.2 L768.0,1733.7 L772.0,1707.1 L776.0,1672.1 L780.0,1746.9 L784.0,1735.3 L788.0,1709.3 L792.0,1720.4 L796.0,1650.9 L800.0,1680.2 L804.0,1747.8 L808.0,1690.3 L812.0,1713.5 L816.0,1707.2 L820.0,1747.1 L824.0,1680.2 L828.0,1674.2 L832.0,1724.3 L836.0,1682.5 L840.0,1729.8" fill="none" stroke="#ff7070" stroke-width="3" stroke-linejoin="round" />
<path d="M733.0,1723.5 L737.0,1698.5 L741.0,1743.8 L745.0,1648.4 L749.0,1708.3 L753.0,1705.8 L757.0,1668.6 L761.0,1677.3 L765.0,1754.3 L769.0,1743.1 L773.0,1652.4 L777.0,1759.5 L781.0,1694.6 L785.0,1668.9 L789.0,1752.4 L793.0,1676.1 L797.0,1683.3 L801.0,1641.0 L805.0,1662.5 L809.0,1682.0 L813.0,1678.1 L817.0,1641.8 L821.0,1670.3 L825.0,1664.2 L829.0,1742.4 L833.0,1759.3 L837.0,1720.3 L841.0,1656.4" fill="none" stroke="#ffa0a0" stroke-width="3" stroke-linejoin="round" />
<path d="M744.0,1838.2 L749.0,1743.6 L754.0,1721.1 L759.0,1814.1 L764.0,1813.5 L769.0,1765.9 L774.0,1703.2 L779.0,1717.3 L784.0,1773.5 L789.0,1803.8 L794.0,1715.5 L799.0,1823.1 L804.0,1727.9 L809.0,1794.7 L814.0,1781.1 L819.0,1831.8 L824.0,1833.2 L829.0,1849.1 L834.0,1700.5 L839.0,1726.8" fill="none" stroke="#383838" stroke-width="3" stroke-linejoin="round" />
<path d="M746.0,1830.4 L751.0,1796.2 L756.0,1850.7 L761.0,1786.8 L766.0,1786.6 L771.0,1824.1 L776.0,1801.9 L781.0,1784.4 L786.0,1743.7 L791.0,1834.0 L796.0,1762.0 L801.0,1766.1 L806.0,1813.1 L811.0,1809.5 L816.0,1802.0 L821.0,1711.6 L826.0,1775.4 L831.0,1758.4 L836.0,1815.9 L841.0,1725.8" fill="none" stroke="#383838" stroke-width="3" stroke-linejoin="round" />
<path d="M728.0,1688.0 L840.0,1688.0" fill="none" stroke="#7040c8" stroke-width="3" stroke-linejoin="round" />
<path d="M843.0,1553.0 L843.0,1815.0" fill="none" stroke="#333" stroke-width="3.5" stroke-linejoin="round" />
<path d="M843.5,1590.0 L843.5,1690.0" fill="none" stroke="#e00" stroke-width="3" stroke-linejoin="round" />
<path d="M843.0,1690.0 L882.0,1718.0" fill="none" stroke="#333" stroke-width="3" stroke-linejoin="round" />
<path d="M882.0,1718.3 L888.0,1761.2 L894.0,1751.5 L900.0,1803.1 L906.0,1744.8 L912.0,1686.3 L918.0,1675.8 L924.0,1755.2 L930.0,1811.8 L936.0,1833.5 L942.0,1788.3 L948.0,1779.3 L954.0,1706.1 L960.0,1791.4 L966.0,1703.3 L972.0,1731.9 L978.0,1680.9 L984.0,1744.5 L990.0,1774.9 L996.0,1819.6 L1002.0,1720.9 L1008.0,1790.5 L1014.0,1716.9 L1020.0,1786.7 L1026.0,1792.2 L1032.0,1689.7 L1038.0,1734.8 L1044.0,1816.9 L1050.0,1714.6 L1056.0,1797.9 L1062.0,1704.1 L1068.0,1825.2 L1074.0,1763.5 L1080.0,1779.4 L1086.0,1691.1 L1092.0,1762.7 L1098.0,1716.9 L1104.0,1782.7" fill="none" stroke="#4a4a4a" stroke-width="3.5" stroke-linejoin="round" />
<path d="M884.0,1754.0 L890.0,1814.6 L896.0,1744.6 L902.0,1783.4 L908.0,1748.4 L914.0,1787.6 L920.0,1773.7 L926.0,1749.9 L932.0,1822.2 L938.0,1804.6 L944.0,1840.8 L950.0,1828.2 L956.0,1711.3 L962.0,1795.6 L968.0,1749.0 L974.0,1817.8 L980.0,1745.5 L986.0,1794.5 L992.0,1728.5 L998.0,1786.3 L1004.0,1785.1 L1010.0,1847.4 L1016.0,1831.1 L1022.0,1772.0 L1028.0,1739.7 L1034.0,1709.8 L1040.0,1843.0 L1046.0,1849.8 L1052.0,1688.6 L1058.0,1806.1 L1064.0,1777.9 L1070.0,1825.5 L1076.0,1825.4 L1082.0,1755.5 L1088.0,1822.9 L1094.0,1706.4 L1100.0,1845.6 L1106.0,1760.2" fill="none" stroke="#4a4a4a" stroke-width="3.5" stroke-linejoin="round" />
<path d="M882.0,1736.9 L888.0,1683.6 L894.0,1679.4 L900.0,1727.4 L906.0,1737.7 L912.0,1701.2 L918.0,1708.2 L924.0,1730.8 L930.0,1672.9 L936.0,1673.3 L942.0,1657.8 L948.0,1659.1 L954.0,1707.1 L960.0,1690.2 L966.0,1706.3 L972.0,1694.4 L978.0,1689.9 L984.0,1666.7 L990.0,1676.2 L996.0,1708.6 L1002.0,1690.2 L1008.0,1675.6 L1014.0,1687.4 L1020.0,1714.5 L1026.0,1713.1 L1032.0,1747.0 L1038.0,1727.8 L1044.0,1727.0 L1050.0,1751.5 L1056.0,1688.5 L1062.0,1677.7 L1068.0,1669.1 L1074.0,1728.1 L1080.0,1687.0 L1086.0,1754.5 L1092.0,1715.8 L1098.0,1674.0 L1104.0,1751.4" fill="none" stroke="#f46060" stroke-width="3" stroke-linejoin="round" />
<path d="M885.0,1705.7 L891.0,1666.0 L897.0,1738.1 L903.0,1671.5 L909.0,1685.1 L915.0,1668.8 L921.0,1734.4 L927.0,1732.0 L933.0,1712.9 L939.0,1666.9 L945.0,1708.1 L951.0,1686.4 L957.0,1734.6 L963.0,1722.5 L969.0,1716.9 L975.0,1741.2 L981.0,1710.1 L987.0,1673.6 L993.0,1703.9 L999.0,1665.6 L1005.0,1749.4 L1011.0,1688.1 L1017.0,1699.2 L1023.0,1699.0 L1029.0,1748.9 L1035.0,1675.3 L1041.0,1720.5 L1047.0,1693.3 L1053.0,1707.7 L1059.0,1712.5 L1065.0,1666.7 L1071.0,1727.6 L1077.0,1671.9 L1083.0,1725.9 L1089.0,1689.0 L1095.0,1745.2 L1101.0,1723.7 L1107.0,1686.3" fill="none" stroke="#f46060" stroke-width="3" stroke-linejoin="round" />
<path d="M340.0,1613.9 L344.0,1609.4 L348.0,1607.4 L352.0,1602.4 L356.0,1597.5 L360.0,1594.7 L364.0,1589.6 L368.0,1586.9 L372.0,1582.4 L376.0,1582.1 L380.0,1577.5 L384.0,1572.1 L388.0,1567.0 L392.0,1564.3 L396.0,1562.5 L400.0,1559.1 L404.0,1553.2 L408.0,1548.9 L412.0,1542.8 L416.0,1540.6 L420.0,1537.3 L424.0,1537.5 L428.0,1533.7 L432.0,1530.3 L436.0,1525.9 L440.0,1521.3 L444.0,1521.5 L448.0,1515.7 L452.0,1513.2 L456.0,1510.8 L460.0,1506.9 L464.0,1509.0 L468.0,1504.1 L472.0,1503.0 L476.0,1499.9 L480.0,1497.5 L484.0,1492.9 L488.0,1494.4 L492.0,1490.7 L496.0,1486.3 L500.0,1487.8 L504.0,1483.6 L508.0,1483.2 L512.0,1482.6 L516.0,1480.7 L520.0,1476.7 L524.0,1474.3 L528.0,1471.4 L532.0,1469.4 L536.0,1471.0 L540.0,1467.8 L544.0,1464.1 L548.0,1463.7 L552.0,1461.5 L556.0,1460.7 L560.0,1462.4 L564.0,1458.0 L568.0,1458.4 L572.0,1455.2 L576.0,1450.6 L580.0,1451.5 L584.0,1448.5 L588.0,1446.4 L592.0,1443.1 L596.0,1440.9 L600.0,1438.0 L604.0,1442.3 L608.0,1440.1 L612.0,1440.9 L616.0,1437.6 L620.0,1440.7 L624.0,1436.1 L628.0,1435.5 L632.0,1436.9 L636.0,1438.6 L640.0,1436.2 L644.0,1438.8 L648.0,1439.8 L652.0,1441.3 L656.0,1445.5 L660.0,1443.8 L664.0,1449.5 L668.0,1450.7 L672.0,1450.7 L676.0,1454.0 L680.0,1455.6 L684.0,1457.4 L688.0,1456.0 L692.0,1459.2 L696.0,1461.0 L700.0,1464.1 L704.0,1463.7 L708.0,1466.8 L712.0,1468.9 L716.0,1467.4 L720.0,1466.6 L724.0,1467.7 L728.0,1465.3 L732.0,1468.3 L736.0,1463.6 L740.0,1467.1 L744.0,1465.1 L748.0,1462.9 L752.0,1464.8 L756.0,1464.0 L760.0,1461.4 L764.0,1460.6 L768.0,1460.1 L772.0,1458.4 L776.0,1454.2 L780.0,1453.6 L784.0,1454.2 L788.0,1450.0 L792.0,1449.4 L796.0,1446.0 L800.0,1441.9 L804.0,1438.4 L808.0,1433.6 L812.0,1430.7 L816.0,1425.3 L820.0,1423.0 L824.0,1414.5 L828.0,1412.8 L832.0,1408.8 L836.0,1405.2 L840.0,1406.3 L844.0,1398.7 L848.0,1394.7 L852.0,1384.6 L856.0,1380.4 L860.0,1372.1 L864.0,1371.3 L868.0,1373.1 L872.0,1371.4 L876.0,1370.1 L880.0,1369.7 L884.0,1375.3 L888.0,1381.2 L892.0,1384.2 L896.0,1389.8 L900.0,1398.5 L904.0,1402.9 L908.0,1414.8 L912.0,1429.8 L916.0,1446.3 L920.0,1460.5 L924.0,1487.8 L928.0,1513.2 L932.0,1541.7 L936.0,1555.4 L940.0,1576.4 L944.0,1585.9 L948.0,1591.7 L952.0,1594.8 L956.0,1601.9 L960.0,1605.5 L964.0,1606.9 L968.0,1611.4 L972.0,1613.6 L976.0,1621.7 L980.0,1638.5 L984.0,1651.9 L988.0,1665.2 L992.0,1673.4 L996.0,1682.9 L1000.0,1687.1 L1004.0,1693.3 L1008.0,1695.6 L1012.0,1697.6 L1016.0,1700.6 L1020.0,1702.3 L1024.0,1700.4 L1028.0,1703.4 L1032.0,1705.0 L1036.0,1705.0 L1040.0,1706.7 L1044.0,1702.9 L1048.0,1705.5 L1052.0,1703.8 L1056.0,1705.5 L1060.0,1707.4 L1064.0,1707.8 L1068.0,1704.5 L1072.0,1708.0 L1076.0,1708.1 L1080.0,1705.7 L1084.0,1708.5 L1088.0,1704.0 L1092.0,1707.1 L1096.0,1707.9 L1100.0,1705.1 L1104.0,1707.1 L1108.0,1705.5" fill="none" stroke="#000" stroke-width="7" stroke-linejoin="round" />
<path d="M340.0,1602.0 C351.9,1591.3 387.0,1558.0 411.4,1538.0 C435.8,1518.0 464.6,1496.8 486.5,1481.8 C508.4,1466.8 524.0,1459.3 542.8,1448.0 C561.5,1436.7 583.4,1422.4 599.0,1414.2 C614.6,1406.0 623.2,1399.4 636.7,1399.0 C650.2,1398.6 666.5,1405.7 680.0,1412.0 C693.5,1418.3 705.0,1432.9 717.5,1436.7 C730.0,1440.5 742.5,1437.6 755.0,1434.8 C767.5,1432.0 781.3,1427.6 792.6,1419.8 C803.9,1412.0 813.3,1400.8 822.7,1388.0 C832.1,1375.2 841.5,1356.8 849.0,1343.0 C856.5,1329.2 862.1,1314.4 867.7,1305.0 C873.3,1295.6 880.2,1289.6 882.7,1286.5" fill="none" stroke="#f44" stroke-width="4" stroke-linejoin="round" />
<path d="M882.7,1286.5 C886.5,1290.2 899.7,1299.6 905.3,1309.0 C910.9,1318.4 913.4,1329.7 916.5,1342.9 C919.6,1356.1 921.5,1369.2 924.0,1388.0 C926.5,1406.8 929.1,1434.9 931.6,1455.5 C934.1,1476.1 935.9,1493.0 939.0,1511.8 C942.1,1530.5 944.6,1553.0 950.3,1568.0 C955.9,1583.0 966.6,1588.2 972.9,1602.0 C979.2,1615.8 982.9,1636.3 987.9,1650.7 C992.9,1665.1 998.0,1680.2 1003.0,1688.3 C1008.0,1696.4 1000.5,1697.0 1018.0,1699.5 C1035.5,1702.0 1093.0,1702.4 1108.0,1703.0" fill="none" stroke="#f44" stroke-width="5" stroke-dasharray="5 9" stroke-linejoin="round" />
<path d="M340.0,1598.0 C351.9,1585.5 393.2,1541.2 411.4,1523.0 C429.6,1504.8 437.7,1500.2 449.0,1489.0 C460.3,1477.8 466.5,1465.5 479.0,1455.5 C491.5,1445.5 510.2,1437.8 524.0,1429.0 C537.8,1420.2 549.1,1414.2 561.6,1403.0 C574.1,1391.8 586.5,1374.1 599.0,1361.6 C611.5,1349.1 627.3,1334.7 636.7,1327.8 C646.1,1320.9 648.3,1318.1 655.5,1320.0 C662.7,1321.9 669.7,1332.7 680.0,1339.0 C690.3,1345.3 708.1,1352.9 717.5,1357.9 C726.9,1362.9 726.3,1367.8 736.3,1369.0 C746.3,1370.2 765.1,1370.4 777.6,1365.4 C790.1,1360.4 802.0,1348.4 811.4,1339.0 C820.8,1329.6 827.1,1322.2 834.0,1309.0 C840.9,1295.8 847.1,1276.9 852.7,1260.0 C858.3,1243.1 864.0,1226.4 867.7,1207.7 C871.5,1189.0 872.7,1162.6 875.2,1147.6 C877.7,1132.6 878.9,1124.5 882.7,1117.6 C886.5,1110.7 892.2,1105.1 897.8,1106.3 C903.4,1107.5 911.5,1113.1 916.5,1125.0 C921.5,1136.9 924.7,1156.4 927.8,1177.7 C930.9,1199.0 932.8,1223.9 935.3,1252.7 C937.8,1281.5 940.3,1321.6 942.8,1350.4 C945.3,1379.2 947.8,1401.7 950.3,1425.5 C952.8,1449.3 954.7,1474.2 957.8,1493.0 C960.9,1511.8 964.6,1522.3 969.0,1538.0 C973.4,1553.7 979.6,1568.8 984.0,1587.0 C988.4,1605.2 991.6,1631.4 995.4,1647.0 C999.2,1662.6 1001.6,1670.2 1006.6,1680.8 C1011.6,1691.4 1017.3,1703.3 1025.4,1710.8 C1033.6,1718.3 1041.7,1723.3 1055.5,1725.8 C1069.3,1728.3 1099.2,1725.8 1108.0,1725.8" fill="none" stroke="#00f" stroke-width="7" stroke-dasharray="6 8" stroke-linejoin="round" />
<path d="M1323.0,1462.9 L1328.0,1494.0 L1333.0,1474.7 L1338.0,1509.0 L1343.0,1511.3 L1348.0,1486.0 L1353.0,1501.0 L1358.0,1526.3 L1363.0,1481.6 L1368.0,1494.7 L1373.0,1487.8 L1378.0,1511.5 L1383.0,1472.3 L1388.0,1478.1 L1393.0,1482.2 L1398.0,1445.5 L1403.0,1457.8 L1408.0,1441.0 L1413.0,1427.7 L1418.0,1413.9 L1423.0,1381.9 L1428.0,1359.4 L1433.0,1336.7 L1438.0,1312.9 L1443.0,1296.7 L1448.0,1263.8 L1453.0,1220.8 L1458.0,1166.9 L1463.0,1138.6 L1468.0,1118.0 L1473.0,1126.4 L1478.0,1110.5 L1483.0,1093.8 L1488.0,1092.5 L1493.0,1074.4 L1498.0,1087.8 L1503.0,1089.7 L1508.0,1076.9 L1513.0,1118.5 L1518.0,1121.4 L1523.0,1190.8 L1528.0,1208.5 L1533.0,1242.8 L1538.0,1249.3 L1543.0,1274.1 L1548.0,1264.0 L1553.0,1290.3 L1558.0,1304.9 L1563.0,1288.6 L1568.0,1318.7 L1573.0,1325.0 L1578.0,1341.2 L1583.0,1341.1 L1588.0,1374.9 L1593.0,1381.3 L1598.0,1384.4 L1603.0,1417.9 L1608.0,1444.0 L1613.0,1466.2 L1618.0,1482.2 L1623.0,1507.9 L1628.0,1517.3 L1633.0,1508.0 L1638.0,1538.1 L1643.0,1552.0 L1648.0,1549.1 L1653.0,1579.1 L1658.0,1550.4 L1663.0,1550.8 L1668.0,1558.0 L1673.0,1570.6 L1678.0,1592.4 L1683.0,1602.9 L1688.0,1594.2 L1693.0,1574.7 L1698.0,1624.4 L1703.0,1600.5 L1708.0,1607.2 L1713.0,1602.7 L1718.0,1647.9 L1723.0,1661.8 L1728.0,1630.5 L1733.0,1656.4 L1738.0,1694.7 L1743.0,1641.0 L1748.0,1667.4 L1753.0,1670.4 L1758.0,1638.0 L1763.0,1699.1 L1768.0,1714.7 L1773.0,1679.9 L1778.0,1670.8 L1783.0,1721.3 L1788.0,1685.1 L1793.0,1708.3 L1798.0,1695.4 L1803.0,1738.5 L1808.0,1706.5 L1813.0,1690.5 L1818.0,1718.5 L1823.0,1683.8 L1828.0,1729.6 L1833.0,1720.6 L1838.0,1738.5 L1843.0,1688.8 L1848.0,1723.0 L1853.0,1679.6 L1858.0,1734.9 L1863.0,1661.3 L1868.0,1659.8 L1873.0,1696.1 L1878.0,1664.6 L1883.0,1713.6 L1888.0,1687.7 L1893.0,1701.9 L1898.0,1711.2 L1903.0,1672.7 L1908.0,1652.3 L1913.0,1648.4 L1918.0,1711.7 L1923.0,1671.2 L1928.0,1712.8 L1933.0,1704.1 L1938.0,1695.3 L1943.0,1669.6 L1948.0,1694.4 L1953.0,1694.0 L1958.0,1669.8 L1963.0,1696.3 L1968.0,1646.4 L1973.0,1701.6 L1978.0,1644.3 L1983.0,1651.5 L1988.0,1706.4 L1993.0,1664.2 L1998.0,1668.1 L2003.0,1664.0 L2008.0,1659.1 L2013.0,1683.0 L2018.0,1676.9 L2023.0,1677.4 L2028.0,1676.6 L2033.0,1650.7 L2038.0,1676.0 L2043.0,1663.1 L2048.0,1668.1 L2053.0,1643.1 L2058.0,1649.9 L2063.0,1656.0 L2068.0,1638.2" fill="none" stroke="#00f" stroke-width="6.5" stroke-dasharray="6 7" stroke-linejoin="round" />
<path d="M1325.0,1469.8 L1330.0,1505.8 L1335.0,1503.8 L1340.0,1500.4 L1345.0,1502.3 L1350.0,1519.3 L1355.0,1481.8 L1360.0,1488.6 L1365.0,1511.4 L1370.0,1512.3 L1375.0,1480.6 L1380.0,1473.3 L1385.0,1464.2 L1390.0,1451.4 L1395.0,1443.4 L1400.0,1448.3 L1405.0,1451.9 L1410.0,1438.0 L1415.0,1421.4 L1420.0,1405.4 L1425.0,1374.6 L1430.0,1349.9 L1435.0,1339.7 L1440.0,1296.4 L1445.0,1282.0 L1450.0,1244.0 L1455.0,1189.6 L1460.0,1147.6 L1465.0,1130.8 L1470.0,1108.6 L1475.0,1122.6 L1480.0,1114.3 L1485.0,1106.1 L1490.0,1088.3 L1495.0,1081.7 L1500.0,1074.5 L1505.0,1075.5 L1510.0,1090.3 L1515.0,1124.0 L1520.0,1149.9 L1525.0,1178.6 L1530.0,1233.5 L1535.0,1256.5 L1540.0,1255.4 L1545.0,1285.9 L1550.0,1265.8 L1555.0,1275.1 L1560.0,1279.1 L1565.0,1314.5 L1570.0,1331.4 L1575.0,1343.1 L1580.0,1347.2 L1585.0,1343.8 L1590.0,1357.5 L1595.0,1396.5 L1600.0,1407.3 L1605.0,1429.5 L1610.0,1447.6 L1615.0,1488.8 L1620.0,1491.6 L1625.0,1517.6 L1630.0,1524.6 L1635.0,1525.0 L1640.0,1519.3 L1645.0,1541.4 L1650.0,1577.7 L1655.0,1521.5 L1660.0,1595.0 L1665.0,1528.4 L1670.0,1602.3 L1675.0,1549.7 L1680.0,1589.8 L1685.0,1557.1 L1690.0,1597.7 L1695.0,1559.7 L1700.0,1622.7 L1705.0,1579.6 L1710.0,1651.3 L1715.0,1625.7 L1720.0,1637.7 L1725.0,1627.5 L1730.0,1630.0 L1735.0,1651.2 L1740.0,1689.4 L1745.0,1701.8 L1750.0,1652.7 L1755.0,1679.3 L1760.0,1680.1 L1765.0,1683.4 L1770.0,1680.7 L1775.0,1720.8 L1780.0,1730.3 L1785.0,1658.7 L1790.0,1673.7 L1795.0,1698.2 L1800.0,1739.4 L1805.0,1713.2 L1810.0,1672.6 L1815.0,1689.9 L1820.0,1704.2 L1825.0,1668.4 L1830.0,1704.4 L1835.0,1732.4 L1840.0,1719.9 L1845.0,1690.1 L1850.0,1688.2 L1855.0,1719.8 L1860.0,1706.3 L1865.0,1707.8 L1870.0,1657.1 L1875.0,1675.6 L1880.0,1699.9 L1885.0,1673.5 L1890.0,1698.3 L1895.0,1715.5 L1900.0,1653.9 L1905.0,1672.8 L1910.0,1696.2 L1915.0,1691.1 L1920.0,1647.8 L1925.0,1695.2 L1930.0,1698.9 L1935.0,1652.4 L1940.0,1686.8 L1945.0,1648.7 L1950.0,1679.8 L1955.0,1651.8 L1960.0,1670.5 L1965.0,1707.9 L1970.0,1699.2 L1975.0,1655.5 L1980.0,1691.3 L1985.0,1660.1 L1990.0,1673.2 L1995.0,1665.5 L2000.0,1655.7 L2005.0,1659.4 L2010.0,1655.1 L2015.0,1666.8 L2020.0,1658.1 L2025.0,1657.3 L2030.0,1651.3 L2035.0,1672.8 L2040.0,1653.8 L2045.0,1654.6 L2050.0,1645.9 L2055.0,1658.3 L2060.0,1661.5 L2065.0,1660.6 L2070.0,1662.9" fill="none" stroke="#22f" stroke-width="6" stroke-dasharray="5 9" stroke-linejoin="round" />
<path d="M1327.0,1490.5 L1332.0,1480.8 L1337.0,1513.7 L1342.0,1486.7 L1347.0,1506.9 L1352.0,1523.5 L1357.0,1501.8 L1362.0,1509.5 L1367.0,1491.4 L1372.0,1476.3 L1377.0,1502.6 L1382.0,1501.7 L1387.0,1480.2 L1392.0,1452.2 L1397.0,1481.4 L1402.0,1444.6 L1407.0,1443.7 L1412.0,1423.4 L1417.0,1407.5 L1422.0,1392.5 L1427.0,1367.9 L1432.0,1337.2 L1437.0,1327.5 L1442.0,1296.2 L1447.0,1254.4 L1452.0,1219.7 L1457.0,1177.2 L1462.0,1133.9 L1467.0,1127.6 L1472.0,1112.9 L1477.0,1114.7 L1482.0,1086.3 L1487.0,1086.6 L1492.0,1072.7 L1497.0,1066.5 L1502.0,1078.8 L1507.0,1097.3 L1512.0,1090.6 L1517.0,1128.1 L1522.0,1168.3 L1527.0,1211.7 L1532.0,1226.4 L1537.0,1241.7 L1542.0,1283.2 L1547.0,1259.7 L1552.0,1291.5 L1557.0,1275.8 L1562.0,1301.9 L1567.0,1295.0 L1572.0,1347.4 L1577.0,1357.2 L1582.0,1364.1 L1587.0,1373.5 L1592.0,1377.1 L1597.0,1402.1 L1602.0,1423.9 L1607.0,1428.3 L1612.0,1464.1 L1617.0,1471.8 L1622.0,1513.5 L1627.0,1522.1 L1632.0,1520.2 L1637.0,1532.9 L1642.0,1550.1 L1647.0,1558.1 L1652.0,1524.0 L1657.0,1518.9 L1662.0,1581.3 L1667.0,1533.5 L1672.0,1589.4 L1677.0,1598.4 L1682.0,1595.9 L1687.0,1547.2 L1692.0,1619.0 L1697.0,1585.8 L1702.0,1593.8 L1707.0,1614.0 L1712.0,1600.1 L1717.0,1608.6 L1722.0,1609.2 L1727.0,1619.8 L1732.0,1659.7 L1737.0,1671.5 L1742.0,1628.2 L1747.0,1655.7 L1752.0,1652.9 L1757.0,1700.6 L1762.0,1675.0 L1767.0,1666.0 L1772.0,1665.5 L1777.0,1664.4 L1782.0,1682.4 L1787.0,1733.8 L1792.0,1736.6 L1797.0,1728.6 L1802.0,1685.1 L1807.0,1706.2 L1812.0,1696.3 L1817.0,1672.9 L1822.0,1681.3 L1827.0,1734.1 L1832.0,1728.8 L1837.0,1721.8 L1842.0,1712.2 L1847.0,1713.6 L1852.0,1722.0 L1857.0,1689.7 L1862.0,1716.4 L1867.0,1673.3 L1872.0,1667.8 L1877.0,1690.3 L1882.0,1685.1 L1887.0,1658.9 L1892.0,1689.8 L1897.0,1718.4 L1902.0,1654.2 L1907.0,1721.2 L1912.0,1684.7 L1917.0,1687.5 L1922.0,1717.3 L1927.0,1679.6 L1932.0,1681.5 L1937.0,1661.4 L1942.0,1708.8 L1947.0,1657.9 L1952.0,1703.2 L1957.0,1700.2 L1962.0,1703.3 L1967.0,1650.9 L1972.0,1698.1 L1977.0,1680.6 L1982.0,1705.2 L1987.0,1642.7 L1992.0,1664.4 L1997.0,1662.5 L2002.0,1675.2 L2007.0,1680.9 L2012.0,1673.9 L2017.0,1660.3 L2022.0,1677.6 L2027.0,1649.7 L2032.0,1650.2 L2037.0,1658.8 L2042.0,1661.6 L2047.0,1656.5 L2052.0,1650.1 L2057.0,1639.5 L2062.0,1663.3 L2067.0,1643.7 L2072.0,1634.8" fill="none" stroke="#00f" stroke-width="6" stroke-dasharray="5 8" stroke-linejoin="round" />
<path d="M1326.1,1492.0 L1327.4,1492.6 L1329.0,1493.6 L1330.7,1494.6 L1332.5,1495.6 L1334.2,1496.5 L1336.0,1497.5 L1337.7,1498.4 L1339.5,1499.3 L1341.3,1500.1 L1343.2,1500.9 L1345.1,1501.6 L1346.9,1502.2 L1348.8,1502.9 L1350.6,1503.7 L1352.5,1504.6 L1354.3,1505.4 L1356.1,1506.1 L1358.1,1506.5 L1360.0,1506.6 L1361.9,1506.2 L1363.7,1505.4 L1365.3,1504.3 L1366.7,1502.9 L1368.0,1501.4 L1369.2,1499.8 L1370.3,1498.1 L1371.3,1496.4 L1372.3,1494.7 L1373.2,1492.9 L1374.2,1491.1 L1375.1,1489.3 L1375.9,1487.5 L1376.8,1485.7 L1377.6,1483.9 L1378.5,1482.1 L1379.3,1480.3 L1380.1,1478.5 L1380.9,1476.6 L1381.7,1474.8 L1382.5,1473.0 L1383.3,1471.1 L1384.1,1469.3 L1384.9,1467.4 L1385.6,1465.6 L1386.4,1463.7 L1387.2,1461.9 L1387.9,1460.0 L1388.7,1458.2 L1389.5,1456.4 L1390.2,1454.5 L1391.0,1452.7 L1391.8,1450.8 L1392.5,1449.0 L1393.3,1447.1 L1394.1,1445.3 L1394.9,1443.5 L1395.7,1441.6 L1396.5,1439.8 L1397.3,1438.0 L1398.1,1436.1 L1398.9,1434.3 L1399.7,1432.5 L1400.4,1430.6 L1401.1,1428.7 L1401.8,1426.8 L1402.5,1424.9 L1403.1,1423.1 L1403.7,1421.1 L1404.3,1419.2 L1404.9,1417.3 L1405.5,1415.4 L1406.1,1413.5 L1406.6,1411.6 L1407.2,1409.7 L1407.7,1407.7 L1408.2,1405.8 L1408.8,1403.9 L1409.3,1401.9 L1409.8,1400.0 L1410.3,1398.1 L1410.8,1396.2 L1411.4,1394.2 L1411.9,1392.3 L1412.4,1390.4 L1412.9,1388.4 L1413.5,1386.5 L1414.0,1384.6 L1414.6,1382.7 L1415.1,1380.7 L1415.6,1378.8 L1416.2,1376.9 L1416.7,1374.9 L1417.2,1373.0 L1417.7,1371.1 L1418.2,1369.1 L1418.6,1367.2 L1419.1,1365.2 L1419.5,1363.3 L1419.9,1361.3 L1420.2,1359.3 L1420.5,1357.4 L1420.7,1355.4 L1420.9,1353.4 L1421.0,1351.4 L1421.1,1349.4 L1421.2,1347.4 L1421.3,1345.4 L1421.3,1343.4 L1421.3,1341.4 L1421.4,1339.4 L1421.4,1337.4 L1421.5,1335.4 L1421.7,1333.4 L1421.9,1331.4 L1422.1,1329.4 L1422.4,1327.5 L1422.8,1325.5 L1423.3,1323.6 L1423.8,1321.6 L1424.4,1319.7 L1425.1,1317.8 L1425.7,1315.9 L1426.4,1314.1 L1427.1,1312.2 L1427.8,1310.3 L1428.5,1308.4 L1429.1,1306.5 L1429.8,1304.7 L1430.4,1302.8 L1431.0,1300.8 L1431.5,1298.9 L1432.0,1297.0 L1432.4,1295.0 L1432.9,1293.1 L1433.3,1291.1 L1433.6,1289.1 L1434.0,1287.2 L1434.3,1285.2 L1434.6,1283.2 L1434.9,1281.2 L1435.2,1279.3 L1435.5,1277.3 L1435.8,1275.3 L1436.1,1273.3 L1436.4,1271.4 L1436.7,1269.4 L1436.9,1267.4 L1437.2,1265.4 L1437.5,1263.4 L1437.8,1261.4 L1438.0,1259.5 L1438.2,1257.5 L1438.5,1255.5 L1438.7,1253.5 L1438.9,1251.5 L1439.1,1249.5 L1439.4,1247.5 L1439.6,1245.6 L1439.8,1243.6 L1440.1,1241.6 L1440.3,1239.6 L1440.6,1237.6 L1440.9,1235.6 L1441.1,1233.7 L1441.4,1231.7 L1441.8,1229.7 L1442.1,1227.7 L1442.4,1225.8 L1442.7,1223.8 L1443.0,1221.8 L1443.4,1219.8 L1443.7,1217.9 L1444.1,1215.9 L1444.4,1213.9 L1444.8,1212.0 L1445.2,1210.0 L1445.6,1208.0 L1446.0,1206.1 L1446.4,1204.1 L1446.9,1202.2 L1447.3,1200.2 L1447.8,1198.3 L1448.3,1196.3 L1448.7,1194.4 L1449.2,1192.5 L1449.7,1190.5 L1450.2,1188.6 L1450.7,1186.7 L1451.2,1184.7 L1451.8,1182.8 L1452.3,1180.9 L1452.9,1178.9 L1453.4,1177.0 L1454.0,1175.1 L1454.6,1173.2 L1455.2,1171.3 L1455.8,1169.4 L1456.5,1167.5 L1457.2,1165.6 L1458.0,1163.8 L1458.8,1162.0 L1459.6,1160.1 L1460.5,1158.3 L1461.4,1156.6 L1462.4,1154.9 L1463.6,1153.3 L1465.1,1152.3 L1466.7,1152.0 L1468.3,1152.7 L1469.6,1154.1 L1470.7,1155.7 L1471.6,1157.5 L1472.4,1159.3 L1473.2,1161.2 L1474.0,1163.0 L1474.7,1164.9 L1475.4,1166.8 L1476.1,1168.6 L1476.7,1170.5 L1477.4,1172.4 L1478.1,1174.3 L1478.7,1176.2 L1479.4,1178.1 L1480.1,1179.9 L1480.8,1181.8 L1481.5,1183.7 L1482.2,1185.6 L1483.0,1187.4 L1483.8,1189.2 L1484.6,1191.1 L1485.4,1192.9 L1486.3,1194.7 L1487.1,1196.5 L1488.0,1198.3 L1488.9,1200.1 L1489.7,1201.9 L1490.6,1203.7 L1491.5,1205.5 L1492.4,1207.3 L1493.2,1209.1 L1494.1,1210.9 L1495.0,1212.7 L1495.8,1214.5 L1496.6,1216.4 L1497.4,1218.2 L1498.2,1220.0 L1498.9,1221.9 L1499.7,1223.7 L1500.4,1225.6 L1501.1,1227.5 L1501.8,1229.4 L1502.4,1231.3 L1503.1,1233.1 L1503.7,1235.0 L1504.4,1236.9 L1505.0,1238.8 L1505.6,1240.7 L1506.3,1242.6 L1506.9,1244.5 L1507.6,1246.4 L1508.3,1248.3 L1508.9,1250.2 L1509.6,1252.0 L1510.3,1253.9 L1511.0,1255.8 L1511.7,1257.7 L1512.4,1259.5 L1513.1,1261.4 L1513.8,1263.3 L1514.5,1265.2 L1515.2,1267.0 L1515.9,1268.9 L1516.6,1270.8 L1517.3,1272.6 L1518.0,1274.5 L1518.7,1276.4 L1519.4,1278.3 L1520.2,1280.1 L1520.9,1282.0 L1521.6,1283.9 L1522.3,1285.8 L1523.0,1287.6 L1523.7,1289.5 L1524.4,1291.4 L1525.1,1293.2 L1525.8,1295.1 L1526.5,1297.0 L1527.2,1298.9 L1527.9,1300.7 L1528.6,1302.6 L1529.3,1304.5 L1530.0,1306.3 L1530.7,1308.2 L1531.4,1310.1 L1532.1,1312.0 L1532.8,1313.9 L1533.4,1315.7 L1534.1,1317.6 L1534.7,1319.5 L1535.3,1321.4 L1535.9,1323.3 L1536.5,1325.3 L1537.1,1327.2 L1537.7,1329.1 L1538.3,1331.0 L1538.9,1332.9 L1539.6,1334.8 L1540.3,1336.6 L1541.0,1338.5 L1541.8,1340.3 L1542.6,1342.2 L1543.5,1343.9 L1544.5,1345.7 L1545.5,1347.4 L1546.6,1349.1 L1547.8,1350.7 L1548.9,1352.3 L1550.2,1353.9 L1551.4,1355.5 L1552.6,1357.1 L1553.9,1358.6 L1555.1,1360.2 L1556.3,1361.8 L1557.5,1363.4 L1558.7,1365.0 L1559.8,1366.7 L1560.9,1368.4 L1561.9,1370.1 L1562.8,1371.9 L1563.7,1373.6 L1564.6,1375.5 L1565.4,1377.3 L1566.2,1379.1 L1567.0,1380.9 L1567.8,1382.8 L1568.6,1384.6 L1569.4,1386.4 L1570.2,1388.3 L1571.1,1390.0 L1572.1,1391.8 L1573.1,1393.5 L1574.1,1395.2 L1575.3,1396.8 L1576.6,1398.4 L1577.9,1399.8 L1579.4,1401.2 L1580.9,1402.5 L1582.5,1403.7 L1584.1,1404.9 L1585.7,1406.1 L1587.3,1407.3 L1588.9,1408.5 L1590.4,1409.8 L1591.9,1411.2 L1593.3,1412.6 L1594.6,1414.1 L1595.9,1415.6 L1597.1,1417.2 L1598.3,1418.8 L1599.4,1420.4 L1600.6,1422.1 L1601.7,1423.8 L1602.7,1425.5 L1603.8,1427.2 L1604.8,1428.9 L1605.9,1430.6 L1606.9,1432.3 L1607.9,1434.0 L1608.9,1435.7 L1609.9,1437.5 L1610.9,1439.2 L1611.9,1441.0 L1612.8,1442.7 L1613.8,1444.5 L1614.7,1446.2 L1615.7,1448.0 L1616.6,1449.8 L1617.5,1451.5 L1618.4,1453.3 L1619.3,1455.1 L1620.2,1456.9 L1621.0,1458.8 L1621.7,1460.6 L1622.4,1462.5 L1623.1,1464.4 L1623.7,1466.3 L1624.2,1468.2 L1624.8,1470.1 L1625.4,1472.0 L1626.0,1473.9 L1626.7,1475.8 L1627.5,1477.7 L1628.3,1479.5 L1629.1,1481.3 L1630.1,1483.1 L1631.1,1484.8 L1632.1,1486.5 L1633.2,1488.2 L1634.3,1489.9 L1635.4,1491.5 L1636.5,1493.2 L1637.7,1494.8 L1638.8,1496.4 L1640.0,1498.1 L1641.2,1499.7 L1642.3,1501.3 L1643.5,1502.9 L1644.7,1504.5 L1645.9,1506.1 L1647.0,1507.8 L1648.2,1509.4 L1649.4,1511.0 L1650.5,1512.6 L1651.7,1514.3 L1652.8,1516.0 L1653.9,1517.6 L1654.9,1519.3 L1656.0,1521.0 L1657.0,1522.8 L1658.0,1524.5 L1658.9,1526.3 L1659.9,1528.0 L1660.8,1529.8 L1661.7,1531.6 L1662.7,1533.3 L1663.6,1535.1 L1664.6,1536.9 L1665.5,1538.6 L1666.5,1540.4 L1667.5,1542.1 L1668.6,1543.8 L1669.7,1545.4 L1670.9,1547.0 L1672.2,1548.6 L1673.5,1550.0 L1675.0,1551.4 L1676.6,1552.6 L1678.2,1553.7 L1679.9,1554.8 L1681.7,1555.7 L1683.4,1556.6 L1685.2,1557.5 L1687.0,1558.4 L1688.8,1559.3 L1690.7,1560.1 L1692.5,1560.7 L1694.4,1561.4 L1696.3,1562.0 L1698.2,1562.7 L1700.0,1563.5 L1701.9,1564.3 L1703.6,1565.2 L1705.4,1566.1 L1707.2,1567.1 L1708.9,1568.1 L1710.6,1569.1 L1712.3,1570.2 L1714.0,1571.3 L1715.6,1572.4 L1717.2,1573.7 L1718.7,1575.0 L1720.2,1576.3 L1721.6,1577.7 L1723.0,1579.2 L1724.3,1580.7 L1725.6,1582.2 L1726.9,1583.7 L1728.2,1585.3 L1729.4,1586.8 L1730.7,1588.4 L1731.9,1589.9 L1733.2,1591.5 L1734.4,1593.1 L1735.6,1594.6 L1736.9,1596.2 L1738.2,1597.7 L1739.4,1599.3 L1740.7,1600.8 L1742.0,1602.4 L1743.2,1604.0 L1744.4,1605.5 L1745.7,1607.1 L1746.9,1608.7 L1748.2,1610.2 L1749.4,1611.8 L1750.6,1613.4 L1751.9,1614.9 L1753.1,1616.5 L1754.4,1618.1 L1755.6,1619.7 L1756.8,1621.2 L1758.0,1622.8 L1759.2,1624.4 L1760.4,1626.1 L1761.5,1627.7 L1762.5,1629.4 L1763.6,1631.1 L1764.6,1632.9 L1765.7,1634.6 L1766.8,1636.2 L1768.0,1637.8 L1769.3,1639.3 L1770.8,1640.6 L1772.3,1641.9 L1774.0,1643.0 L1775.7,1644.0 L1777.5,1645.0 L1779.3,1645.8 L1781.1,1646.7 L1782.9,1647.5 L1784.8,1648.2 L1786.6,1649.0 L1788.5,1649.8 L1790.3,1650.6 L1792.1,1651.4 L1794.0,1652.2 L1795.8,1653.0 L1797.6,1653.8 L1799.5,1654.5 L1801.3,1655.3 L1803.2,1656.0 L1805.1,1656.6 L1807.0,1657.1 L1809.0,1657.6 L1810.9,1657.9 L1812.9,1658.0 L1814.9,1657.9 L1816.9,1657.6 L1818.8,1657.2 L1820.8,1656.8 L1822.7,1656.3 L1824.7,1655.8 L1826.6,1655.4 L1828.6,1655.1 L1830.6,1654.9 L1832.5,1655.0 L1834.5,1655.3 L1836.4,1656.0 L1838.2,1656.8 L1839.9,1657.8 L1841.6,1658.8 L1843.3,1659.9 L1845.0,1661.0 L1846.7,1662.0 L1848.5,1662.9 L1850.3,1663.6 L1852.2,1664.3 L1854.1,1664.9 L1856.0,1665.5 L1857.9,1666.1 L1859.9,1666.6 L1861.8,1667.2 L1863.7,1667.7 L1865.7,1668.2 L1867.6,1668.6 L1869.6,1669.0 L1871.5,1669.4 L1873.5,1669.7 L1875.5,1670.0 L1877.5,1670.2 L1879.5,1670.3 L1881.5,1670.4 L1883.5,1670.3 L1885.5,1670.1 L1887.4,1669.7 L1889.3,1669.2 L1891.3,1668.6 L1893.1,1667.9 L1895.0,1667.2 L1896.8,1666.5 L1898.7,1665.7 L1900.6,1665.0 L1902.4,1664.3 L1904.3,1663.6 L1906.2,1663.1 L1908.2,1662.7 L1910.2,1662.3 L1912.1,1662.1 L1914.1,1662.0 L1916.1,1662.0 L1918.1,1662.0 L1920.1,1662.1 L1922.1,1662.3 L1924.1,1662.5 L1926.1,1662.8 L1928.1,1663.0 L1930.1,1663.3 L1932.0,1663.6 L1934.0,1663.9 L1936.0,1664.2 L1938.0,1664.5 L1939.9,1664.8 L1941.9,1665.0 L1943.9,1665.3 L1945.9,1665.5 L1947.9,1665.7 L1949.9,1665.9 L1951.9,1666.0 L1953.9,1666.1 L1955.9,1666.1 L1957.9,1666.2 L1959.9,1666.2 L1961.9,1666.2 L1963.9,1666.1 L1965.9,1666.1 L1967.9,1666.1 L1969.9,1666.0 L1971.9,1666.0 L1973.9,1665.9 L1975.9,1665.9 L1977.9,1665.9 L1979.9,1665.8 L1981.9,1665.8 L1983.9,1665.8 L1985.9,1665.9 L1987.9,1665.9 L1989.9,1666.0 L1991.9,1666.1 L1993.9,1666.3 L1995.8,1666.5 L1997.8,1666.7 L1999.8,1667.0 L2001.8,1667.3 L2003.8,1667.6 L2005.7,1667.9 L2007.7,1668.2 L2009.7,1668.5 L2011.7,1668.8 L2013.7,1669.1 L2015.6,1669.4 L2017.6,1669.6 L2019.6,1669.8 L2021.6,1669.9 L2023.6,1670.0 L2025.6,1670.0 L2027.6,1670.0 L2029.6,1669.9 L2031.6,1669.8 L2033.6,1669.6 L2035.6,1669.4 L2037.6,1669.1 L2039.5,1668.8 L2041.5,1668.5 L2043.5,1668.1 L2045.4,1667.8 L2047.4,1667.4 L2049.4,1667.0 L2051.3,1666.6 L2053.3,1666.2 L2055.2,1665.7 L2057.2,1665.3 L2059.1,1664.9 L2061.1,1664.4 L2063.0,1664.0 L2065.0,1663.5 L2066.9,1663.1 L2068.8,1662.7 L2070.5,1662.3 L2071.5,1662.1" fill="none" stroke="#f00" stroke-width="8" stroke-dasharray="15 14" stroke-linejoin="round" />
<path d="M1323.0,1464.6 L1326.0,1473.9 L1329.0,1481.8 L1332.0,1478.8 L1335.0,1479.3 L1338.0,1479.4 L1341.0,1477.0 L1344.0,1477.4 L1347.0,1476.8 L1350.0,1476.3 L1353.0,1478.7 L1356.0,1479.4 L1359.0,1478.9 L1362.0,1476.6 L1365.0,1473.7 L1368.0,1466.0 L1371.0,1462.2 L1374.0,1452.9 L1377.0,1443.8 L1380.0,1435.6 L1383.0,1425.9 L1386.0,1414.2 L1389.0,1405.7 L1392.0,1393.9 L1395.0,1381.4 L1398.0,1370.5 L1401.0,1359.0 L1404.0,1346.0 L1407.0,1328.7 L1410.0,1310.2 L1413.0,1291.7 L1416.0,1269.9 L1419.0,1204.0 L1422.0,1170.9 L1425.0,1182.6 L1428.0,1189.2 L1431.0,1188.0 L1434.0,1183.3 L1437.0,1182.2 L1440.0,1180.1 L1443.0,1187.0 L1446.0,1190.5 L1449.0,1191.1 L1452.0,1194.3 L1455.0,1192.6 L1458.0,1196.1 L1461.0,1195.1 L1464.0,1200.3 L1467.0,1204.3 L1470.0,1211.0 L1473.0,1225.8 L1476.0,1243.8 L1479.0,1248.7 L1482.0,1244.9 L1485.0,1242.7 L1488.0,1241.6 L1491.0,1254.6 L1494.0,1270.9 L1497.0,1282.4 L1500.0,1292.1 L1503.0,1299.6 L1506.0,1299.3 L1509.0,1293.6 L1512.0,1288.4 L1515.0,1301.3 L1518.0,1320.0 L1521.0,1340.7 L1524.0,1346.4 L1527.0,1345.9 L1530.0,1349.4 L1533.0,1351.2 L1536.0,1352.3 L1539.0,1352.0 L1542.0,1357.6 L1545.0,1359.0 L1548.0,1362.0 L1551.0,1365.3 L1554.0,1366.6 L1557.0,1368.7 L1560.0,1370.4 L1563.0,1372.6 L1566.0,1376.0 L1569.0,1378.7 L1572.0,1380.3 L1575.0,1384.6 L1578.0,1387.8 L1581.0,1392.9 L1584.0,1395.2 L1587.0,1398.1 L1590.0,1401.3 L1593.0,1404.5 L1596.0,1408.4 L1599.0,1413.7 L1602.0,1417.1 L1605.0,1420.1 L1608.0,1421.8 L1611.0,1426.0 L1614.0,1429.0 L1617.0,1431.5 L1620.0,1435.2 L1623.0,1441.3 L1626.0,1445.3 L1629.0,1449.2 L1632.0,1453.1 L1635.0,1457.4 L1638.0,1462.0 L1641.0,1463.5 L1644.0,1467.0 L1647.0,1468.7 L1650.0,1474.6 L1653.0,1481.5 L1656.0,1487.4 L1659.0,1493.8 L1662.0,1502.3 L1665.0,1510.8 L1668.0,1511.2 L1671.0,1512.4 L1674.0,1509.5 L1677.0,1508.2 L1680.0,1507.9 L1683.0,1509.0 L1686.0,1519.9 L1689.0,1529.9 L1692.0,1533.8 L1695.0,1530.6 L1698.0,1531.2 L1701.0,1529.9 L1704.0,1528.9 L1707.0,1528.5 L1710.0,1534.6 L1713.0,1538.1 L1716.0,1543.3 L1719.0,1545.1 L1722.0,1549.6 L1725.0,1553.0 L1728.0,1557.5 L1731.0,1561.5 L1734.0,1564.4 L1737.0,1566.8 L1740.0,1571.8 L1743.0,1572.6 L1746.0,1575.4 L1749.0,1579.0 L1752.0,1582.1 L1755.0,1584.6 L1758.0,1587.1 L1761.0,1589.2 L1764.0,1594.8 L1767.0,1597.0 L1770.0,1600.0 L1773.0,1604.4 L1776.0,1609.9 L1779.0,1608.1 L1782.0,1609.4 L1785.0,1607.1 L1788.0,1606.4 L1791.0,1607.7 L1794.0,1610.3 L1797.0,1615.2 L1800.0,1619.4 L1803.0,1622.1 L1806.0,1623.5 L1809.0,1626.6 L1812.0,1630.1 L1815.0,1633.2 L1818.0,1634.1 L1821.0,1637.4 L1824.0,1641.5 L1827.0,1640.9 L1830.0,1641.5 L1833.0,1641.6 L1836.0,1641.9 L1839.0,1644.4 L1842.0,1644.0 L1845.0,1640.8 L1848.0,1639.5 L1851.0,1637.6 L1854.0,1636.2 L1857.0,1634.0 L1860.0,1630.4 L1863.0,1635.3 L1866.0,1645.8 L1869.0,1649.7 L1872.0,1648.3 L1875.0,1648.5 L1878.0,1647.4 L1881.0,1648.4 L1884.0,1646.6 L1887.0,1646.1 L1890.0,1648.6 L1893.0,1650.2 L1896.0,1650.2 L1899.0,1653.5 L1902.0,1652.8 L1905.0,1650.2 L1908.0,1647.5 L1911.0,1646.9 L1914.0,1645.1 L1917.0,1646.2 L1920.0,1643.3 L1923.0,1643.0 L1926.0,1641.4 L1929.0,1638.8 L1932.0,1638.5 L1935.0,1641.4 L1938.0,1644.0 L1941.0,1647.4 L1944.0,1649.4 L1947.0,1654.0 L1950.0,1651.1 L1953.0,1646.9 L1956.0,1644.3 L1959.0,1639.6 L1962.0,1639.5 L1965.0,1643.7 L1968.0,1645.4 L1971.0,1646.4 L1974.0,1649.7 L1977.0,1651.9 L1980.0,1652.3 L1983.0,1654.8 L1986.0,1653.8 L1989.0,1653.5 L1992.0,1654.9 L1995.0,1653.1 L1998.0,1655.7 L2001.0,1655.0 L2004.0,1653.6 L2007.0,1651.8 L2010.0,1644.9 L2013.0,1637.3 L2016.0,1637.7 L2019.0,1639.4 L2022.0,1644.4 L2025.0,1647.8 L2028.0,1649.2 L2031.0,1649.3 L2034.0,1649.2 L2037.0,1645.1 L2040.0,1646.3 L2043.0,1644.6 L2046.0,1642.7 L2049.0,1645.7 L2052.0,1649.5 L2055.0,1650.4 L2058.0,1653.3 L2061.0,1654.2 L2064.0,1658.2 L2067.0,1658.5 L2070.0,1659.7" fill="none" stroke="#000" stroke-width="6.5" stroke-linejoin="round" />
<path d="M1005.0,185.5 L1195.0,185.5" fill="none" stroke="#000" stroke-width="8" stroke-linejoin="round" />
<path d="M1005.0,285.0 L1197.0,285.0" fill="none" stroke="#f00" stroke-width="8" stroke-dasharray="22 13" stroke-linejoin="round" />
<path d="M1005.0,383.0 L1184.0,383.0" fill="none" stroke="#00f" stroke-width="7.5" stroke-dasharray="7 9" stroke-linejoin="round" />
<path d="M663.5,418.0 L663.5,592.0" fill="none" stroke="#8c8c8c" stroke-width="6.5" stroke-linejoin="round" />
<path d="M649.0,546.0 L663.5,598.0 L678.0,546.0" fill="none" stroke="#555" stroke-width="3.5" stroke-linejoin="round" />
<path d="M663.5,570.0 L663.5,600.0" fill="none" stroke="#333" stroke-width="5" stroke-linejoin="round" />
<path d="M278.0,2128.1 L283.2,2127.7 L288.4,2127.3 L293.7,2127.0 L298.9,2126.8 L304.1,2126.6 L309.3,2126.5 L314.5,2126.5 L319.8,2126.5 L325.0,2126.5 L330.2,2126.6 L335.4,2126.8 L340.6,2127.0 L345.9,2127.2 L351.1,2127.6 L356.3,2127.9 L361.5,2128.3 L366.7,2128.8 L372.0,2129.3 L377.2,2129.9 L382.4,2130.5 L387.6,2131.1 L392.8,2131.9 L398.1,2132.6 L403.3,2133.4 L408.5,2134.3 L413.7,2135.2 L418.9,2136.1 L424.2,2137.1 L429.4,2138.1 L434.6,2139.2 L439.8,2140.3 L445.0,2141.5 L450.3,2142.7 L455.5,2143.9 L460.7,2145.2 L465.9,2146.6 L471.1,2147.9 L476.4,2149.4 L481.6,2150.8 L486.8,2152.3 L492.0,2153.8 L497.2,2155.4 L502.5,2157.0 L507.7,2158.7 L512.9,2160.4 L518.1,2162.1 L523.3,2163.8 L528.6,2165.6 L533.8,2167.5 L539.0,2169.3 L544.2,2171.2 L549.4,2173.2 L554.7,2175.1 L559.9,2177.1 L565.1,2179.2 L570.3,2181.2 L575.5,2183.3 L580.8,2185.5 L586.0,2187.6 L591.2,2189.8 L596.4,2192.0 L601.6,2194.3 L606.9,2196.6 L612.1,2198.9 L617.3,2201.2 L622.5,2203.6 L627.7,2206.0 L633.0,2208.4 L638.2,2210.8 L643.4,2213.3 L648.6,2215.8 L653.8,2218.3 L659.1,2220.9 L664.3,2223.4 L669.5,2226.0 L674.7,2228.6 L679.9,2231.3 L685.2,2233.9 L690.4,2236.6 L695.6,2239.3 L700.8,2242.0 L706.1,2244.8 L711.3,2247.5 L716.5,2250.3 L721.7,2253.1 L726.9,2255.9 L732.2,2258.8 L737.4,2261.6 L742.6,2264.5 L747.8,2267.4 L753.0,2270.3 L758.3,2273.2 L763.5,2276.2 L768.7,2279.1 L773.9,2282.1 L779.1,2285.1 L784.4,2288.0 L789.6,2291.0 L794.8,2294.1 L800.0,2297.1 L805.2,2300.1 L810.5,2303.2 L815.7,2306.2 L820.9,2309.3 L826.1,2312.4 L831.3,2315.5 L836.6,2318.6 L841.8,2321.7 L847.0,2324.8 L852.2,2327.9 L857.4,2331.1 L862.7,2334.2 L867.9,2337.3 L873.1,2340.5 L878.3,2343.6 L883.5,2346.8 L888.8,2349.9 L894.0,2353.1 L899.2,2356.3 L904.4,2359.4 L909.6,2362.6 L914.9,2365.8 L920.1,2369.0 L925.3,2372.1 L930.5,2375.3 L935.7,2378.5 L941.0,2381.7 L946.2,2384.8 L951.4,2388.0 L956.6,2391.2 L961.8,2394.3 L967.1,2397.5 L972.3,2400.7 L977.5,2403.8 L982.7,2407.0 L987.9,2410.1 L993.2,2413.3 L998.4,2416.4 L1003.6,2419.5 L1008.8,2422.7 L1014.0,2425.8 L1019.3,2428.9 L1024.5,2432.0 L1029.7,2435.1 L1034.9,2438.2 L1040.1,2441.2 L1045.4,2444.3 L1050.6,2447.4 L1055.8,2450.4 L1061.0,2453.4 L1066.2,2456.5 L1071.5,2459.5 L1076.7,2462.5 L1081.9,2465.4 L1087.1,2468.4 L1092.3,2471.4 L1097.6,2474.3 L1102.8,2477.2 L1108.0,2480.1" fill="none" stroke="#333" stroke-width="4.5" stroke-linejoin="round" />
<path d="M278.0,2140.9 L283.2,2140.2 L288.4,2139.6 L293.7,2139.1 L298.9,2138.6 L304.1,2138.3 L309.3,2138.0 L314.5,2137.8 L319.8,2137.6 L325.0,2137.6 L330.2,2137.6 L335.4,2137.6 L340.6,2137.8 L345.9,2138.0 L351.1,2138.3 L356.3,2138.7 L361.5,2139.1 L366.7,2139.6 L372.0,2140.1 L377.2,2140.8 L382.4,2141.5 L387.6,2142.2 L392.8,2143.0 L398.1,2143.9 L403.3,2144.9 L408.5,2145.9 L413.7,2146.9 L418.9,2148.1 L424.2,2149.3 L429.4,2150.5 L434.6,2151.8 L439.8,2153.2 L445.0,2154.6 L450.3,2156.1 L455.5,2157.6 L460.7,2159.2 L465.9,2160.8 L471.1,2162.5 L476.4,2164.3 L481.6,2166.1 L486.8,2167.9 L492.0,2169.8 L497.2,2171.8 L502.5,2173.8 L507.7,2175.8 L512.9,2177.9 L518.1,2180.0 L523.3,2182.2 L528.6,2184.5 L533.8,2186.7 L539.0,2189.1 L544.2,2191.4 L549.4,2193.8 L554.7,2196.3 L559.9,2198.8 L565.1,2201.3 L570.3,2203.9 L575.5,2206.5 L580.8,2209.1 L586.0,2211.8 L591.2,2214.5 L596.4,2217.3 L601.6,2220.1 L606.9,2222.9 L612.1,2225.8 L617.3,2228.6 L622.5,2231.6 L627.7,2234.5 L633.0,2237.5 L638.2,2240.5 L643.4,2243.6 L648.6,2246.7 L653.8,2249.8 L659.1,2252.9 L664.3,2256.0 L669.5,2259.2 L674.7,2262.4 L679.9,2265.7 L685.2,2268.9 L690.4,2272.2 L695.6,2275.5 L700.8,2278.8 L706.1,2282.2 L711.3,2285.5 L716.5,2288.9 L721.7,2292.3 L726.9,2295.8 L732.2,2299.2 L737.4,2302.7 L742.6,2306.1 L747.8,2309.6 L753.0,2313.1 L758.3,2316.6 L763.5,2320.2 L768.7,2323.7 L773.9,2327.2 L779.1,2330.8 L784.4,2334.4 L789.6,2338.0 L794.8,2341.5 L800.0,2345.1 L805.2,2348.7 L810.5,2352.4 L815.7,2356.0 L820.9,2359.6 L826.1,2363.2 L831.3,2366.9 L836.6,2370.5 L841.8,2374.1 L847.0,2377.8 L852.2,2381.4 L857.4,2385.0 L862.7,2388.7 L867.9,2392.3 L873.1,2395.9 L878.3,2399.6 L883.5,2403.2 L888.8,2406.8 L894.0,2410.4 L899.2,2414.0 L904.4,2417.6 L909.6,2421.2 L914.9,2424.8 L920.1,2428.4 L925.3,2432.0 L930.5,2435.5 L935.7,2439.1 L941.0,2442.6 L946.2,2446.2 L951.4,2449.7 L956.6,2453.2 L961.8,2456.7 L967.1,2460.1 L972.3,2463.6 L977.5,2467.0 L982.7,2470.4 L987.9,2473.8 L993.2,2477.2 L998.4,2480.6 L1003.6,2483.9 L1008.8,2487.3 L1014.0,2490.6 L1019.3,2493.9 L1024.5,2497.1 L1029.7,2500.3 L1034.9,2503.6 L1040.1,2506.7 L1045.4,2509.9 L1050.6,2513.0 L1055.8,2516.1 L1061.0,2519.2 L1066.2,2522.3 L1071.5,2525.3 L1076.7,2528.3 L1081.9,2531.2 L1087.1,2534.1 L1092.3,2537.0 L1097.6,2539.9 L1102.8,2542.7 L1108.0,2545.5" fill="none" stroke="#333" stroke-width="4.5" stroke-linejoin="round" />
<path d="M1241.0,2181.3 L1246.2,2181.1 L1251.4,2181.0 L1256.7,2180.9 L1261.9,2180.8 L1267.1,2180.7 L1272.3,2180.6 L1277.5,2180.6 L1282.8,2180.5 L1288.0,2180.5 L1293.2,2180.4 L1298.4,2180.4 L1303.6,2180.4 L1308.9,2180.4 L1314.1,2180.4 L1319.3,2180.5 L1324.5,2180.5 L1329.7,2180.6 L1335.0,2180.6 L1340.2,2180.7 L1345.4,2180.8 L1350.6,2180.9 L1355.8,2181.0 L1361.1,2181.1 L1366.3,2181.3 L1371.5,2181.4 L1376.7,2181.6 L1381.9,2181.8 L1387.2,2181.9 L1392.4,2182.1 L1397.6,2182.3 L1402.8,2182.5 L1408.0,2182.8 L1413.3,2183.0 L1418.5,2183.2 L1423.7,2183.5 L1428.9,2183.8 L1434.1,2184.0 L1439.4,2184.3 L1444.6,2184.6 L1449.8,2184.9 L1455.0,2185.2 L1460.2,2185.6 L1465.5,2185.9 L1470.7,2186.2 L1475.9,2186.6 L1481.1,2186.9 L1486.3,2187.3 L1491.6,2187.7 L1496.8,2188.1 L1502.0,2188.5 L1507.2,2188.9 L1512.4,2189.3 L1517.7,2189.7 L1522.9,2190.1 L1528.1,2190.6 L1533.3,2191.0 L1538.5,2191.5 L1543.8,2191.9 L1549.0,2192.4 L1554.2,2192.9 L1559.4,2193.4 L1564.6,2193.9 L1569.9,2194.4 L1575.1,2194.9 L1580.3,2195.4 L1585.5,2195.9 L1590.7,2196.5 L1596.0,2197.0 L1601.2,2197.5 L1606.4,2198.1 L1611.6,2198.7 L1616.8,2199.2 L1622.1,2199.8 L1627.3,2200.4 L1632.5,2201.0 L1637.7,2201.6 L1642.9,2202.2 L1648.2,2202.8 L1653.4,2203.4 L1658.6,2204.0 L1663.8,2204.6 L1669.1,2205.2 L1674.3,2205.9 L1679.5,2206.5 L1684.7,2207.2 L1689.9,2207.8 L1695.2,2208.5 L1700.4,2209.1 L1705.6,2209.8 L1710.8,2210.5 L1716.0,2211.2 L1721.3,2211.8 L1726.5,2212.5 L1731.7,2213.2 L1736.9,2213.9 L1742.1,2214.6 L1747.4,2215.3 L1752.6,2216.0 L1757.8,2216.8 L1763.0,2217.5 L1768.2,2218.2 L1773.5,2218.9 L1778.7,2219.7 L1783.9,2220.4 L1789.1,2221.1 L1794.3,2221.9 L1799.6,2222.6 L1804.8,2223.4 L1810.0,2224.1 L1815.2,2224.9 L1820.4,2225.7 L1825.7,2226.4 L1830.9,2227.2 L1836.1,2228.0 L1841.3,2228.7 L1846.5,2229.5 L1851.8,2230.3 L1857.0,2231.1 L1862.2,2231.9 L1867.4,2232.6 L1872.6,2233.4 L1877.9,2234.2 L1883.1,2235.0 L1888.3,2235.8 L1893.5,2236.6 L1898.7,2237.4 L1904.0,2238.2 L1909.2,2239.0 L1914.4,2239.8 L1919.6,2240.6 L1924.8,2241.4 L1930.1,2242.2 L1935.3,2243.0 L1940.5,2243.9 L1945.7,2244.7 L1950.9,2245.5 L1956.2,2246.3 L1961.4,2247.1 L1966.6,2247.9 L1971.8,2248.7 L1977.0,2249.6 L1982.3,2250.4 L1987.5,2251.2 L1992.7,2252.0 L1997.9,2252.8 L2003.1,2253.6 L2008.4,2254.5 L2013.6,2255.3 L2018.8,2256.1 L2024.0,2256.9 L2029.2,2257.7 L2034.5,2258.5 L2039.7,2259.3 L2044.9,2260.2 L2050.1,2261.0 L2055.3,2261.8 L2060.6,2262.6 L2065.8,2263.4 L2071.0,2264.2" fill="none" stroke="#333" stroke-width="4.5" stroke-linejoin="round" />
<path d="M1241.0,2184.6 L1246.2,2184.2 L1251.4,2183.9 L1256.7,2183.6 L1261.9,2183.4 L1267.1,2183.2 L1272.3,2183.1 L1277.5,2183.0 L1282.8,2182.9 L1288.0,2182.9 L1293.2,2182.9 L1298.4,2183.0 L1303.6,2183.1 L1308.9,2183.2 L1314.1,2183.4 L1319.3,2183.7 L1324.5,2184.0 L1329.7,2184.3 L1335.0,2184.6 L1340.2,2185.0 L1345.4,2185.5 L1350.6,2186.0 L1355.8,2186.5 L1361.1,2187.1 L1366.3,2187.7 L1371.5,2188.3 L1376.7,2189.0 L1381.9,2189.7 L1387.2,2190.5 L1392.4,2191.3 L1397.6,2192.2 L1402.8,2193.0 L1408.0,2194.0 L1413.3,2194.9 L1418.5,2195.9 L1423.7,2197.0 L1428.9,2198.0 L1434.1,2199.1 L1439.4,2200.3 L1444.6,2201.5 L1449.8,2202.7 L1455.0,2204.0 L1460.2,2205.3 L1465.5,2206.6 L1470.7,2208.0 L1475.9,2209.4 L1481.1,2210.8 L1486.3,2212.3 L1491.6,2213.8 L1496.8,2215.3 L1502.0,2216.9 L1507.2,2218.5 L1512.4,2220.2 L1517.7,2221.9 L1522.9,2223.6 L1528.1,2225.4 L1533.3,2227.1 L1538.5,2229.0 L1543.8,2230.8 L1549.0,2232.7 L1554.2,2234.6 L1559.4,2236.6 L1564.6,2238.6 L1569.9,2240.6 L1575.1,2242.7 L1580.3,2244.7 L1585.5,2246.9 L1590.7,2249.0 L1596.0,2251.2 L1601.2,2253.4 L1606.4,2255.6 L1611.6,2257.9 L1616.8,2260.2 L1622.1,2262.5 L1627.3,2264.9 L1632.5,2267.3 L1637.7,2269.7 L1642.9,2272.2 L1648.2,2274.6 L1653.4,2277.2 L1658.6,2279.7 L1663.8,2282.3 L1669.1,2284.9 L1674.3,2287.5 L1679.5,2290.1 L1684.7,2292.8 L1689.9,2295.5 L1695.2,2298.3 L1700.4,2301.0 L1705.6,2303.8 L1710.8,2306.6 L1716.0,2309.4 L1721.3,2312.3 L1726.5,2315.1 L1731.7,2318.0 L1736.9,2320.9 L1742.1,2323.8 L1747.4,2326.8 L1752.6,2329.7 L1757.8,2332.7 L1763.0,2335.7 L1768.2,2338.7 L1773.5,2341.7 L1778.7,2344.8 L1783.9,2347.8 L1789.1,2350.9 L1794.3,2354.0 L1799.6,2357.1 L1804.8,2360.2 L1810.0,2363.3 L1815.2,2366.4 L1820.4,2369.5 L1825.7,2372.7 L1830.9,2375.8 L1836.1,2379.0 L1841.3,2382.1 L1846.5,2385.3 L1851.8,2388.5 L1857.0,2391.6 L1862.2,2394.8 L1867.4,2398.0 L1872.6,2401.2 L1877.9,2404.4 L1883.1,2407.6 L1888.3,2410.8 L1893.5,2414.0 L1898.7,2417.2 L1904.0,2420.3 L1909.2,2423.5 L1914.4,2426.7 L1919.6,2429.9 L1924.8,2433.1 L1930.1,2436.2 L1935.3,2439.4 L1940.5,2442.6 L1945.7,2445.7 L1950.9,2448.9 L1956.2,2452.0 L1961.4,2455.2 L1966.6,2458.3 L1971.8,2461.4 L1977.0,2464.5 L1982.3,2467.6 L1987.5,2470.7 L1992.7,2473.7 L1997.9,2476.8 L2003.1,2479.8 L2008.4,2482.8 L2013.6,2485.9 L2018.8,2488.9 L2024.0,2491.8 L2029.2,2494.8 L2034.5,2497.7 L2039.7,2500.7 L2044.9,2503.6 L2050.1,2506.5 L2055.3,2509.3 L2060.6,2512.2 L2065.8,2515.0 L2071.0,2517.8" fill="none" stroke="#333" stroke-width="4.5" stroke-linejoin="round" />
<text transform="translate(580.00,88.00) scale(1.0000,1.0000)" font-size="90">Ho<tspan font-size="62" dy="22">4</tspan><tspan dy="-22">PtAl</tspan></text>
<text transform="translate(1638.50,110.50) scale(1.0000,1.0000)" font-size="90">Er<tspan font-size="62" dy="22">4</tspan><tspan dy="-22">PtAl</tspan></text>
<text transform="translate(1033.35,2068.00) scale(1.0926,0.9846)" font-size="100"><tspan font-style="italic">T</tspan></text>
<text transform="translate(1113.48,2068.47) scale(1.1308,0.9778)" font-size="100">(K)</text>
<text transform="translate(934.77,2793.46) scale(0.9278,0.9395)" font-size="112">time</text>
<text transform="translate(1145.22,2796.72) scale(0.9551,0.9451)" font-size="112">(min.)</text>
<text transform="translate(334.84,657.99) scale(1.0404,0.9744)" font-size="92">(a)</text>
<text transform="translate(340.78,1180.52) scale(1.0040,0.9829)" font-size="92">(b)</text>
<text transform="translate(1911.09,386.46) scale(0.9787,0.9756)" font-size="92">(c)</text>
<text transform="translate(1858.79,1259.31) scale(1.0020,0.9732)" font-size="92">(d)</text>
<text transform="translate(358.98,2467.43) scale(1.0056,0.9775)" font-size="88">(e)</text>
<text transform="translate(1346.95,2492.96) scale(1.0125,0.9074)" font-size="88">(f)</text>
<text transform="translate(814.42,2312.39) scale(0.9970,0.9068)" font-size="88">10 K</text>
<text transform="translate(703.41,2471.51) scale(0.9782,0.8881)" font-size="88">5 K</text>
<text transform="translate(1678.26,2213.37) scale(0.9476,0.9254)" font-size="88">5 K</text>
<text transform="translate(1622.02,2446.32) scale(0.9948,0.9814)" font-size="88">2.5 K</text>
<text transform="translate(1219.29,211.34) scale(1.2147,1.0595)" font-size="78"><tspan font-style="italic">ν</tspan></text>
<text transform="translate(1268.69,206.20) scale(1.1778,0.8000)" font-size="78">=</text>
<text transform="translate(1338.22,210.41) scale(0.9977,0.9904)" font-size="78">1.3</text>
<text transform="translate(1454.11,211.40) scale(1.0460,1.0098)" font-size="78">Hz</text>
<text transform="translate(1264.73,303.90) scale(1.1667,0.7750)" font-size="78">=</text>
<text transform="translate(1338.37,308.51) scale(0.9471,0.9904)" font-size="78">13</text>
<text transform="translate(1432.01,309.50) scale(1.0460,1.0098)" font-size="78">Hz</text>
<text transform="translate(1264.73,401.62) scale(1.1667,0.7700)" font-size="78">=</text>
<text transform="translate(1338.16,406.31) scale(0.9776,0.9865)" font-size="78">133</text>
<text transform="translate(1472.11,407.30) scale(1.0460,1.0059)" font-size="78">Hz</text>
<text transform="translate(172.80,188.50) scale(1.0000,1.0000)" font-size="89">40</text>
<text transform="translate(172.80,397.10) scale(1.0000,1.0000)" font-size="89">30</text>
<text transform="translate(172.80,606.00) scale(1.0000,1.0000)" font-size="89">20</text>
<text transform="translate(172.80,814.00) scale(1.0000,1.0000)" font-size="89">10</text>
<text transform="translate(151.60,1250.40) scale(1.0000,1.0000)" font-size="89">1.0</text>
<text transform="translate(151.60,1495.30) scale(1.0000,1.0000)" font-size="89">0.5</text>
<text transform="translate(151.60,1740.40) scale(1.0000,1.0000)" font-size="89">0.0</text>
<text transform="translate(2096.00,282.00) scale(1.0000,1.0000)" font-size="89">16</text>
<text transform="translate(2097.00,653.00) scale(1.0000,1.0000)" font-size="89">8</text>
<text transform="translate(2088.50,1268.40) scale(1.0000,1.0000)" font-size="89">0.2</text>
<text transform="translate(2088.50,1682.75) scale(1.0000,1.0000)" font-size="89">0.0</text>
<text transform="translate(254.00,1953.20) scale(1.0000,1.0000)" font-size="89">0</text>
<text transform="translate(520.40,1953.20) scale(1.0000,1.0000)" font-size="89">8</text>
<text transform="translate(763.50,1953.20) scale(1.0000,1.0000)" font-size="89">16</text>
<text transform="translate(1024.50,1953.20) scale(1.0000,1.0000)" font-size="89">24</text>
<text transform="translate(1219.20,1958.10) scale(1.0000,1.0000)" font-size="89">0</text>
<text transform="translate(1554.20,1958.10) scale(1.0000,1.0000)" font-size="89">8</text>
<text transform="translate(1863.50,1958.40) scale(1.0000,1.0000)" font-size="89">16</text>
<text transform="translate(232.30,2684.50) scale(1.0000,1.0000)" font-size="88">10</text>
<text transform="translate(498.50,2684.50) scale(1.0000,1.0000)" font-size="88">100</text>
<text transform="translate(770.80,2684.50) scale(1.0000,1.0000)" font-size="88">1000</text>
<text transform="translate(1197.80,2684.50) scale(1.0000,1.0000)" font-size="88">10</text>
<text transform="translate(1469.00,2684.50) scale(1.0000,1.0000)" font-size="88">100</text>
<text transform="translate(1736.10,2684.50) scale(1.0000,1.0000)" font-size="88">1000</text>
<text transform="translate(784.98,611.65) scale(0.9834,0.9492)" font-size="90"><tspan font-style="italic">H</tspan>= 0</text>
<text transform="translate(559.57,875.26) scale(0.9665,0.9359)" font-size="90"><tspan font-style="italic">H</tspan> = 5 kOe</text>
<text transform="translate(535.88,1300.38) scale(0.9829,1.0246)" font-size="90"><tspan font-style="italic">H</tspan>= 0</text>
<text transform="translate(327.09,1800.39) scale(0.9918,0.9125)" font-size="90"><tspan font-style="italic">H</tspan> = 5 kOe</text>
<text transform="translate(1595.59,538.20) scale(0.9873,1.0033)" font-size="90"><tspan font-style="italic">H</tspan>= 0</text>
<text transform="translate(1555.39,944.37) scale(0.9932,0.9266)" font-size="90"><tspan font-style="italic">H</tspan>= 5 kOe</text>
<text transform="translate(1419.00,1636.02) scale(1.0000,0.9754)" font-size="90"><tspan font-style="italic">H</tspan>= 0</text>
<text transform="translate(106.24,820.54) rotate(-90) scale(1.2196,0.9800)" font-size="104"><tspan font-style="italic">χ</tspan></text>
<text transform="translate(126.85,761.46) rotate(-90) scale(1.2917,1.3875)" font-size="104">′</text>
<text transform="translate(107.89,718.45) rotate(-90) scale(1.0296,1.0457)" font-size="104">(emu/mol)</text>
<text transform="translate(97.64,1750.34) rotate(-90) scale(1.3321,1.0071)" font-size="104"><tspan font-style="italic">χ</tspan></text>
<text transform="translate(114.75,1691.45) rotate(-90) scale(1.1742,1.3375)" font-size="104">″</text>
<text transform="translate(99.48,1629.92) rotate(-90) scale(1.0249,1.0511)" font-size="104">(emu/mol)</text>
<text transform="translate(194.20,2574.36) rotate(-90) scale(1.0426,0.9884)" font-size="106"><tspan font-style="italic">M</tspan></text>
<text transform="translate(221.60,2486.10) rotate(-90) scale(1.0339,1.0174)" font-size="70"><tspan font-style="italic">IRM</tspan></text>
<text transform="translate(197.90,2341.00) rotate(-90) scale(1.0000,1.0958)" font-size="106">/</text>
<text transform="translate(194.20,2312.41) rotate(-90) scale(1.0926,0.9884)" font-size="106"><tspan font-style="italic">M</tspan></text>
<text transform="translate(197.43,2224.64) rotate(-90) scale(1.0272,1.0442)" font-size="106">(0)</text></svg></body></html>
